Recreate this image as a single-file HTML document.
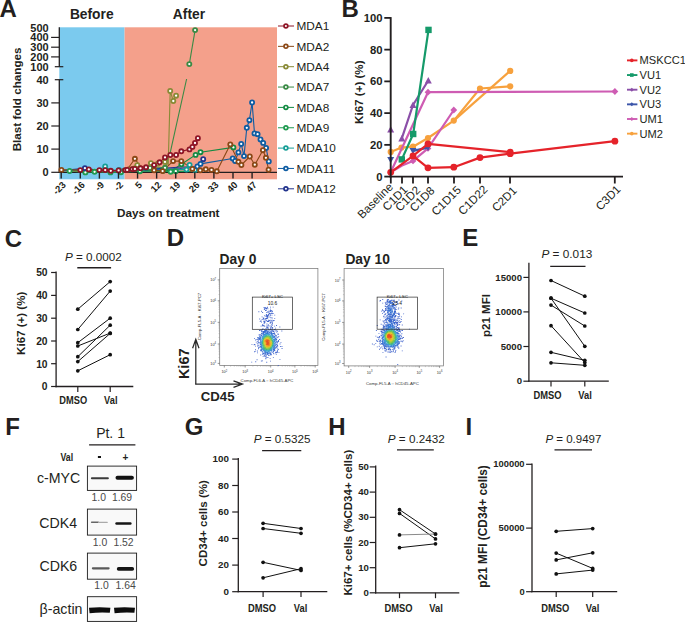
<!DOCTYPE html>
<html><head><meta charset="utf-8"><style>
html,body{margin:0;padding:0;background:#fff;}
svg{display:block;font-family:"Liberation Sans", sans-serif;}
</style></head><body>
<svg width="685" height="622" viewBox="0 0 685 622">
<rect width="685" height="622" fill="#fff"/>
<text x="-0.60" y="16.80" font-size="24" text-anchor="start" fill="#231f20" style="font-weight:bold;" >A</text>
<text x="341.60" y="16.90" font-size="24" text-anchor="start" fill="#231f20" style="font-weight:bold;" >B</text>
<text x="4.80" y="246.50" font-size="24" text-anchor="start" fill="#231f20" style="font-weight:bold;" >C</text>
<text x="166.70" y="246.30" font-size="24" text-anchor="start" fill="#231f20" style="font-weight:bold;" >D</text>
<text x="462.30" y="246.30" font-size="24" text-anchor="start" fill="#231f20" style="font-weight:bold;" >E</text>
<text x="5.30" y="434.60" font-size="24" text-anchor="start" fill="#231f20" style="font-weight:bold;" >F</text>
<text x="184.70" y="434.80" font-size="24" text-anchor="start" fill="#231f20" style="font-weight:bold;" >G</text>
<text x="328.30" y="434.80" font-size="24" text-anchor="start" fill="#231f20" style="font-weight:bold;" >H</text>
<text x="465.50" y="434.80" font-size="24" text-anchor="start" fill="#231f20" style="font-weight:bold;" >I</text>
<rect x="59.30" y="27.30" width="65.30" height="152.00" fill="#7BCAEE" />
<rect x="124.60" y="27.30" width="152.40" height="152.00" fill="#F4A08B" />
<text x="91.75" y="19.10" font-size="13.8" text-anchor="middle" fill="#231f20" style="font-weight:bold;" >Before</text>
<text x="188.95" y="19.10" font-size="13.8" text-anchor="middle" fill="#231f20" style="font-weight:bold;" >After</text>
<line x1="59.30" y1="27.30" x2="59.30" y2="66.70" stroke="#231f20" stroke-width="1.3" />
<line x1="59.30" y1="79.70" x2="59.30" y2="172.90" stroke="#231f20" stroke-width="1.3" />
<line x1="51.10" y1="37.40" x2="59.30" y2="37.40" stroke="#231f20" stroke-width="1.2" />
<line x1="51.10" y1="47.20" x2="59.30" y2="47.20" stroke="#231f20" stroke-width="1.2" />
<line x1="51.10" y1="56.90" x2="59.30" y2="56.90" stroke="#231f20" stroke-width="1.2" />
<line x1="54.80" y1="66.70" x2="63.30" y2="66.70" stroke="#231f20" stroke-width="1.2" />
<line x1="54.80" y1="79.70" x2="63.30" y2="79.70" stroke="#231f20" stroke-width="1.2" />
<line x1="51.30" y1="102.90" x2="59.30" y2="102.90" stroke="#231f20" stroke-width="1.2" />
<line x1="51.30" y1="126.00" x2="59.30" y2="126.00" stroke="#231f20" stroke-width="1.2" />
<line x1="51.30" y1="149.10" x2="59.30" y2="149.10" stroke="#231f20" stroke-width="1.2" />
<line x1="51.30" y1="172.30" x2="59.30" y2="172.30" stroke="#231f20" stroke-width="1.2" />
<text x="48.70" y="31.80" font-size="11" text-anchor="end" fill="#231f20" style="font-weight:bold;" >500</text>
<text x="48.70" y="41.30" font-size="11" text-anchor="end" fill="#231f20" style="font-weight:bold;" >400</text>
<text x="48.70" y="51.10" font-size="11" text-anchor="end" fill="#231f20" style="font-weight:bold;" >300</text>
<text x="48.70" y="60.80" font-size="11" text-anchor="end" fill="#231f20" style="font-weight:bold;" >200</text>
<text x="48.70" y="70.60" font-size="11" text-anchor="end" fill="#231f20" style="font-weight:bold;" >100</text>
<text x="48.70" y="83.60" font-size="11" text-anchor="end" fill="#231f20" style="font-weight:bold;" >40</text>
<text x="48.70" y="106.80" font-size="11" text-anchor="end" fill="#231f20" style="font-weight:bold;" >30</text>
<text x="48.70" y="129.90" font-size="11" text-anchor="end" fill="#231f20" style="font-weight:bold;" >20</text>
<text x="48.70" y="153.00" font-size="11" text-anchor="end" fill="#231f20" style="font-weight:bold;" >10</text>
<text x="48.70" y="176.20" font-size="11" text-anchor="end" fill="#231f20" style="font-weight:bold;" >0</text>
<line x1="58.70" y1="172.30" x2="277.00" y2="172.30" stroke="#231f20" stroke-width="1.3" />
<polyline points="69.60,171.00 85.40,172.40 94.60,171.80 110.50,172.40 121.00,172.20 140.00,171.20 158.00,171.00 170.70,171.70 175.80,171.20 186.00,171.50 191.00,171.50" fill="none" stroke="#1F9A50" stroke-width="1.1" stroke-linejoin="round" />
<polyline points="72.00,171.00 90.00,170.60 100.30,169.40 105.20,166.40 110.00,169.80 119.00,170.00 132.00,171.00 150.00,170.80 168.00,169.50 186.50,169.60 189.60,165.00 195.00,170.00 202.00,171.20" fill="none" stroke="#169E96" stroke-width="1.1" stroke-linejoin="round" />
<polyline points="75.00,170.60 95.00,170.20 112.00,170.60 128.00,171.20 150.00,170.50 163.00,170.80 172.00,170.40 181.40,164.30 195.60,154.90 200.50,152.20 233.40,147.40" fill="none" stroke="#138A42" stroke-width="1.1" stroke-linejoin="round" />
<polyline points="68.00,170.60 86.00,169.80 104.00,170.40 124.00,170.60 140.00,168.00 155.00,167.00 165.00,167.80 170.50,151.30 186.60,79.00" fill="none" stroke="#3A8A45" stroke-width="1.1" stroke-linejoin="round" />
<polyline points="189.30,64.10 195.10,30.10" fill="none" stroke="#3A8A45" stroke-width="1.1" stroke-linejoin="round" />
<polyline points="64.00,171.00 84.00,171.30 102.00,171.20 120.00,170.50 137.30,165.10 143.70,170.70 150.90,163.10 158.00,163.50 165.00,161.90 168.20,164.70 170.20,91.00 173.30,101.00 176.10,95.70" fill="none" stroke="#898A36" stroke-width="1.1" stroke-linejoin="round" />
<polyline points="61.40,170.60 84.90,168.20 100.40,170.60 118.80,170.50 140.60,169.50 160.00,168.50 181.00,167.00 197.20,166.80 203.20,159.20" fill="none" stroke="#22338C" stroke-width="1.1" stroke-linejoin="round" />
<polyline points="63.00,170.80 82.00,169.20 102.00,170.20 120.00,170.80 140.00,170.20 160.00,169.20 180.00,168.50 197.40,166.50 200.50,163.90 232.70,158.50 235.10,161.00 238.40,152.40 241.20,143.90 244.00,156.10 246.80,127.80 249.40,120.20 252.10,102.50 254.50,133.40 257.60,134.20 260.50,139.50 263.20,142.90 266.10,147.90 268.80,161.40" fill="none" stroke="#0E5CA2" stroke-width="1.1" stroke-linejoin="round" />
<polyline points="61.40,169.90 83.00,170.00 101.00,170.50 118.00,170.60 129.20,166.70 134.90,158.80 139.70,165.50 147.00,169.00 154.10,170.30 162.60,171.10 173.10,161.10 181.30,161.10 192.40,168.90 200.20,170.30 205.80,169.30 211.50,169.90 216.80,171.30 230.30,144.40 238.40,161.80 241.40,165.00 249.80,156.50 254.80,164.70 262.90,150.20 265.90,157.80 268.60,169.70" fill="none" stroke="#8B4816" stroke-width="1.1" stroke-linejoin="round" />
<polyline points="80.30,170.10 88.80,169.40 99.40,170.10 105.20,170.10 110.80,170.80 118.60,170.40 125.10,170.10 127.20,169.90 132.40,169.20 134.90,168.90 140.50,168.30 146.00,167.30 154.10,165.10 159.60,162.30 165.00,157.40 170.30,155.00 176.10,155.00 181.30,151.30 189.50,149.40 192.40,146.90 195.00,143.00 197.90,138.20" fill="none" stroke="#8E1526" stroke-width="1.1" stroke-linejoin="round" />
<circle cx="69.60" cy="171.00" r="2.05" fill="#fff" stroke="#1F9A50" stroke-width="1.8"/>
<circle cx="85.40" cy="172.40" r="2.05" fill="#fff" stroke="#1F9A50" stroke-width="1.8"/>
<circle cx="94.60" cy="171.80" r="2.05" fill="#fff" stroke="#1F9A50" stroke-width="1.8"/>
<circle cx="110.50" cy="172.40" r="2.05" fill="#fff" stroke="#1F9A50" stroke-width="1.8"/>
<circle cx="121.00" cy="172.20" r="2.05" fill="#fff" stroke="#1F9A50" stroke-width="1.8"/>
<circle cx="140.00" cy="171.20" r="2.05" fill="#fff" stroke="#1F9A50" stroke-width="1.8"/>
<circle cx="170.70" cy="171.70" r="2.05" fill="#fff" stroke="#1F9A50" stroke-width="1.8"/>
<circle cx="175.80" cy="171.20" r="2.05" fill="#fff" stroke="#1F9A50" stroke-width="1.8"/>
<circle cx="105.20" cy="166.40" r="2.05" fill="#fff" stroke="#169E96" stroke-width="1.8"/>
<circle cx="186.50" cy="169.60" r="2.05" fill="#fff" stroke="#169E96" stroke-width="1.8"/>
<circle cx="189.60" cy="165.00" r="2.05" fill="#fff" stroke="#169E96" stroke-width="1.8"/>
<circle cx="195.00" cy="170.00" r="2.05" fill="#fff" stroke="#169E96" stroke-width="1.8"/>
<circle cx="119.00" cy="170.00" r="2.05" fill="#fff" stroke="#169E96" stroke-width="1.8"/>
<circle cx="181.40" cy="164.30" r="2.05" fill="#fff" stroke="#138A42" stroke-width="1.8"/>
<circle cx="195.60" cy="154.90" r="2.05" fill="#fff" stroke="#138A42" stroke-width="1.8"/>
<circle cx="200.50" cy="152.20" r="2.05" fill="#fff" stroke="#138A42" stroke-width="1.8"/>
<circle cx="233.40" cy="147.40" r="2.05" fill="#fff" stroke="#138A42" stroke-width="1.8"/>
<circle cx="163.00" cy="170.80" r="2.05" fill="#fff" stroke="#138A42" stroke-width="1.8"/>
<circle cx="189.30" cy="64.10" r="2.05" fill="#fff" stroke="#3A8A45" stroke-width="1.8"/>
<circle cx="195.10" cy="30.10" r="2.05" fill="#fff" stroke="#3A8A45" stroke-width="1.8"/>
<circle cx="150.00" cy="168.00" r="2.05" fill="#fff" stroke="#3A8A45" stroke-width="1.8"/>
<circle cx="165.00" cy="167.80" r="2.05" fill="#fff" stroke="#3A8A45" stroke-width="1.8"/>
<circle cx="170.20" cy="91.00" r="2.05" fill="#fff" stroke="#898A36" stroke-width="1.8"/>
<circle cx="173.30" cy="101.00" r="2.05" fill="#fff" stroke="#898A36" stroke-width="1.8"/>
<circle cx="176.10" cy="95.70" r="2.05" fill="#fff" stroke="#898A36" stroke-width="1.8"/>
<circle cx="137.30" cy="165.10" r="2.05" fill="#fff" stroke="#898A36" stroke-width="1.8"/>
<circle cx="150.90" cy="163.10" r="2.05" fill="#fff" stroke="#898A36" stroke-width="1.8"/>
<circle cx="158.00" cy="163.50" r="2.05" fill="#fff" stroke="#898A36" stroke-width="1.8"/>
<circle cx="165.00" cy="161.90" r="2.05" fill="#fff" stroke="#898A36" stroke-width="1.8"/>
<circle cx="203.20" cy="159.20" r="2.05" fill="#fff" stroke="#22338C" stroke-width="1.8"/>
<circle cx="84.90" cy="168.20" r="2.05" fill="#fff" stroke="#22338C" stroke-width="1.8"/>
<circle cx="197.40" cy="166.50" r="2.05" fill="#fff" stroke="#0E5CA2" stroke-width="1.8"/>
<circle cx="200.50" cy="163.90" r="2.05" fill="#fff" stroke="#0E5CA2" stroke-width="1.8"/>
<circle cx="232.70" cy="158.50" r="2.05" fill="#fff" stroke="#0E5CA2" stroke-width="1.8"/>
<circle cx="235.10" cy="161.00" r="2.05" fill="#fff" stroke="#0E5CA2" stroke-width="1.8"/>
<circle cx="238.40" cy="152.40" r="2.05" fill="#fff" stroke="#0E5CA2" stroke-width="1.8"/>
<circle cx="241.20" cy="143.90" r="2.05" fill="#fff" stroke="#0E5CA2" stroke-width="1.8"/>
<circle cx="244.00" cy="156.10" r="2.05" fill="#fff" stroke="#0E5CA2" stroke-width="1.8"/>
<circle cx="246.80" cy="127.80" r="2.05" fill="#fff" stroke="#0E5CA2" stroke-width="1.8"/>
<circle cx="249.40" cy="120.20" r="2.05" fill="#fff" stroke="#0E5CA2" stroke-width="1.8"/>
<circle cx="252.10" cy="102.50" r="2.05" fill="#fff" stroke="#0E5CA2" stroke-width="1.8"/>
<circle cx="254.50" cy="133.40" r="2.05" fill="#fff" stroke="#0E5CA2" stroke-width="1.8"/>
<circle cx="257.60" cy="134.20" r="2.05" fill="#fff" stroke="#0E5CA2" stroke-width="1.8"/>
<circle cx="260.50" cy="139.50" r="2.05" fill="#fff" stroke="#0E5CA2" stroke-width="1.8"/>
<circle cx="263.20" cy="142.90" r="2.05" fill="#fff" stroke="#0E5CA2" stroke-width="1.8"/>
<circle cx="266.10" cy="147.90" r="2.05" fill="#fff" stroke="#0E5CA2" stroke-width="1.8"/>
<circle cx="268.80" cy="161.40" r="2.05" fill="#fff" stroke="#0E5CA2" stroke-width="1.8"/>
<circle cx="61.40" cy="169.90" r="2.05" fill="#fff" stroke="#8B4816" stroke-width="1.8"/>
<circle cx="134.90" cy="158.80" r="2.05" fill="#fff" stroke="#8B4816" stroke-width="1.8"/>
<circle cx="154.10" cy="170.30" r="2.05" fill="#fff" stroke="#8B4816" stroke-width="1.8"/>
<circle cx="162.60" cy="171.10" r="2.05" fill="#fff" stroke="#8B4816" stroke-width="1.8"/>
<circle cx="173.10" cy="161.10" r="2.05" fill="#fff" stroke="#8B4816" stroke-width="1.8"/>
<circle cx="181.30" cy="161.10" r="2.05" fill="#fff" stroke="#8B4816" stroke-width="1.8"/>
<circle cx="192.40" cy="168.90" r="2.05" fill="#fff" stroke="#8B4816" stroke-width="1.8"/>
<circle cx="200.20" cy="170.30" r="2.05" fill="#fff" stroke="#8B4816" stroke-width="1.8"/>
<circle cx="205.80" cy="169.30" r="2.05" fill="#fff" stroke="#8B4816" stroke-width="1.8"/>
<circle cx="211.50" cy="169.90" r="2.05" fill="#fff" stroke="#8B4816" stroke-width="1.8"/>
<circle cx="216.80" cy="171.30" r="2.05" fill="#fff" stroke="#8B4816" stroke-width="1.8"/>
<circle cx="230.30" cy="144.40" r="2.05" fill="#fff" stroke="#8B4816" stroke-width="1.8"/>
<circle cx="238.40" cy="161.80" r="2.05" fill="#fff" stroke="#8B4816" stroke-width="1.8"/>
<circle cx="241.40" cy="165.00" r="2.05" fill="#fff" stroke="#8B4816" stroke-width="1.8"/>
<circle cx="249.80" cy="156.50" r="2.05" fill="#fff" stroke="#8B4816" stroke-width="1.8"/>
<circle cx="254.80" cy="164.70" r="2.05" fill="#fff" stroke="#8B4816" stroke-width="1.8"/>
<circle cx="262.90" cy="150.20" r="2.05" fill="#fff" stroke="#8B4816" stroke-width="1.8"/>
<circle cx="265.90" cy="157.80" r="2.05" fill="#fff" stroke="#8B4816" stroke-width="1.8"/>
<circle cx="268.60" cy="169.70" r="2.05" fill="#fff" stroke="#8B4816" stroke-width="1.8"/>
<circle cx="80.30" cy="170.10" r="2.05" fill="#fff" stroke="#8E1526" stroke-width="1.8"/>
<circle cx="88.80" cy="169.40" r="2.05" fill="#fff" stroke="#8E1526" stroke-width="1.8"/>
<circle cx="99.40" cy="170.10" r="2.05" fill="#fff" stroke="#8E1526" stroke-width="1.8"/>
<circle cx="105.20" cy="170.10" r="2.05" fill="#fff" stroke="#8E1526" stroke-width="1.8"/>
<circle cx="110.80" cy="170.80" r="2.05" fill="#fff" stroke="#8E1526" stroke-width="1.8"/>
<circle cx="118.60" cy="170.40" r="2.05" fill="#fff" stroke="#8E1526" stroke-width="1.8"/>
<circle cx="125.10" cy="170.10" r="2.05" fill="#fff" stroke="#8E1526" stroke-width="1.8"/>
<circle cx="127.20" cy="169.90" r="2.05" fill="#fff" stroke="#8E1526" stroke-width="1.8"/>
<circle cx="132.40" cy="169.20" r="2.05" fill="#fff" stroke="#8E1526" stroke-width="1.8"/>
<circle cx="134.90" cy="168.90" r="2.05" fill="#fff" stroke="#8E1526" stroke-width="1.8"/>
<circle cx="140.50" cy="168.30" r="2.05" fill="#fff" stroke="#8E1526" stroke-width="1.8"/>
<circle cx="146.00" cy="167.30" r="2.05" fill="#fff" stroke="#8E1526" stroke-width="1.8"/>
<circle cx="154.10" cy="165.10" r="2.05" fill="#fff" stroke="#8E1526" stroke-width="1.8"/>
<circle cx="159.60" cy="162.30" r="2.05" fill="#fff" stroke="#8E1526" stroke-width="1.8"/>
<circle cx="165.00" cy="157.40" r="2.05" fill="#fff" stroke="#8E1526" stroke-width="1.8"/>
<circle cx="170.30" cy="155.00" r="2.05" fill="#fff" stroke="#8E1526" stroke-width="1.8"/>
<circle cx="176.10" cy="155.00" r="2.05" fill="#fff" stroke="#8E1526" stroke-width="1.8"/>
<circle cx="181.30" cy="151.30" r="2.05" fill="#fff" stroke="#8E1526" stroke-width="1.8"/>
<circle cx="189.50" cy="149.40" r="2.05" fill="#fff" stroke="#8E1526" stroke-width="1.8"/>
<circle cx="192.40" cy="146.90" r="2.05" fill="#fff" stroke="#8E1526" stroke-width="1.8"/>
<circle cx="195.00" cy="143.00" r="2.05" fill="#fff" stroke="#8E1526" stroke-width="1.8"/>
<circle cx="197.90" cy="138.20" r="2.05" fill="#fff" stroke="#8E1526" stroke-width="1.8"/>
<line x1="61.20" y1="172.30" x2="61.20" y2="178.60" stroke="#231f20" stroke-width="1.4" />
<text transform="translate(66.50,185.6) rotate(-45)" font-size="9.5" text-anchor="end" fill="#231f20" style="font-weight:bold">-23</text>
<line x1="80.29" y1="172.30" x2="80.29" y2="178.60" stroke="#231f20" stroke-width="1.4" />
<text transform="translate(85.59,185.6) rotate(-45)" font-size="9.5" text-anchor="end" fill="#231f20" style="font-weight:bold">-16</text>
<line x1="99.38" y1="172.30" x2="99.38" y2="178.60" stroke="#231f20" stroke-width="1.4" />
<text transform="translate(104.68,185.6) rotate(-45)" font-size="9.5" text-anchor="end" fill="#231f20" style="font-weight:bold">-9</text>
<line x1="118.47" y1="172.30" x2="118.47" y2="178.60" stroke="#231f20" stroke-width="1.4" />
<text transform="translate(123.77,185.6) rotate(-45)" font-size="9.5" text-anchor="end" fill="#231f20" style="font-weight:bold">-2</text>
<line x1="137.56" y1="172.30" x2="137.56" y2="178.60" stroke="#231f20" stroke-width="1.4" />
<text transform="translate(142.86,185.6) rotate(-45)" font-size="9.5" text-anchor="end" fill="#231f20" style="font-weight:bold">5</text>
<line x1="156.64" y1="172.30" x2="156.64" y2="178.60" stroke="#231f20" stroke-width="1.4" />
<text transform="translate(161.94,185.6) rotate(-45)" font-size="9.5" text-anchor="end" fill="#231f20" style="font-weight:bold">12</text>
<line x1="175.73" y1="172.30" x2="175.73" y2="178.60" stroke="#231f20" stroke-width="1.4" />
<text transform="translate(181.03,185.6) rotate(-45)" font-size="9.5" text-anchor="end" fill="#231f20" style="font-weight:bold">19</text>
<line x1="194.82" y1="172.30" x2="194.82" y2="178.60" stroke="#231f20" stroke-width="1.4" />
<text transform="translate(200.12,185.6) rotate(-45)" font-size="9.5" text-anchor="end" fill="#231f20" style="font-weight:bold">26</text>
<line x1="213.91" y1="172.30" x2="213.91" y2="178.60" stroke="#231f20" stroke-width="1.4" />
<text transform="translate(219.21,185.6) rotate(-45)" font-size="9.5" text-anchor="end" fill="#231f20" style="font-weight:bold">33</text>
<line x1="233.00" y1="172.30" x2="233.00" y2="178.60" stroke="#231f20" stroke-width="1.4" />
<text transform="translate(238.30,185.6) rotate(-45)" font-size="9.5" text-anchor="end" fill="#231f20" style="font-weight:bold">40</text>
<line x1="252.09" y1="172.30" x2="252.09" y2="178.60" stroke="#231f20" stroke-width="1.4" />
<text transform="translate(257.39,185.6) rotate(-45)" font-size="9.5" text-anchor="end" fill="#231f20" style="font-weight:bold">47</text>
<text x="117.00" y="216.80" font-size="11.75" text-anchor="start" fill="#231f20" style="font-weight:bold;" >Days on treatment</text>
<text transform="translate(20.8,99.4) rotate(-90)" font-size="11.7" text-anchor="middle" fill="#231f20" style="font-weight:bold">Blast fold changes</text>
<line x1="278.00" y1="26.00" x2="294.00" y2="26.00" stroke="#8E1526" stroke-width="1" />
<circle cx="285.9" cy="26.00" r="1.9" fill="#fff" stroke="#8E1526" stroke-width="1.7"/>
<text x="296.50" y="30.20" font-size="11.8" text-anchor="start" fill="#231f20" style="" >MDA1</text>
<line x1="278.00" y1="46.35" x2="294.00" y2="46.35" stroke="#8B4816" stroke-width="1" />
<circle cx="285.9" cy="46.35" r="1.9" fill="#fff" stroke="#8B4816" stroke-width="1.7"/>
<text x="296.50" y="50.55" font-size="11.8" text-anchor="start" fill="#231f20" style="" >MDA2</text>
<line x1="278.00" y1="66.70" x2="294.00" y2="66.70" stroke="#898A36" stroke-width="1" />
<circle cx="285.9" cy="66.70" r="1.9" fill="#fff" stroke="#898A36" stroke-width="1.7"/>
<text x="296.50" y="70.90" font-size="11.8" text-anchor="start" fill="#231f20" style="" >MDA4</text>
<line x1="278.00" y1="87.05" x2="294.00" y2="87.05" stroke="#3A8A45" stroke-width="1" />
<circle cx="285.9" cy="87.05" r="1.9" fill="#fff" stroke="#3A8A45" stroke-width="1.7"/>
<text x="296.50" y="91.25" font-size="11.8" text-anchor="start" fill="#231f20" style="" >MDA7</text>
<line x1="278.00" y1="107.40" x2="294.00" y2="107.40" stroke="#138A42" stroke-width="1" />
<circle cx="285.9" cy="107.40" r="1.9" fill="#fff" stroke="#138A42" stroke-width="1.7"/>
<text x="296.50" y="111.60" font-size="11.8" text-anchor="start" fill="#231f20" style="" >MDA8</text>
<line x1="278.00" y1="127.75" x2="294.00" y2="127.75" stroke="#1F9A50" stroke-width="1" />
<circle cx="285.9" cy="127.75" r="1.9" fill="#fff" stroke="#1F9A50" stroke-width="1.7"/>
<text x="296.50" y="131.95" font-size="11.8" text-anchor="start" fill="#231f20" style="" >MDA9</text>
<line x1="278.00" y1="148.10" x2="294.00" y2="148.10" stroke="#169E96" stroke-width="1" />
<circle cx="285.9" cy="148.10" r="1.9" fill="#fff" stroke="#169E96" stroke-width="1.7"/>
<text x="296.50" y="152.30" font-size="11.8" text-anchor="start" fill="#231f20" style="" >MDA10</text>
<line x1="278.00" y1="168.45" x2="294.00" y2="168.45" stroke="#0E5CA2" stroke-width="1" />
<circle cx="285.9" cy="168.45" r="1.9" fill="#fff" stroke="#0E5CA2" stroke-width="1.7"/>
<text x="296.50" y="172.65" font-size="11.8" text-anchor="start" fill="#231f20" style="" >MDA11</text>
<line x1="278.00" y1="188.80" x2="294.00" y2="188.80" stroke="#22338C" stroke-width="1" />
<circle cx="285.9" cy="188.80" r="1.9" fill="#fff" stroke="#22338C" stroke-width="1.7"/>
<text x="296.50" y="193.00" font-size="11.8" text-anchor="start" fill="#231f20" style="" >MDA12</text>
<polyline points="390.70,151.90 401.50,147.60 413.00,146.70 428.00,138.00 453.80,120.60 480.00,88.50 510.20,86.30" fill="none" stroke="#F7A13D" stroke-width="2.2" stroke-linejoin="round" />
<polyline points="453.80,120.60 510.20,70.90" fill="none" stroke="#F7A13D" stroke-width="2.2" stroke-linejoin="round" />
<circle cx="390.7" cy="151.9" r="3.1" fill="#F7A13D"/>
<circle cx="401.5" cy="147.6" r="3.1" fill="#F7A13D"/>
<circle cx="413.0" cy="146.7" r="3.1" fill="#F7A13D"/>
<circle cx="428.0" cy="138.0" r="3.1" fill="#F7A13D"/>
<circle cx="453.8" cy="120.6" r="3.1" fill="#F7A13D"/>
<circle cx="480.0" cy="88.5" r="3.1" fill="#F7A13D"/>
<circle cx="510.2" cy="86.3" r="3.1" fill="#F7A13D"/>
<circle cx="510.2" cy="70.9" r="3.1" fill="#F7A13D"/>
<polyline points="390.70,172.30 402.00,165.50 413.00,160.90 428.00,148.40 453.80,110.00" fill="none" stroke="#CE5CB3" stroke-width="2.2" stroke-linejoin="round" />
<polyline points="390.70,172.30 428.00,92.20 614.90,91.50" fill="none" stroke="#CE5CB3" stroke-width="2.2" stroke-linejoin="round" />
<path d="M409.6,160.9 L413.0,157.5 L416.4,160.9 L413.0,164.3Z" fill="#CE5CB3"/>
<path d="M424.6,148.4 L428.0,145.0 L431.4,148.4 L428.0,151.8Z" fill="#CE5CB3"/>
<path d="M450.40000000000003,110.0 L453.8,106.6 L457.2,110.0 L453.8,113.4Z" fill="#CE5CB3"/>
<path d="M424.6,92.2 L428.0,88.8 L431.4,92.2 L428.0,95.60000000000001Z" fill="#CE5CB3"/>
<path d="M611.5,91.5 L614.9,88.1 L618.3,91.5 L614.9,94.9Z" fill="#CE5CB3"/>
<polyline points="413.00,150.90 428.00,147.60" fill="none" stroke="#3C56A9" stroke-width="2.2" stroke-linejoin="round" />
<path d="M387.2,156.9 L394.2,156.9 L390.7,163.20000000000002Z" fill="#3C56A9"/>
<path d="M409.5,147.9 L416.5,147.9 L413.0,154.20000000000002Z" fill="#3C56A9"/>
<path d="M424.5,144.6 L431.5,144.6 L428.0,150.9Z" fill="#3C56A9"/>
<polyline points="401.80,138.40 413.00,105.00 428.30,80.50" fill="none" stroke="#8B4FA8" stroke-width="2.2" stroke-linejoin="round" />
<path d="M387.2,132.5 L394.2,132.5 L390.7,126.0Z" fill="#8B4FA8"/>
<path d="M398.3,141.4 L405.3,141.4 L401.8,134.9Z" fill="#8B4FA8"/>
<path d="M409.5,108.0 L416.5,108.0 L413.0,101.5Z" fill="#8B4FA8"/>
<path d="M424.8,83.5 L431.8,83.5 L428.3,77.0Z" fill="#8B4FA8"/>
<polyline points="401.80,159.40 413.20,134.00 428.50,29.90" fill="none" stroke="#159A6A" stroke-width="2.2" stroke-linejoin="round" />
<rect x="398.60" y="156.20" width="6.40" height="6.40" fill="#159A6A" />
<rect x="410.00" y="130.80" width="6.40" height="6.40" fill="#159A6A" />
<rect x="425.30" y="26.70" width="6.40" height="6.40" fill="#159A6A" />
<polyline points="390.70,172.30 413.00,155.90 428.00,143.90 510.20,152.10" fill="none" stroke="#E5232A" stroke-width="2.2" stroke-linejoin="round" />
<polyline points="413.00,155.90 428.00,167.80 453.80,167.20 480.00,157.60 510.20,153.70 614.90,141.20" fill="none" stroke="#E5232A" stroke-width="2.2" stroke-linejoin="round" />
<circle cx="390.7" cy="172.3" r="3.4" fill="#E5232A"/>
<circle cx="413.0" cy="155.9" r="3.4" fill="#E5232A"/>
<circle cx="428.0" cy="143.9" r="3.4" fill="#E5232A"/>
<circle cx="428.0" cy="167.8" r="3.4" fill="#E5232A"/>
<circle cx="453.8" cy="167.2" r="3.4" fill="#E5232A"/>
<circle cx="480.0" cy="157.6" r="3.4" fill="#E5232A"/>
<circle cx="510.2" cy="152.1" r="3.4" fill="#E5232A"/>
<circle cx="510.2" cy="153.7" r="3.4" fill="#E5232A"/>
<circle cx="614.9" cy="141.2" r="3.4" fill="#E5232A"/>
<line x1="390.70" y1="17.10" x2="390.70" y2="177.50" stroke="#231f20" stroke-width="1.9" />
<line x1="389.80" y1="176.60" x2="623.00" y2="176.60" stroke="#231f20" stroke-width="1.9" />
<line x1="384.30" y1="176.60" x2="390.70" y2="176.60" stroke="#231f20" stroke-width="1.8" />
<text x="382.60" y="180.70" font-size="11.3" text-anchor="end" fill="#231f20" style="font-weight:bold;" >0</text>
<line x1="384.30" y1="144.86" x2="390.70" y2="144.86" stroke="#231f20" stroke-width="1.8" />
<text x="382.60" y="148.96" font-size="11.3" text-anchor="end" fill="#231f20" style="font-weight:bold;" >20</text>
<line x1="384.30" y1="113.12" x2="390.70" y2="113.12" stroke="#231f20" stroke-width="1.8" />
<text x="382.60" y="117.22" font-size="11.3" text-anchor="end" fill="#231f20" style="font-weight:bold;" >40</text>
<line x1="384.30" y1="81.38" x2="390.70" y2="81.38" stroke="#231f20" stroke-width="1.8" />
<text x="382.60" y="85.48" font-size="11.3" text-anchor="end" fill="#231f20" style="font-weight:bold;" >60</text>
<line x1="384.30" y1="49.64" x2="390.70" y2="49.64" stroke="#231f20" stroke-width="1.8" />
<text x="382.60" y="53.74" font-size="11.3" text-anchor="end" fill="#231f20" style="font-weight:bold;" >80</text>
<line x1="384.30" y1="17.90" x2="390.70" y2="17.90" stroke="#231f20" stroke-width="1.8" />
<text x="382.60" y="22.00" font-size="11.3" text-anchor="end" fill="#231f20" style="font-weight:bold;" >100</text>
<line x1="390.80" y1="176.60" x2="390.80" y2="183.50" stroke="#231f20" stroke-width="1.8" />
<text transform="translate(393.70,187.70) rotate(-45)" font-size="11.6" text-anchor="end" fill="#231f20">Baseline</text>
<line x1="402.00" y1="176.60" x2="402.00" y2="183.50" stroke="#231f20" stroke-width="1.8" />
<text transform="translate(408.30,190.50) rotate(-45)" font-size="11.6" text-anchor="end" fill="#231f20">C1D1</text>
<line x1="413.00" y1="176.60" x2="413.00" y2="183.50" stroke="#231f20" stroke-width="1.8" />
<text transform="translate(421.00,191.00) rotate(-45)" font-size="11.6" text-anchor="end" fill="#231f20">C1D2</text>
<line x1="428.00" y1="176.60" x2="428.00" y2="183.50" stroke="#231f20" stroke-width="1.8" />
<text transform="translate(435.40,191.50) rotate(-45)" font-size="11.6" text-anchor="end" fill="#231f20">C1D8</text>
<line x1="454.00" y1="176.60" x2="454.00" y2="183.50" stroke="#231f20" stroke-width="1.8" />
<text transform="translate(461.70,190.80) rotate(-45)" font-size="11.6" text-anchor="end" fill="#231f20">C1D15</text>
<line x1="480.00" y1="176.60" x2="480.00" y2="183.50" stroke="#231f20" stroke-width="1.8" />
<text transform="translate(488.40,190.20) rotate(-45)" font-size="11.6" text-anchor="end" fill="#231f20">C1D22</text>
<line x1="510.00" y1="176.60" x2="510.00" y2="183.50" stroke="#231f20" stroke-width="1.8" />
<text transform="translate(517.60,191.40) rotate(-45)" font-size="11.6" text-anchor="end" fill="#231f20">C2D1</text>
<line x1="614.80" y1="176.60" x2="614.80" y2="183.50" stroke="#231f20" stroke-width="1.8" />
<text transform="translate(621.40,190.10) rotate(-45)" font-size="11.6" text-anchor="end" fill="#231f20">C3D1</text>
<text transform="translate(362.9,92.2) rotate(-90)" font-size="11.6" text-anchor="middle" fill="#231f20" style="font-weight:bold">Ki67 (+) (%)</text>
<line x1="627.00" y1="60.40" x2="637.40" y2="60.40" stroke="#E5232A" stroke-width="1.9" />
<circle cx="631.8" cy="60.4" r="1.8" fill="#E5232A"/>
<text x="639.60" y="64.40" font-size="11.1" text-anchor="start" fill="#231f20" style="" >MSKCC1</text>
<line x1="627.00" y1="75.05" x2="637.40" y2="75.05" stroke="#159A6A" stroke-width="1.9" />
<rect x="630.00" y="73.25" width="3.60" height="3.60" fill="#159A6A" />
<text x="639.60" y="79.05" font-size="11.1" text-anchor="start" fill="#231f20" style="" >VU1</text>
<line x1="627.00" y1="89.70" x2="637.40" y2="89.70" stroke="#8B4FA8" stroke-width="1.9" />
<path d="M629.8,89.7 L631.8,87.7 L633.8,89.7 L631.8,91.7Z" fill="#8B4FA8"/>
<text x="639.60" y="93.70" font-size="11.1" text-anchor="start" fill="#231f20" style="" >VU2</text>
<line x1="627.00" y1="104.35" x2="637.40" y2="104.35" stroke="#3C56A9" stroke-width="1.9" />
<path d="M629.8,104.35 L631.8,102.35 L633.8,104.35 L631.8,106.35Z" fill="#3C56A9"/>
<text x="639.60" y="108.35" font-size="11.1" text-anchor="start" fill="#231f20" style="" >VU3</text>
<line x1="627.00" y1="119.00" x2="637.40" y2="119.00" stroke="#CE5CB3" stroke-width="1.9" />
<path d="M629.8,119.0 L631.8,117.0 L633.8,119.0 L631.8,121.0Z" fill="#CE5CB3"/>
<text x="639.60" y="123.00" font-size="11.1" text-anchor="start" fill="#231f20" style="" >UM1</text>
<line x1="627.00" y1="133.65" x2="637.40" y2="133.65" stroke="#F7A13D" stroke-width="1.9" />
<circle cx="631.8" cy="133.65" r="1.8" fill="#F7A13D"/>
<text x="639.60" y="137.65" font-size="11.1" text-anchor="start" fill="#231f20" style="" >UM2</text>
<line x1="56.10" y1="271.60" x2="56.10" y2="387.15" stroke="#231f20" stroke-width="1.3" />
<line x1="55.45" y1="386.50" x2="133.30" y2="386.50" stroke="#231f20" stroke-width="1.3" />
<line x1="51.10" y1="272.50" x2="56.10" y2="272.50" stroke="#231f20" stroke-width="1.2" />
<text x="47.60" y="276.39" font-size="10.3" text-anchor="end" fill="#231f20" style="font-weight:bold;" >50</text>
<line x1="51.10" y1="295.40" x2="56.10" y2="295.40" stroke="#231f20" stroke-width="1.2" />
<text x="47.60" y="299.29" font-size="10.3" text-anchor="end" fill="#231f20" style="font-weight:bold;" >40</text>
<line x1="51.10" y1="318.20" x2="56.10" y2="318.20" stroke="#231f20" stroke-width="1.2" />
<text x="47.60" y="322.09" font-size="10.3" text-anchor="end" fill="#231f20" style="font-weight:bold;" >30</text>
<line x1="51.10" y1="341.00" x2="56.10" y2="341.00" stroke="#231f20" stroke-width="1.2" />
<text x="47.60" y="344.89" font-size="10.3" text-anchor="end" fill="#231f20" style="font-weight:bold;" >20</text>
<line x1="51.10" y1="363.70" x2="56.10" y2="363.70" stroke="#231f20" stroke-width="1.2" />
<text x="47.60" y="367.59" font-size="10.3" text-anchor="end" fill="#231f20" style="font-weight:bold;" >10</text>
<line x1="51.10" y1="386.50" x2="56.10" y2="386.50" stroke="#231f20" stroke-width="1.2" />
<text x="47.60" y="390.39" font-size="10.3" text-anchor="end" fill="#231f20" style="font-weight:bold;" >0</text>
<line x1="77.80" y1="386.50" x2="77.80" y2="391.90" stroke="#231f20" stroke-width="1.2" />
<line x1="110.20" y1="386.50" x2="110.20" y2="391.90" stroke="#231f20" stroke-width="1.2" />
<line x1="77.80" y1="309.20" x2="110.20" y2="281.60" stroke="#111" stroke-width="1.0" />
<line x1="77.80" y1="329.50" x2="110.20" y2="291.10" stroke="#111" stroke-width="1.0" />
<line x1="77.80" y1="342.70" x2="110.20" y2="318.20" stroke="#111" stroke-width="1.0" />
<line x1="77.80" y1="346.00" x2="110.20" y2="333.10" stroke="#111" stroke-width="1.0" />
<line x1="77.80" y1="356.70" x2="110.20" y2="325.20" stroke="#111" stroke-width="1.0" />
<line x1="77.80" y1="361.60" x2="110.20" y2="333.40" stroke="#111" stroke-width="1.0" />
<line x1="77.80" y1="370.80" x2="110.20" y2="354.70" stroke="#111" stroke-width="1.0" />
<circle cx="77.8" cy="309.2" r="1.85" fill="#111"/>
<circle cx="110.2" cy="281.6" r="1.85" fill="#111"/>
<circle cx="77.8" cy="329.5" r="1.85" fill="#111"/>
<circle cx="110.2" cy="291.1" r="1.85" fill="#111"/>
<circle cx="77.8" cy="342.7" r="1.85" fill="#111"/>
<circle cx="110.2" cy="318.2" r="1.85" fill="#111"/>
<circle cx="77.8" cy="346.0" r="1.85" fill="#111"/>
<circle cx="110.2" cy="333.1" r="1.85" fill="#111"/>
<circle cx="77.8" cy="356.7" r="1.85" fill="#111"/>
<circle cx="110.2" cy="325.2" r="1.85" fill="#111"/>
<circle cx="77.8" cy="361.6" r="1.85" fill="#111"/>
<circle cx="110.2" cy="333.4" r="1.85" fill="#111"/>
<circle cx="77.8" cy="370.8" r="1.85" fill="#111"/>
<circle cx="110.2" cy="354.7" r="1.85" fill="#111"/>
<text transform="translate(73.25,403.90) scale(0.9,1)" font-size="10.3" text-anchor="middle" fill="#231f20" style="font-weight:bold">DMSO</text>
<text transform="translate(110.80,403.90) scale(0.9,1)" font-size="10.3" text-anchor="middle" fill="#231f20" style="font-weight:bold">Val</text>
<text x="93.45" y="260.9" font-size="11.7" text-anchor="middle" fill="#231f20"><tspan style="font-style:italic">P</tspan> = 0.0002</text>
<line x1="77.30" y1="267.80" x2="111.10" y2="267.80" stroke="#231f20" stroke-width="1.4" />
<text transform="translate(25.4,323.3) rotate(-90)" font-size="11.55" text-anchor="middle" fill="#231f20" style="font-weight:bold">Ki67 (+) (%)</text>
<line x1="528.90" y1="262.80" x2="528.90" y2="381.85" stroke="#231f20" stroke-width="1.3" />
<line x1="528.25" y1="381.20" x2="608.80" y2="381.20" stroke="#231f20" stroke-width="1.3" />
<line x1="523.40" y1="277.40" x2="528.90" y2="277.40" stroke="#231f20" stroke-width="1.2" />
<text x="522.00" y="280.54" font-size="9.6" text-anchor="end" fill="#231f20" style="font-weight:bold;" >15000</text>
<line x1="523.40" y1="311.90" x2="528.90" y2="311.90" stroke="#231f20" stroke-width="1.2" />
<text x="522.00" y="315.04" font-size="9.6" text-anchor="end" fill="#231f20" style="font-weight:bold;" >10000</text>
<line x1="523.40" y1="346.50" x2="528.90" y2="346.50" stroke="#231f20" stroke-width="1.2" />
<text x="522.00" y="349.64" font-size="9.6" text-anchor="end" fill="#231f20" style="font-weight:bold;" >5000</text>
<line x1="523.40" y1="381.20" x2="528.90" y2="381.20" stroke="#231f20" stroke-width="1.2" />
<text x="522.00" y="384.34" font-size="9.6" text-anchor="end" fill="#231f20" style="font-weight:bold;" >0</text>
<line x1="551.00" y1="381.20" x2="551.00" y2="386.60" stroke="#231f20" stroke-width="1.2" />
<line x1="584.80" y1="381.20" x2="584.80" y2="386.60" stroke="#231f20" stroke-width="1.2" />
<line x1="551.00" y1="280.50" x2="584.80" y2="296.20" stroke="#111" stroke-width="1.0" />
<line x1="551.00" y1="298.20" x2="584.80" y2="313.00" stroke="#111" stroke-width="1.0" />
<line x1="551.00" y1="298.20" x2="584.80" y2="346.30" stroke="#111" stroke-width="1.0" />
<line x1="551.00" y1="305.10" x2="584.80" y2="326.00" stroke="#111" stroke-width="1.0" />
<line x1="551.00" y1="325.70" x2="584.80" y2="362.50" stroke="#111" stroke-width="1.0" />
<line x1="551.00" y1="352.30" x2="584.80" y2="360.30" stroke="#111" stroke-width="1.0" />
<line x1="551.00" y1="362.80" x2="584.80" y2="365.30" stroke="#111" stroke-width="1.0" />
<circle cx="551.0" cy="280.5" r="1.85" fill="#111"/>
<circle cx="584.8" cy="296.2" r="1.85" fill="#111"/>
<circle cx="551.0" cy="298.2" r="1.85" fill="#111"/>
<circle cx="584.8" cy="313.0" r="1.85" fill="#111"/>
<circle cx="551.0" cy="298.2" r="1.85" fill="#111"/>
<circle cx="584.8" cy="346.3" r="1.85" fill="#111"/>
<circle cx="551.0" cy="305.1" r="1.85" fill="#111"/>
<circle cx="584.8" cy="326.0" r="1.85" fill="#111"/>
<circle cx="551.0" cy="325.7" r="1.85" fill="#111"/>
<circle cx="584.8" cy="362.5" r="1.85" fill="#111"/>
<circle cx="551.0" cy="352.3" r="1.85" fill="#111"/>
<circle cx="584.8" cy="360.3" r="1.85" fill="#111"/>
<circle cx="551.0" cy="362.8" r="1.85" fill="#111"/>
<circle cx="584.8" cy="365.3" r="1.85" fill="#111"/>
<text transform="translate(547.50,399.00) scale(0.85,1)" font-size="11.0" text-anchor="middle" fill="#231f20" style="font-weight:bold">DMSO</text>
<text transform="translate(585.10,399.00) scale(0.85,1)" font-size="11.0" text-anchor="middle" fill="#231f20" style="font-weight:bold">Val</text>
<text x="566.85" y="258.2" font-size="11.8" text-anchor="middle" fill="#231f20"><tspan style="font-style:italic">P</tspan> = 0.013</text>
<line x1="550.20" y1="266.40" x2="585.50" y2="266.40" stroke="#231f20" stroke-width="1.4" />
<text transform="translate(489.9,315.5) rotate(-90)" font-size="11.5" text-anchor="middle" fill="#231f20" style="font-weight:bold">p21 MFI</text>
<line x1="238.30" y1="458.10" x2="238.30" y2="592.35" stroke="#231f20" stroke-width="1.3" />
<line x1="237.65" y1="591.70" x2="327.30" y2="591.70" stroke="#231f20" stroke-width="1.3" />
<line x1="232.20" y1="459.10" x2="238.30" y2="459.10" stroke="#231f20" stroke-width="1.2" />
<text x="228.90" y="462.31" font-size="9.8" text-anchor="end" fill="#231f20" style="font-weight:bold;" >100</text>
<line x1="232.20" y1="485.50" x2="238.30" y2="485.50" stroke="#231f20" stroke-width="1.2" />
<text x="228.90" y="488.71" font-size="9.8" text-anchor="end" fill="#231f20" style="font-weight:bold;" >80</text>
<line x1="232.20" y1="512.00" x2="238.30" y2="512.00" stroke="#231f20" stroke-width="1.2" />
<text x="228.90" y="515.21" font-size="9.8" text-anchor="end" fill="#231f20" style="font-weight:bold;" >60</text>
<line x1="232.20" y1="538.50" x2="238.30" y2="538.50" stroke="#231f20" stroke-width="1.2" />
<text x="228.90" y="541.71" font-size="9.8" text-anchor="end" fill="#231f20" style="font-weight:bold;" >40</text>
<line x1="232.20" y1="565.10" x2="238.30" y2="565.10" stroke="#231f20" stroke-width="1.2" />
<text x="228.90" y="568.31" font-size="9.8" text-anchor="end" fill="#231f20" style="font-weight:bold;" >20</text>
<line x1="232.20" y1="591.70" x2="238.30" y2="591.70" stroke="#231f20" stroke-width="1.2" />
<text x="228.90" y="594.91" font-size="9.8" text-anchor="end" fill="#231f20" style="font-weight:bold;" >0</text>
<line x1="263.10" y1="591.70" x2="263.10" y2="597.10" stroke="#231f20" stroke-width="1.2" />
<line x1="301.00" y1="591.70" x2="301.00" y2="597.10" stroke="#231f20" stroke-width="1.2" />
<line x1="263.10" y1="523.30" x2="301.00" y2="528.50" stroke="#111" stroke-width="1.0" />
<line x1="263.10" y1="528.50" x2="301.00" y2="533.30" stroke="#111" stroke-width="1.0" />
<line x1="263.10" y1="562.30" x2="301.00" y2="570.40" stroke="#111" stroke-width="1.0" />
<line x1="263.10" y1="577.80" x2="301.00" y2="568.70" stroke="#111" stroke-width="1.0" />
<circle cx="263.1" cy="523.3" r="1.85" fill="#111"/>
<circle cx="301.0" cy="528.5" r="1.85" fill="#111"/>
<circle cx="263.1" cy="528.5" r="1.85" fill="#111"/>
<circle cx="301.0" cy="533.3" r="1.85" fill="#111"/>
<circle cx="263.1" cy="562.3" r="1.85" fill="#111"/>
<circle cx="301.0" cy="570.4" r="1.85" fill="#111"/>
<circle cx="263.1" cy="577.8" r="1.85" fill="#111"/>
<circle cx="301.0" cy="568.7" r="1.85" fill="#111"/>
<text transform="translate(262.00,612.20) scale(0.85,1)" font-size="11.0" text-anchor="middle" fill="#231f20" style="font-weight:bold">DMSO</text>
<text transform="translate(300.60,612.20) scale(0.85,1)" font-size="11.0" text-anchor="middle" fill="#231f20" style="font-weight:bold">Val</text>
<text x="282.1" y="443.1" font-size="11.7" text-anchor="middle" fill="#231f20"><tspan style="font-style:italic">P</tspan> = 0.5325</text>
<line x1="262.10" y1="450.60" x2="301.30" y2="450.60" stroke="#231f20" stroke-width="1.4" />
<text transform="translate(207.3,523.3) rotate(-90)" font-size="11.55" text-anchor="middle" fill="#231f20" style="font-weight:bold">CD34+ cells (%)</text>
<line x1="375.70" y1="465.50" x2="375.70" y2="593.45" stroke="#231f20" stroke-width="1.3" />
<line x1="375.05" y1="592.80" x2="459.30" y2="592.80" stroke="#231f20" stroke-width="1.3" />
<line x1="369.70" y1="466.90" x2="375.70" y2="466.90" stroke="#231f20" stroke-width="1.2" />
<text x="368.90" y="470.04" font-size="9.6" text-anchor="end" fill="#231f20" style="font-weight:bold;" >50</text>
<line x1="369.70" y1="492.10" x2="375.70" y2="492.10" stroke="#231f20" stroke-width="1.2" />
<text x="368.90" y="495.24" font-size="9.6" text-anchor="end" fill="#231f20" style="font-weight:bold;" >40</text>
<line x1="369.70" y1="517.30" x2="375.70" y2="517.30" stroke="#231f20" stroke-width="1.2" />
<text x="368.90" y="520.44" font-size="9.6" text-anchor="end" fill="#231f20" style="font-weight:bold;" >30</text>
<line x1="369.70" y1="542.50" x2="375.70" y2="542.50" stroke="#231f20" stroke-width="1.2" />
<text x="368.90" y="545.64" font-size="9.6" text-anchor="end" fill="#231f20" style="font-weight:bold;" >20</text>
<line x1="369.70" y1="567.70" x2="375.70" y2="567.70" stroke="#231f20" stroke-width="1.2" />
<text x="368.90" y="570.84" font-size="9.6" text-anchor="end" fill="#231f20" style="font-weight:bold;" >10</text>
<line x1="369.70" y1="592.80" x2="375.70" y2="592.80" stroke="#231f20" stroke-width="1.2" />
<text x="368.90" y="595.94" font-size="9.6" text-anchor="end" fill="#231f20" style="font-weight:bold;" >0</text>
<line x1="399.50" y1="592.80" x2="399.50" y2="598.20" stroke="#231f20" stroke-width="1.2" />
<line x1="435.50" y1="592.80" x2="435.50" y2="598.20" stroke="#231f20" stroke-width="1.2" />
<line x1="399.50" y1="509.70" x2="435.50" y2="534.00" stroke="#111" stroke-width="1.0" />
<line x1="399.50" y1="513.40" x2="435.50" y2="538.90" stroke="#111" stroke-width="1.0" />
<line x1="399.50" y1="534.90" x2="435.50" y2="534.00" stroke="#8a8a8a" stroke-width="1.0" />
<line x1="399.50" y1="547.70" x2="435.50" y2="543.80" stroke="#111" stroke-width="1.0" />
<circle cx="399.5" cy="509.7" r="1.85" fill="#111"/>
<circle cx="435.5" cy="534.0" r="1.85" fill="#111"/>
<circle cx="399.5" cy="513.4" r="1.85" fill="#111"/>
<circle cx="435.5" cy="538.9" r="1.85" fill="#111"/>
<circle cx="399.5" cy="534.9" r="1.85" fill="#111"/>
<circle cx="435.5" cy="534.0" r="1.85" fill="#111"/>
<circle cx="399.5" cy="547.7" r="1.85" fill="#111"/>
<circle cx="435.5" cy="543.8" r="1.85" fill="#111"/>
<text transform="translate(398.50,612.20) scale(0.85,1)" font-size="11.0" text-anchor="middle" fill="#231f20" style="font-weight:bold">DMSO</text>
<text transform="translate(436.00,612.20) scale(0.85,1)" font-size="11.0" text-anchor="middle" fill="#231f20" style="font-weight:bold">Val</text>
<text x="416.25" y="443.1" font-size="11.7" text-anchor="middle" fill="#231f20"><tspan style="font-style:italic">P</tspan> = 0.2432</text>
<line x1="397.00" y1="449.90" x2="433.80" y2="449.90" stroke="#231f20" stroke-width="1.4" />
<text transform="translate(352.2,522.65) rotate(-90)" font-size="11.5" text-anchor="middle" fill="#231f20" style="font-weight:bold">Ki67+ cells (%CD34+ cells)</text>
<line x1="532.00" y1="463.50" x2="532.00" y2="592.35" stroke="#231f20" stroke-width="1.3" />
<line x1="531.35" y1="591.70" x2="617.20" y2="591.70" stroke="#231f20" stroke-width="1.3" />
<line x1="526.10" y1="464.30" x2="532.00" y2="464.30" stroke="#231f20" stroke-width="1.2" />
<text x="524.60" y="467.37" font-size="9.4" text-anchor="end" fill="#231f20" style="font-weight:bold;" >100000</text>
<line x1="526.10" y1="528.10" x2="532.00" y2="528.10" stroke="#231f20" stroke-width="1.2" />
<text x="524.60" y="531.17" font-size="9.4" text-anchor="end" fill="#231f20" style="font-weight:bold;" >50000</text>
<line x1="526.10" y1="591.70" x2="532.00" y2="591.70" stroke="#231f20" stroke-width="1.2" />
<text x="524.60" y="594.77" font-size="9.4" text-anchor="end" fill="#231f20" style="font-weight:bold;" >0</text>
<line x1="556.20" y1="591.70" x2="556.20" y2="597.10" stroke="#231f20" stroke-width="1.2" />
<line x1="592.70" y1="591.70" x2="592.70" y2="597.10" stroke="#231f20" stroke-width="1.2" />
<line x1="556.20" y1="531.30" x2="592.70" y2="528.60" stroke="#111" stroke-width="1.0" />
<line x1="556.20" y1="553.10" x2="592.70" y2="568.40" stroke="#111" stroke-width="1.0" />
<line x1="556.20" y1="559.90" x2="592.70" y2="552.80" stroke="#111" stroke-width="1.0" />
<line x1="556.20" y1="573.90" x2="592.70" y2="570.10" stroke="#111" stroke-width="1.0" />
<circle cx="556.2" cy="531.3" r="1.85" fill="#111"/>
<circle cx="592.7" cy="528.6" r="1.85" fill="#111"/>
<circle cx="556.2" cy="553.1" r="1.85" fill="#111"/>
<circle cx="592.7" cy="568.4" r="1.85" fill="#111"/>
<circle cx="556.2" cy="559.9" r="1.85" fill="#111"/>
<circle cx="592.7" cy="552.8" r="1.85" fill="#111"/>
<circle cx="556.2" cy="573.9" r="1.85" fill="#111"/>
<circle cx="592.7" cy="570.1" r="1.85" fill="#111"/>
<text transform="translate(555.20,612.20) scale(0.85,1)" font-size="11.0" text-anchor="middle" fill="#231f20" style="font-weight:bold">DMSO</text>
<text transform="translate(592.60,612.20) scale(0.85,1)" font-size="11.0" text-anchor="middle" fill="#231f20" style="font-weight:bold">Val</text>
<text x="573.4" y="443.1" font-size="11.5" text-anchor="middle" fill="#231f20"><tspan style="font-style:italic">P</tspan> = 0.9497</text>
<line x1="554.50" y1="449.90" x2="592.00" y2="449.90" stroke="#231f20" stroke-width="1.4" />
<text transform="translate(486.6,526.45) rotate(-90)" font-size="11.9" text-anchor="middle" fill="#231f20" style="font-weight:bold">p21 MFI (CD34+ cells)</text>
<rect x="219.70" y="268.40" width="98.20" height="97.10" fill="#fff" stroke="#7a7a7a" stroke-width="0.75"/>
<path d="M277.6 341.0h.9v.9h-.9zM280.5 342.2h.9v.9h-.9zM277.0 351.7h.9v.9h-.9zM270.5 354.5h.9v.9h-.9zM277.3 345.7h.9v.9h-.9zM276.0 343.8h.9v.9h-.9zM260.9 360.6h.9v.9h-.9zM278.2 340.8h.9v.9h-.9zM270.1 360.7h.9v.9h-.9zM273.8 329.1h.9v.9h-.9zM276.4 347.4h.9v.9h-.9zM276.2 345.9h.9v.9h-.9zM258.0 340.7h.9v.9h-.9zM277.2 342.3h.9v.9h-.9zM267.4 357.0h.9v.9h-.9zM260.5 329.6h.9v.9h-.9zM266.6 326.6h.9v.9h-.9zM264.5 355.8h.9v.9h-.9zM257.7 338.7h.9v.9h-.9zM276.5 346.4h.9v.9h-.9zM265.4 358.1h.9v.9h-.9zM259.1 330.1h.9v.9h-.9zM257.2 345.7h.9v.9h-.9zM279.6 343.6h.9v.9h-.9zM270.4 354.3h.9v.9h-.9zM262.9 353.0h.9v.9h-.9zM275.0 352.4h.9v.9h-.9zM277.8 333.8h.9v.9h-.9zM254.4 344.0h.9v.9h-.9zM276.1 335.3h.9v.9h-.9zM277.4 336.7h.9v.9h-.9zM276.9 330.8h.9v.9h-.9zM276.9 350.5h.9v.9h-.9zM280.3 346.2h.9v.9h-.9zM258.3 345.4h.9v.9h-.9zM259.8 333.9h.9v.9h-.9zM278.3 336.2h.9v.9h-.9zM253.7 344.3h.9v.9h-.9zM275.8 329.9h.9v.9h-.9zM257.7 339.5h.9v.9h-.9zM276.5 352.2h.9v.9h-.9zM258.0 348.2h.9v.9h-.9zM255.0 345.7h.9v.9h-.9zM266.3 326.9h.9v.9h-.9zM275.8 353.8h.9v.9h-.9zM278.0 349.2h.9v.9h-.9zM257.8 342.0h.9v.9h-.9zM258.0 347.2h.9v.9h-.9zM275.1 334.9h.9v.9h-.9zM278.1 339.9h.9v.9h-.9zM263.1 325.3h.9v.9h-.9zM269.7 357.9h.9v.9h-.9zM274.1 332.4h.9v.9h-.9zM264.0 355.4h.9v.9h-.9zM274.1 350.0h.9v.9h-.9zM258.8 335.2h.9v.9h-.9zM277.2 350.2h.9v.9h-.9zM262.4 329.0h.9v.9h-.9zM263.6 354.5h.9v.9h-.9zM257.1 337.3h.9v.9h-.9zM276.2 346.6h.9v.9h-.9zM268.4 355.1h.9v.9h-.9zM274.6 350.4h.9v.9h-.9zM277.4 337.2h.9v.9h-.9zM257.2 340.9h.9v.9h-.9zM274.1 332.9h.9v.9h-.9zM270.3 328.9h.9v.9h-.9zM256.9 350.6h.9v.9h-.9zM277.6 334.1h.9v.9h-.9zM270.1 329.1h.9v.9h-.9zM270.8 354.1h.9v.9h-.9zM255.8 341.7h.9v.9h-.9zM276.1 351.9h.9v.9h-.9zM267.9 327.4h.9v.9h-.9zM254.0 337.9h.9v.9h-.9zM257.5 344.5h.9v.9h-.9zM262.7 356.2h.9v.9h-.9zM256.5 339.0h.9v.9h-.9zM257.1 352.4h.9v.9h-.9zM270.2 353.3h.9v.9h-.9zM255.2 339.5h.9v.9h-.9zM273.4 353.4h.9v.9h-.9zM260.3 354.5h.9v.9h-.9zM276.3 331.6h.9v.9h-.9zM262.2 353.8h.9v.9h-.9zM257.4 344.7h.9v.9h-.9zM256.8 342.9h.9v.9h-.9zM275.8 351.9h.9v.9h-.9zM261.6 331.5h.9v.9h-.9zM274.6 330.5h.9v.9h-.9zM265.4 358.3h.9v.9h-.9zM273.1 333.0h.9v.9h-.9zM270.4 313.0h.9v.9h-.9zM266.2 312.2h.9v.9h-.9zM270.7 310.7h.9v.9h-.9zM267.5 308.4h.9v.9h-.9zM270.2 326.9h.9v.9h-.9zM260.6 325.7h.9v.9h-.9zM264.0 307.5h.9v.9h-.9zM262.5 328.3h.9v.9h-.9zM270.1 310.1h.9v.9h-.9zM273.2 331.1h.9v.9h-.9zM262.7 317.6h.9v.9h-.9zM263.5 324.9h.9v.9h-.9zM267.9 319.7h.9v.9h-.9zM271.6 321.9h.9v.9h-.9zM269.0 313.2h.9v.9h-.9zM267.1 327.3h.9v.9h-.9zM261.7 319.0h.9v.9h-.9zM274.3 314.7h.9v.9h-.9zM268.1 324.5h.9v.9h-.9zM274.8 329.2h.9v.9h-.9zM270.7 320.3h.9v.9h-.9zM271.9 311.2h.9v.9h-.9zM272.0 322.7h.9v.9h-.9zM271.5 314.7h.9v.9h-.9zM264.3 325.8h.9v.9h-.9zM265.9 314.1h.9v.9h-.9zM265.5 316.2h.9v.9h-.9zM258.4 311.3h.9v.9h-.9zM269.7 319.7h.9v.9h-.9zM268.6 311.5h.9v.9h-.9zM265.3 320.4h.9v.9h-.9zM263.9 320.8h.9v.9h-.9zM266.1 316.3h.9v.9h-.9zM268.3 320.8h.9v.9h-.9zM266.9 315.3h.9v.9h-.9zM265.8 315.2h.9v.9h-.9zM266.7 316.6h.9v.9h-.9zM267.9 314.1h.9v.9h-.9zM264.2 322.6h.9v.9h-.9zM263.8 308.7h.9v.9h-.9zM269.9 311.0h.9v.9h-.9zM271.5 312.5h.9v.9h-.9zM260.6 330.2h.9v.9h-.9zM261.1 321.5h.9v.9h-.9zM261.1 330.7h.9v.9h-.9zM271.7 310.8h.9v.9h-.9zM263.1 318.4h.9v.9h-.9zM270.5 317.3h.9v.9h-.9zM265.3 306.9h.9v.9h-.9zM264.4 321.6h.9v.9h-.9zM266.6 324.9h.9v.9h-.9zM268.4 311.3h.9v.9h-.9zM266.6 325.9h.9v.9h-.9zM271.3 310.2h.9v.9h-.9zM267.1 311.5h.9v.9h-.9zM267.7 315.0h.9v.9h-.9zM267.1 321.0h.9v.9h-.9zM263.4 323.4h.9v.9h-.9zM264.6 321.7h.9v.9h-.9zM265.0 318.4h.9v.9h-.9zM264.2 309.2h.9v.9h-.9zM270.1 308.7h.9v.9h-.9zM264.7 318.9h.9v.9h-.9zM261.0 310.8h.9v.9h-.9zM267.6 321.0h.9v.9h-.9zM267.1 306.8h.9v.9h-.9zM264.3 315.3h.9v.9h-.9zM260.5 319.9h.9v.9h-.9zM269.8 314.2h.9v.9h-.9zM275.0 327.7h.9v.9h-.9zM269.2 313.0h.9v.9h-.9zM269.7 321.4h.9v.9h-.9zM272.6 313.0h.9v.9h-.9zM269.6 325.4h.9v.9h-.9zM259.3 318.5h.9v.9h-.9zM267.4 327.8h.9v.9h-.9zM266.4 314.8h.9v.9h-.9zM267.9 315.2h.9v.9h-.9zM263.3 321.3h.9v.9h-.9zM266.6 327.2h.9v.9h-.9zM266.7 320.7h.9v.9h-.9zM266.3 318.0h.9v.9h-.9zM266.1 308.1h.9v.9h-.9zM268.4 325.7h.9v.9h-.9zM266.8 318.0h.9v.9h-.9zM262.9 325.4h.9v.9h-.9zM268.8 320.1h.9v.9h-.9zM270.5 328.3h.9v.9h-.9zM266.5 323.5h.9v.9h-.9zM271.7 317.5h.9v.9h-.9zM274.6 333.8h.9v.9h-.9zM270.8 326.0h.9v.9h-.9zM272.7 320.3h.9v.9h-.9zM266.0 316.3h.9v.9h-.9zM263.4 319.4h.9v.9h-.9zM259.8 321.1h.9v.9h-.9zM266.9 316.2h.9v.9h-.9zM268.3 311.8h.9v.9h-.9zM268.5 313.5h.9v.9h-.9zM274.3 317.9h.9v.9h-.9zM261.6 316.4h.9v.9h-.9zM265.5 318.1h.9v.9h-.9zM272.0 327.8h.9v.9h-.9zM266.3 308.0h.9v.9h-.9zM265.9 319.8h.9v.9h-.9zM267.9 324.5h.9v.9h-.9zM264.6 307.6h.9v.9h-.9zM267.5 316.1h.9v.9h-.9zM270.1 306.7h.9v.9h-.9zM271.6 319.7h.9v.9h-.9zM263.5 306.9h.9v.9h-.9zM261.7 329.6h.9v.9h-.9zM271.7 323.4h.9v.9h-.9zM270.0 328.6h.9v.9h-.9zM273.6 320.0h.9v.9h-.9zM271.6 329.1h.9v.9h-.9zM269.7 322.8h.9v.9h-.9zM265.3 308.2h.9v.9h-.9zM270.3 322.0h.9v.9h-.9zM267.9 321.2h.9v.9h-.9zM269.8 315.1h.9v.9h-.9zM266.4 326.8h.9v.9h-.9zM265.1 310.0h.9v.9h-.9zM270.8 326.9h.9v.9h-.9zM270.9 310.2h.9v.9h-.9zM262.2 312.0h.9v.9h-.9zM273.1 330.4h.9v.9h-.9zM265.6 327.9h.9v.9h-.9zM271.6 321.3h.9v.9h-.9zM267.4 317.1h.9v.9h-.9zM265.6 310.0h.9v.9h-.9zM268.6 310.4h.9v.9h-.9zM266.5 307.7h.9v.9h-.9zM271.6 325.0h.9v.9h-.9zM265.8 309.6h.9v.9h-.9zM267.4 317.4h.9v.9h-.9zM263.9 321.6h.9v.9h-.9zM269.4 316.6h.9v.9h-.9zM272.7 306.7h.9v.9h-.9zM271.5 313.2h.9v.9h-.9zM269.7 328.9h.9v.9h-.9zM255.3 361.3h.9v.9h-.9zM262.0 360.4h.9v.9h-.9zM277.0 345.1h.9v.9h-.9zM262.1 324.3h.9v.9h-.9zM277.8 365.1h.9v.9h-.9zM281.4 330.6h.9v.9h-.9zM256.6 359.3h.9v.9h-.9zM281.6 348.1h.9v.9h-.9zM258.2 348.4h.9v.9h-.9zM255.1 349.3h.9v.9h-.9zM266.3 361.8h.9v.9h-.9zM263.5 317.8h.9v.9h-.9zM265.5 355.4h.9v.9h-.9zM276.7 351.0h.9v.9h-.9zM279.5 359.2h.9v.9h-.9zM276.0 325.1h.9v.9h-.9zM251.3 361.7h.9v.9h-.9zM272.9 357.2h.9v.9h-.9zM278.5 351.9h.9v.9h-.9zM275.1 352.3h.9v.9h-.9zM258.7 334.2h.9v.9h-.9zM271.5 324.0h.9v.9h-.9zM272.5 352.0h.9v.9h-.9zM281.6 346.2h.9v.9h-.9zM261.9 325.3h.9v.9h-.9zM251.5 344.2h.9v.9h-.9zM274.2 325.7h.9v.9h-.9zM254.2 351.3h.9v.9h-.9zM279.2 339.1h.9v.9h-.9zM279.4 326.6h.9v.9h-.9zM265.9 356.8h.9v.9h-.9zM277.3 348.6h.9v.9h-.9zM273.0 353.2h.9v.9h-.9zM272.2 327.0h.9v.9h-.9zM271.9 329.9h.9v.9h-.9zM273.4 332.7h.9v.9h-.9zM272.4 330.8h.9v.9h-.9zM261.1 330.8h.9v.9h-.9zM254.7 350.9h.9v.9h-.9zM276.3 337.7h.9v.9h-.9zM280.2 345.9h.9v.9h-.9zM276.7 343.8h.9v.9h-.9zM267.5 356.9h.9v.9h-.9zM277.5 333.4h.9v.9h-.9zM265.5 356.5h.9v.9h-.9z" fill="rgb(58, 94, 202)"/>
<path d="M266.7 330.2h.9v.9h-.9zM261.8 350.8h.9v.9h-.9zM264.2 329.8h.9v.9h-.9zM269.7 331.4h.9v.9h-.9zM275.5 342.1h.9v.9h-.9zM260.5 334.8h.9v.9h-.9zM259.4 346.4h.9v.9h-.9zM270.4 331.7h.9v.9h-.9zM264.9 330.1h.9v.9h-.9zM270.9 330.2h.9v.9h-.9zM261.1 334.4h.9v.9h-.9zM269.3 353.4h.9v.9h-.9zM263.5 352.8h.9v.9h-.9zM276.0 339.3h.9v.9h-.9zM270.7 332.3h.9v.9h-.9zM263.7 353.3h.9v.9h-.9zM263.7 332.1h.9v.9h-.9zM266.8 353.9h.9v.9h-.9zM268.4 354.9h.9v.9h-.9zM267.3 353.8h.9v.9h-.9zM260.7 349.6h.9v.9h-.9zM276.9 341.6h.9v.9h-.9zM275.1 347.5h.9v.9h-.9zM273.7 349.7h.9v.9h-.9zM267.1 330.8h.9v.9h-.9zM275.6 336.5h.9v.9h-.9zM275.1 338.1h.9v.9h-.9zM259.7 336.8h.9v.9h-.9zM266.8 353.3h.9v.9h-.9zM273.0 351.0h.9v.9h-.9zM265.3 353.3h.9v.9h-.9zM276.7 341.5h.9v.9h-.9zM259.4 338.0h.9v.9h-.9zM259.4 347.2h.9v.9h-.9zM259.4 337.9h.9v.9h-.9zM275.7 344.7h.9v.9h-.9zM264.8 353.8h.9v.9h-.9zM270.3 352.5h.9v.9h-.9zM264.2 330.9h.9v.9h-.9zM270.6 352.7h.9v.9h-.9zM260.4 350.4h.9v.9h-.9zM259.6 342.1h.9v.9h-.9zM275.1 347.5h.9v.9h-.9zM260.2 349.8h.9v.9h-.9zM274.5 347.9h.9v.9h-.9zM263.0 332.3h.9v.9h-.9zM262.3 331.3h.9v.9h-.9zM262.5 351.4h.9v.9h-.9zM271.5 351.4h.9v.9h-.9zM259.1 336.2h.9v.9h-.9zM265.7 354.6h.9v.9h-.9zM273.0 349.0h.9v.9h-.9zM260.7 348.5h.9v.9h-.9zM259.0 339.1h.9v.9h-.9zM260.9 335.0h.9v.9h-.9zM274.2 349.0h.9v.9h-.9zM275.2 343.5h.9v.9h-.9zM275.3 338.7h.9v.9h-.9zM262.6 333.6h.9v.9h-.9zM258.6 342.4h.9v.9h-.9zM258.6 338.7h.9v.9h-.9zM258.9 338.2h.9v.9h-.9zM273.1 349.9h.9v.9h-.9zM263.1 331.9h.9v.9h-.9zM274.6 335.5h.9v.9h-.9zM262.5 332.7h.9v.9h-.9zM276.0 338.8h.9v.9h-.9zM273.2 333.1h.9v.9h-.9zM268.1 353.2h.9v.9h-.9zM267.0 353.1h.9v.9h-.9zM276.3 339.5h.9v.9h-.9zM262.3 352.6h.9v.9h-.9zM265.9 354.7h.9v.9h-.9zM258.3 342.7h.9v.9h-.9zM267.0 353.7h.9v.9h-.9zM258.2 338.2h.9v.9h-.9zM276.1 340.9h.9v.9h-.9zM267.6 354.2h.9v.9h-.9zM260.5 335.2h.9v.9h-.9zM258.6 337.3h.9v.9h-.9zM263.6 331.1h.9v.9h-.9zM262.9 352.9h.9v.9h-.9zM275.1 344.8h.9v.9h-.9zM261.3 333.0h.9v.9h-.9zM260.6 348.9h.9v.9h-.9zM261.2 350.3h.9v.9h-.9zM265.7 330.0h.9v.9h-.9zM265.9 329.9h.9v.9h-.9zM258.3 337.1h.9v.9h-.9zM273.8 333.8h.9v.9h-.9zM273.3 335.4h.9v.9h-.9zM269.3 331.8h.9v.9h-.9zM258.5 337.8h.9v.9h-.9zM259.9 336.2h.9v.9h-.9zM274.4 347.4h.9v.9h-.9zM259.7 344.5h.9v.9h-.9zM264.5 331.3h.9v.9h-.9zM275.6 339.7h.9v.9h-.9zM259.9 337.4h.9v.9h-.9zM269.4 329.2h.9v.9h-.9zM268.0 330.9h.9v.9h-.9zM269.4 329.9h.9v.9h-.9zM265.8 328.8h.9v.9h-.9zM269.7 330.9h.9v.9h-.9zM266.2 330.6h.9v.9h-.9zM262.7 331.1h.9v.9h-.9zM261.1 333.0h.9v.9h-.9zM264.8 330.7h.9v.9h-.9zM268.0 329.4h.9v.9h-.9zM267.8 328.8h.9v.9h-.9zM269.2 331.8h.9v.9h-.9zM265.6 328.7h.9v.9h-.9zM262.3 333.5h.9v.9h-.9zM267.4 331.5h.9v.9h-.9zM264.7 331.9h.9v.9h-.9zM265.0 331.8h.9v.9h-.9zM263.2 332.8h.9v.9h-.9zM271.3 331.8h.9v.9h-.9zM264.2 329.3h.9v.9h-.9zM264.0 329.7h.9v.9h-.9zM271.4 330.9h.9v.9h-.9zM264.5 329.9h.9v.9h-.9zM273.8 335.9h.9v.9h-.9zM259.8 342.9h.9v.9h-.9zM258.9 338.2h.9v.9h-.9zM269.9 353.8h.9v.9h-.9zM260.9 335.2h.9v.9h-.9zM268.0 330.8h.9v.9h-.9zM275.5 338.9h.9v.9h-.9zM274.6 347.1h.9v.9h-.9zM269.6 329.4h.9v.9h-.9z" fill="rgb(55, 104, 207)"/>
<path d="M262.4 335.8h.9v.9h-.9zM273.4 347.6h.9v.9h-.9zM260.1 346.1h.9v.9h-.9zM264.5 352.7h.9v.9h-.9zM260.1 337.8h.9v.9h-.9zM267.0 352.2h.9v.9h-.9zM266.6 331.4h.9v.9h-.9zM273.9 336.4h.9v.9h-.9zM260.2 346.1h.9v.9h-.9zM273.1 346.9h.9v.9h-.9zM271.3 333.9h.9v.9h-.9zM264.2 351.6h.9v.9h-.9zM264.7 351.1h.9v.9h-.9zM272.1 333.3h.9v.9h-.9zM269.3 352.3h.9v.9h-.9zM260.7 344.6h.9v.9h-.9zM265.0 332.9h.9v.9h-.9zM265.1 332.6h.9v.9h-.9zM273.9 336.0h.9v.9h-.9zM274.4 337.1h.9v.9h-.9zM267.1 332.6h.9v.9h-.9zM274.0 348.6h.9v.9h-.9zM266.6 331.4h.9v.9h-.9zM271.5 333.1h.9v.9h-.9zM271.4 350.7h.9v.9h-.9zM268.1 332.9h.9v.9h-.9zM265.7 332.9h.9v.9h-.9zM272.7 349.3h.9v.9h-.9zM271.4 333.8h.9v.9h-.9zM266.0 331.5h.9v.9h-.9zM263.2 333.5h.9v.9h-.9zM260.9 347.0h.9v.9h-.9zM273.1 347.9h.9v.9h-.9zM273.1 336.6h.9v.9h-.9zM273.8 336.3h.9v.9h-.9zM260.8 344.6h.9v.9h-.9zM260.9 345.8h.9v.9h-.9zM260.0 337.8h.9v.9h-.9zM273.6 347.6h.9v.9h-.9zM260.9 344.9h.9v.9h-.9zM266.1 352.2h.9v.9h-.9zM269.7 352.5h.9v.9h-.9zM260.2 345.9h.9v.9h-.9zM269.6 352.8h.9v.9h-.9zM261.1 335.2h.9v.9h-.9zM274.3 338.8h.9v.9h-.9zM261.3 349.0h.9v.9h-.9zM260.7 346.9h.9v.9h-.9zM265.5 352.8h.9v.9h-.9zM265.5 352.4h.9v.9h-.9zM270.6 333.3h.9v.9h-.9zM271.5 350.4h.9v.9h-.9zM262.5 334.6h.9v.9h-.9zM274.5 345.5h.9v.9h-.9zM264.3 351.3h.9v.9h-.9zM273.0 349.1h.9v.9h-.9zM259.9 340.3h.9v.9h-.9zM274.2 346.3h.9v.9h-.9zM264.6 352.0h.9v.9h-.9zM265.3 352.4h.9v.9h-.9zM274.1 343.3h.9v.9h-.9zM273.3 346.7h.9v.9h-.9zM260.0 344.0h.9v.9h-.9zM269.6 352.8h.9v.9h-.9zM274.5 338.5h.9v.9h-.9zM265.4 352.2h.9v.9h-.9zM269.1 332.2h.9v.9h-.9zM268.8 352.7h.9v.9h-.9zM270.6 333.6h.9v.9h-.9zM270.6 333.1h.9v.9h-.9zM260.5 345.9h.9v.9h-.9zM260.5 346.6h.9v.9h-.9zM274.4 346.3h.9v.9h-.9zM260.9 336.4h.9v.9h-.9zM273.4 346.4h.9v.9h-.9zM274.3 344.5h.9v.9h-.9zM274.4 345.6h.9v.9h-.9zM266.8 332.1h.9v.9h-.9zM260.4 336.9h.9v.9h-.9zM267.7 332.0h.9v.9h-.9zM261.6 336.4h.9v.9h-.9zM267.2 332.3h.9v.9h-.9zM262.9 334.5h.9v.9h-.9zM270.7 333.3h.9v.9h-.9zM267.3 332.3h.9v.9h-.9zM265.2 331.0h.9v.9h-.9zM264.3 332.4h.9v.9h-.9zM269.3 332.0h.9v.9h-.9zM273.0 336.7h.9v.9h-.9zM266.6 332.5h.9v.9h-.9zM267.6 352.9h.9v.9h-.9zM273.9 347.7h.9v.9h-.9zM272.1 333.3h.9v.9h-.9z" fill="rgb(52, 113, 211)"/>
<path d="M274.8 339.9h.9v.9h-.9zM274.4 340.8h.9v.9h-.9zM273.5 337.3h.9v.9h-.9zM260.0 338.8h.9v.9h-.9zM260.9 343.4h.9v.9h-.9zM261.2 347.1h.9v.9h-.9zM261.7 348.2h.9v.9h-.9zM272.5 336.1h.9v.9h-.9zM266.0 333.0h.9v.9h-.9zM260.4 340.4h.9v.9h-.9zM260.8 339.7h.9v.9h-.9zM263.7 350.4h.9v.9h-.9zM260.9 341.6h.9v.9h-.9zM261.5 348.0h.9v.9h-.9zM266.9 333.0h.9v.9h-.9zM260.6 342.2h.9v.9h-.9zM272.9 336.7h.9v.9h-.9zM274.5 341.5h.9v.9h-.9zM267.1 333.5h.9v.9h-.9zM261.8 337.5h.9v.9h-.9zM271.0 349.8h.9v.9h-.9zM274.6 341.2h.9v.9h-.9zM270.3 350.4h.9v.9h-.9zM260.6 339.8h.9v.9h-.9zM271.4 349.3h.9v.9h-.9zM268.6 351.2h.9v.9h-.9zM260.6 341.3h.9v.9h-.9zM270.5 350.2h.9v.9h-.9zM262.4 349.2h.9v.9h-.9zM271.3 349.7h.9v.9h-.9zM274.7 342.6h.9v.9h-.9zM271.5 334.5h.9v.9h-.9zM274.3 341.5h.9v.9h-.9zM260.3 342.0h.9v.9h-.9zM271.0 349.9h.9v.9h-.9zM267.6 333.8h.9v.9h-.9zM273.1 345.1h.9v.9h-.9zM263.7 334.6h.9v.9h-.9zM267.3 351.9h.9v.9h-.9zM268.9 333.5h.9v.9h-.9zM266.7 351.8h.9v.9h-.9zM270.7 334.5h.9v.9h-.9zM260.5 343.1h.9v.9h-.9zM261.3 348.7h.9v.9h-.9zM260.6 338.7h.9v.9h-.9zM260.3 338.8h.9v.9h-.9zM274.6 340.3h.9v.9h-.9zM263.9 350.1h.9v.9h-.9zM271.4 334.3h.9v.9h-.9zM270.8 334.3h.9v.9h-.9zM273.3 345.0h.9v.9h-.9zM269.7 333.1h.9v.9h-.9zM260.1 340.9h.9v.9h-.9zM261.5 348.0h.9v.9h-.9zM270.5 334.7h.9v.9h-.9zM263.3 334.6h.9v.9h-.9zM267.3 351.9h.9v.9h-.9zM267.7 351.8h.9v.9h-.9zM272.3 335.1h.9v.9h-.9zM267.1 352.0h.9v.9h-.9zM266.5 333.6h.9v.9h-.9zM272.7 348.4h.9v.9h-.9zM260.6 341.6h.9v.9h-.9zM273.7 345.6h.9v.9h-.9zM273.3 344.3h.9v.9h-.9zM272.3 334.6h.9v.9h-.9zM262.7 349.5h.9v.9h-.9zM267.6 333.1h.9v.9h-.9zM269.0 333.7h.9v.9h-.9zM263.6 350.3h.9v.9h-.9zM261.8 337.8h.9v.9h-.9zM272.1 336.9h.9v.9h-.9zM270.3 350.0h.9v.9h-.9zM268.7 351.6h.9v.9h-.9zM270.7 334.3h.9v.9h-.9zM270.9 334.4h.9v.9h-.9zM264.5 334.0h.9v.9h-.9zM265.6 333.3h.9v.9h-.9zM263.4 350.2h.9v.9h-.9zM274.0 340.4h.9v.9h-.9zM273.3 344.9h.9v.9h-.9zM274.8 339.6h.9v.9h-.9zM267.0 351.7h.9v.9h-.9zM274.2 341.2h.9v.9h-.9zM268.3 351.3h.9v.9h-.9zM265.7 333.9h.9v.9h-.9zM265.5 351.6h.9v.9h-.9zM273.2 344.8h.9v.9h-.9zM272.4 336.8h.9v.9h-.9zM272.5 335.2h.9v.9h-.9zM273.9 337.6h.9v.9h-.9zM260.5 342.5h.9v.9h-.9zM267.3 333.4h.9v.9h-.9zM274.9 342.4h.9v.9h-.9zM260.9 343.5h.9v.9h-.9zM264.1 333.7h.9v.9h-.9zM274.6 340.4h.9v.9h-.9zM274.3 339.0h.9v.9h-.9zM271.3 349.2h.9v.9h-.9zM260.4 338.6h.9v.9h-.9z" fill="rgb(51, 125, 213)"/>
<path d="M273.9 340.5h.9v.9h-.9zM269.7 350.4h.9v.9h-.9zM270.2 349.9h.9v.9h-.9zM273.1 341.6h.9v.9h-.9zM272.3 346.1h.9v.9h-.9zM262.2 336.7h.9v.9h-.9zM273.1 339.1h.9v.9h-.9zM265.7 350.6h.9v.9h-.9zM272.4 347.7h.9v.9h-.9zM265.0 334.1h.9v.9h-.9zM273.0 342.5h.9v.9h-.9zM262.4 336.8h.9v.9h-.9zM266.0 350.6h.9v.9h-.9zM261.7 345.2h.9v.9h-.9zM272.4 346.5h.9v.9h-.9zM263.3 349.0h.9v.9h-.9zM272.2 346.2h.9v.9h-.9zM273.2 341.0h.9v.9h-.9zM271.7 335.0h.9v.9h-.9zM261.1 344.2h.9v.9h-.9zM271.3 348.9h.9v.9h-.9zM261.8 338.8h.9v.9h-.9zM262.9 336.9h.9v.9h-.9zM268.5 351.0h.9v.9h-.9zM261.9 339.9h.9v.9h-.9zM262.1 337.8h.9v.9h-.9zM270.6 349.2h.9v.9h-.9zM263.9 349.2h.9v.9h-.9zM262.2 348.7h.9v.9h-.9zM273.3 342.2h.9v.9h-.9zM264.2 350.4h.9v.9h-.9zM268.6 350.3h.9v.9h-.9zM270.3 349.2h.9v.9h-.9zM273.7 339.3h.9v.9h-.9zM264.8 350.1h.9v.9h-.9zM272.3 347.4h.9v.9h-.9zM265.8 350.7h.9v.9h-.9zM262.3 336.5h.9v.9h-.9zM263.1 349.2h.9v.9h-.9zM269.0 334.3h.9v.9h-.9zM264.4 350.4h.9v.9h-.9zM271.6 336.5h.9v.9h-.9zM271.5 335.4h.9v.9h-.9zM271.9 336.6h.9v.9h-.9zM262.4 337.7h.9v.9h-.9zM273.4 342.2h.9v.9h-.9zM263.7 349.2h.9v.9h-.9zM265.7 350.2h.9v.9h-.9zM262.8 348.4h.9v.9h-.9zM270.2 349.0h.9v.9h-.9zM262.6 336.5h.9v.9h-.9zM266.0 350.2h.9v.9h-.9zM273.4 339.0h.9v.9h-.9zM262.0 348.3h.9v.9h-.9zM272.5 347.8h.9v.9h-.9zM262.7 348.2h.9v.9h-.9zM273.8 339.8h.9v.9h-.9zM273.4 340.0h.9v.9h-.9zM262.9 348.6h.9v.9h-.9zM273.3 341.6h.9v.9h-.9zM271.6 335.3h.9v.9h-.9zM271.3 348.9h.9v.9h-.9zM271.3 348.4h.9v.9h-.9zM264.8 350.7h.9v.9h-.9zM272.3 347.0h.9v.9h-.9zM271.9 335.9h.9v.9h-.9zM263.4 335.1h.9v.9h-.9zM261.7 345.7h.9v.9h-.9zM261.4 338.7h.9v.9h-.9zM265.0 350.9h.9v.9h-.9zM262.0 345.5h.9v.9h-.9zM263.9 349.4h.9v.9h-.9zM263.2 349.5h.9v.9h-.9zM269.1 334.3h.9v.9h-.9zM268.8 350.4h.9v.9h-.9zM268.1 350.7h.9v.9h-.9zM273.4 343.6h.9v.9h-.9zM261.1 346.0h.9v.9h-.9zM272.2 337.9h.9v.9h-.9zM269.8 334.8h.9v.9h-.9zM273.2 341.5h.9v.9h-.9zM269.7 350.3h.9v.9h-.9zM262.5 336.6h.9v.9h-.9zM263.0 348.4h.9v.9h-.9zM271.4 335.4h.9v.9h-.9zM264.9 334.8h.9v.9h-.9zM262.9 337.9h.9v.9h-.9zM269.5 334.9h.9v.9h-.9zM262.9 336.1h.9v.9h-.9zM272.8 346.1h.9v.9h-.9zM273.2 341.8h.9v.9h-.9zM270.4 349.6h.9v.9h-.9z" fill="rgb(54, 144, 210)"/>
<path d="M262.0 342.2h.9v.9h-.9zM261.6 341.6h.9v.9h-.9zM261.4 342.5h.9v.9h-.9zM270.7 335.6h.9v.9h-.9zM272.4 345.7h.9v.9h-.9zM271.2 348.0h.9v.9h-.9zM267.8 350.6h.9v.9h-.9zM266.8 334.4h.9v.9h-.9zM263.7 348.8h.9v.9h-.9zM272.2 338.2h.9v.9h-.9zM264.5 349.3h.9v.9h-.9zM263.3 337.0h.9v.9h-.9zM263.3 336.1h.9v.9h-.9zM270.6 335.8h.9v.9h-.9zM269.3 349.2h.9v.9h-.9zM263.9 348.2h.9v.9h-.9zM267.7 350.9h.9v.9h-.9zM262.3 347.0h.9v.9h-.9zM261.2 342.4h.9v.9h-.9zM263.7 336.9h.9v.9h-.9zM265.3 334.1h.9v.9h-.9zM262.0 341.3h.9v.9h-.9zM261.9 340.2h.9v.9h-.9zM266.3 334.6h.9v.9h-.9zM266.2 334.5h.9v.9h-.9zM270.0 335.7h.9v.9h-.9zM261.1 341.3h.9v.9h-.9zM271.6 347.5h.9v.9h-.9zM267.9 350.7h.9v.9h-.9zM263.4 348.6h.9v.9h-.9zM270.1 335.9h.9v.9h-.9zM262.7 347.3h.9v.9h-.9zM264.5 335.2h.9v.9h-.9zM261.5 342.0h.9v.9h-.9zM262.3 347.2h.9v.9h-.9zM264.2 335.0h.9v.9h-.9zM272.6 339.1h.9v.9h-.9zM263.6 348.4h.9v.9h-.9zM267.8 334.1h.9v.9h-.9zM267.9 334.2h.9v.9h-.9zM266.4 334.9h.9v.9h-.9zM266.1 350.6h.9v.9h-.9zM266.9 350.2h.9v.9h-.9zM261.5 342.8h.9v.9h-.9zM262.0 340.3h.9v.9h-.9zM272.0 344.8h.9v.9h-.9zM263.5 348.1h.9v.9h-.9zM266.4 350.2h.9v.9h-.9zM269.2 349.8h.9v.9h-.9zM272.4 339.9h.9v.9h-.9zM270.0 335.9h.9v.9h-.9zM266.7 334.3h.9v.9h-.9zM272.6 344.7h.9v.9h-.9zM261.2 342.8h.9v.9h-.9zM266.8 350.9h.9v.9h-.9zM264.1 349.4h.9v.9h-.9zM270.2 335.5h.9v.9h-.9zM267.7 350.1h.9v.9h-.9zM266.4 334.8h.9v.9h-.9zM261.5 342.5h.9v.9h-.9zM261.8 343.7h.9v.9h-.9zM261.6 343.4h.9v.9h-.9zM272.5 339.4h.9v.9h-.9zM272.8 345.5h.9v.9h-.9zM269.7 349.9h.9v.9h-.9zM269.5 349.4h.9v.9h-.9zM266.4 350.7h.9v.9h-.9zM265.0 336.0h.9v.9h-.9zM262.0 343.1h.9v.9h-.9zM262.4 347.0h.9v.9h-.9zM264.0 336.1h.9v.9h-.9zM272.2 345.0h.9v.9h-.9zM267.2 350.6h.9v.9h-.9zM272.5 338.5h.9v.9h-.9zM264.2 335.5h.9v.9h-.9zM264.8 335.2h.9v.9h-.9zM272.5 338.6h.9v.9h-.9zM270.8 335.8h.9v.9h-.9zM267.7 334.2h.9v.9h-.9zM269.0 349.6h.9v.9h-.9zM262.6 348.0h.9v.9h-.9zM265.0 335.1h.9v.9h-.9zM270.9 335.5h.9v.9h-.9zM261.6 343.3h.9v.9h-.9zM272.6 338.4h.9v.9h-.9zM265.5 334.2h.9v.9h-.9zM272.5 339.0h.9v.9h-.9zM270.7 335.4h.9v.9h-.9zM268.3 334.2h.9v.9h-.9zM267.5 334.4h.9v.9h-.9zM265.2 334.9h.9v.9h-.9zM266.5 334.8h.9v.9h-.9z" fill="rgb(57, 163, 207)"/>
<path d="M270.8 336.6h.9v.9h-.9zM271.8 346.2h.9v.9h-.9zM267.5 349.5h.9v.9h-.9zM271.3 337.7h.9v.9h-.9zM272.9 343.5h.9v.9h-.9zM262.5 339.0h.9v.9h-.9zM272.6 343.8h.9v.9h-.9zM265.4 349.9h.9v.9h-.9zM266.0 336.0h.9v.9h-.9zM270.1 337.0h.9v.9h-.9zM272.1 341.3h.9v.9h-.9zM272.0 341.3h.9v.9h-.9zM268.9 349.5h.9v.9h-.9zM270.6 336.7h.9v.9h-.9zM272.4 341.1h.9v.9h-.9zM273.0 342.3h.9v.9h-.9zM268.5 335.4h.9v.9h-.9zM262.5 338.5h.9v.9h-.9zM269.3 335.7h.9v.9h-.9zM268.6 350.0h.9v.9h-.9zM266.0 336.0h.9v.9h-.9zM272.1 343.4h.9v.9h-.9zM273.0 340.9h.9v.9h-.9zM272.8 340.6h.9v.9h-.9zM272.4 340.6h.9v.9h-.9zM272.1 340.2h.9v.9h-.9zM270.1 336.5h.9v.9h-.9zM271.4 338.7h.9v.9h-.9zM272.1 342.0h.9v.9h-.9zM267.6 349.3h.9v.9h-.9zM272.5 340.7h.9v.9h-.9zM269.0 349.5h.9v.9h-.9zM271.3 337.9h.9v.9h-.9zM266.3 349.8h.9v.9h-.9zM268.2 349.2h.9v.9h-.9zM262.8 339.8h.9v.9h-.9zM266.8 349.4h.9v.9h-.9zM272.8 341.7h.9v.9h-.9zM272.9 343.6h.9v.9h-.9zM270.4 348.1h.9v.9h-.9zM271.3 338.3h.9v.9h-.9zM263.4 337.3h.9v.9h-.9zM272.3 342.5h.9v.9h-.9zM265.3 335.0h.9v.9h-.9zM270.3 348.6h.9v.9h-.9zM265.8 335.5h.9v.9h-.9zM272.0 342.9h.9v.9h-.9zM270.8 336.8h.9v.9h-.9zM262.8 338.6h.9v.9h-.9zM270.4 336.2h.9v.9h-.9zM266.2 349.8h.9v.9h-.9zM268.8 349.6h.9v.9h-.9zM270.7 348.3h.9v.9h-.9zM267.8 349.3h.9v.9h-.9zM272.9 343.6h.9v.9h-.9zM262.5 346.9h.9v.9h-.9zM272.1 341.3h.9v.9h-.9zM262.7 346.5h.9v.9h-.9zM272.2 340.3h.9v.9h-.9zM268.7 335.3h.9v.9h-.9zM262.2 345.5h.9v.9h-.9zM262.7 339.8h.9v.9h-.9zM272.4 343.8h.9v.9h-.9zM272.4 341.4h.9v.9h-.9zM262.2 338.2h.9v.9h-.9zM263.1 337.8h.9v.9h-.9zM266.9 349.4h.9v.9h-.9zM271.2 337.9h.9v.9h-.9zM263.0 345.7h.9v.9h-.9zM266.7 349.2h.9v.9h-.9zM272.0 343.4h.9v.9h-.9zM272.6 340.4h.9v.9h-.9zM269.0 349.0h.9v.9h-.9zM272.7 340.2h.9v.9h-.9zM262.5 346.8h.9v.9h-.9zM266.5 349.2h.9v.9h-.9zM270.1 348.8h.9v.9h-.9zM271.9 337.7h.9v.9h-.9zM265.1 335.1h.9v.9h-.9zM262.3 339.5h.9v.9h-.9zM268.2 349.6h.9v.9h-.9zM263.1 337.2h.9v.9h-.9zM268.9 335.6h.9v.9h-.9zM272.2 341.3h.9v.9h-.9zM262.9 338.7h.9v.9h-.9zM262.3 339.1h.9v.9h-.9zM263.6 337.1h.9v.9h-.9zM270.4 336.7h.9v.9h-.9zM271.4 338.0h.9v.9h-.9zM268.9 349.4h.9v.9h-.9zM268.5 335.6h.9v.9h-.9zM270.7 336.4h.9v.9h-.9zM267.8 349.8h.9v.9h-.9zM265.7 335.3h.9v.9h-.9zM265.5 335.5h.9v.9h-.9zM269.0 335.7h.9v.9h-.9z" fill="rgb(61, 176, 187)"/>
<path d="M262.4 344.5h.9v.9h-.9zM271.3 339.8h.9v.9h-.9zM269.2 348.2h.9v.9h-.9zM264.2 336.6h.9v.9h-.9zM271.1 339.4h.9v.9h-.9zM271.8 345.5h.9v.9h-.9zM270.7 337.4h.9v.9h-.9zM266.8 335.7h.9v.9h-.9zM270.4 347.1h.9v.9h-.9zM263.6 347.2h.9v.9h-.9zM271.0 345.3h.9v.9h-.9zM262.7 341.1h.9v.9h-.9zM262.7 340.5h.9v.9h-.9zM264.5 336.8h.9v.9h-.9zM262.8 340.6h.9v.9h-.9zM264.4 337.0h.9v.9h-.9zM265.0 348.3h.9v.9h-.9zM269.0 348.8h.9v.9h-.9zM270.0 336.8h.9v.9h-.9zM262.3 340.7h.9v.9h-.9zM262.6 341.4h.9v.9h-.9zM266.1 335.6h.9v.9h-.9zM270.6 337.9h.9v.9h-.9zM262.6 340.8h.9v.9h-.9zM263.8 347.1h.9v.9h-.9zM271.0 339.9h.9v.9h-.9zM264.4 336.5h.9v.9h-.9zM264.1 348.8h.9v.9h-.9zM269.8 336.1h.9v.9h-.9zM262.4 340.7h.9v.9h-.9zM269.5 336.1h.9v.9h-.9zM263.4 347.2h.9v.9h-.9zM262.5 341.5h.9v.9h-.9zM266.7 335.5h.9v.9h-.9zM270.8 347.0h.9v.9h-.9zM263.2 348.0h.9v.9h-.9zM262.7 344.8h.9v.9h-.9zM270.8 337.3h.9v.9h-.9zM269.3 348.5h.9v.9h-.9zM263.9 347.7h.9v.9h-.9zM270.4 347.2h.9v.9h-.9zM262.9 340.9h.9v.9h-.9zM264.2 336.4h.9v.9h-.9zM267.1 336.0h.9v.9h-.9zM262.5 344.3h.9v.9h-.9zM271.9 345.5h.9v.9h-.9zM267.1 335.5h.9v.9h-.9zM264.7 336.3h.9v.9h-.9zM262.5 341.1h.9v.9h-.9zM271.0 347.3h.9v.9h-.9zM270.0 347.8h.9v.9h-.9zM263.7 347.7h.9v.9h-.9zM264.8 336.8h.9v.9h-.9zM270.0 348.5h.9v.9h-.9zM271.0 339.4h.9v.9h-.9zM267.8 335.7h.9v.9h-.9zM262.1 341.7h.9v.9h-.9zM262.3 340.8h.9v.9h-.9zM271.5 339.7h.9v.9h-.9zM262.0 344.3h.9v.9h-.9zM271.3 345.8h.9v.9h-.9zM262.7 341.7h.9v.9h-.9zM262.9 341.2h.9v.9h-.9zM267.7 335.9h.9v.9h-.9zM270.3 347.8h.9v.9h-.9zM267.9 335.0h.9v.9h-.9zM262.9 344.1h.9v.9h-.9zM267.2 335.7h.9v.9h-.9zM262.7 340.1h.9v.9h-.9zM262.7 341.4h.9v.9h-.9zM263.2 347.9h.9v.9h-.9zM262.2 340.7h.9v.9h-.9zM262.4 341.3h.9v.9h-.9zM270.4 337.7h.9v.9h-.9zM269.3 348.0h.9v.9h-.9zM270.4 347.9h.9v.9h-.9zM263.8 347.9h.9v.9h-.9zM264.9 348.9h.9v.9h-.9zM271.5 339.3h.9v.9h-.9zM266.3 335.0h.9v.9h-.9zM269.0 336.2h.9v.9h-.9zM267.5 335.8h.9v.9h-.9zM264.3 348.0h.9v.9h-.9zM271.9 340.0h.9v.9h-.9zM271.7 339.5h.9v.9h-.9z" fill="rgb(66, 181, 144)"/>
<path d="M271.7 343.6h.9v.9h-.9zM270.4 346.1h.9v.9h-.9zM271.7 341.0h.9v.9h-.9zM265.4 336.1h.9v.9h-.9zM265.8 336.7h.9v.9h-.9zM270.2 339.0h.9v.9h-.9zM265.7 336.5h.9v.9h-.9zM270.3 346.7h.9v.9h-.9zM271.5 340.5h.9v.9h-.9zM271.7 340.5h.9v.9h-.9zM268.2 348.8h.9v.9h-.9zM266.8 348.3h.9v.9h-.9zM270.3 346.5h.9v.9h-.9zM270.7 346.8h.9v.9h-.9zM269.1 347.7h.9v.9h-.9zM263.5 338.9h.9v.9h-.9zM264.8 347.4h.9v.9h-.9zM269.7 347.5h.9v.9h-.9zM269.6 347.8h.9v.9h-.9zM271.2 340.7h.9v.9h-.9zM263.2 345.0h.9v.9h-.9zM265.3 336.3h.9v.9h-.9zM262.3 342.8h.9v.9h-.9zM271.4 344.7h.9v.9h-.9zM265.4 348.6h.9v.9h-.9zM266.8 348.9h.9v.9h-.9zM262.8 343.2h.9v.9h-.9zM269.0 347.3h.9v.9h-.9zM264.5 347.4h.9v.9h-.9zM268.7 348.1h.9v.9h-.9zM263.7 345.5h.9v.9h-.9zM270.4 346.5h.9v.9h-.9zM265.6 348.2h.9v.9h-.9zM266.4 348.9h.9v.9h-.9zM265.4 336.7h.9v.9h-.9zM272.0 343.2h.9v.9h-.9zM263.8 338.1h.9v.9h-.9zM271.1 344.5h.9v.9h-.9zM271.2 343.8h.9v.9h-.9zM270.7 338.7h.9v.9h-.9zM268.3 348.2h.9v.9h-.9zM263.6 345.9h.9v.9h-.9zM265.8 336.2h.9v.9h-.9zM271.1 344.5h.9v.9h-.9zM271.7 344.5h.9v.9h-.9zM269.1 347.9h.9v.9h-.9zM263.8 345.4h.9v.9h-.9zM262.2 342.9h.9v.9h-.9zM270.6 346.2h.9v.9h-.9zM270.0 346.1h.9v.9h-.9zM265.6 336.4h.9v.9h-.9zM265.5 348.3h.9v.9h-.9zM271.2 340.9h.9v.9h-.9zM262.1 342.3h.9v.9h-.9zM263.1 338.5h.9v.9h-.9zM263.6 345.6h.9v.9h-.9zM263.1 339.0h.9v.9h-.9zM271.4 344.9h.9v.9h-.9zM270.6 346.5h.9v.9h-.9zM265.8 348.4h.9v.9h-.9zM268.2 348.1h.9v.9h-.9zM271.3 344.0h.9v.9h-.9zM271.8 344.9h.9v.9h-.9zM263.2 338.1h.9v.9h-.9zM265.4 348.1h.9v.9h-.9zM263.3 346.9h.9v.9h-.9zM268.9 348.6h.9v.9h-.9zM270.4 346.9h.9v.9h-.9zM266.5 348.6h.9v.9h-.9zM263.4 338.4h.9v.9h-.9zM271.8 340.4h.9v.9h-.9zM262.2 343.0h.9v.9h-.9zM271.9 343.3h.9v.9h-.9zM267.0 348.8h.9v.9h-.9zM272.0 343.0h.9v.9h-.9zM271.5 340.7h.9v.9h-.9zM270.8 346.9h.9v.9h-.9zM264.4 348.0h.9v.9h-.9zM262.7 342.9h.9v.9h-.9zM265.7 336.6h.9v.9h-.9zM264.3 347.5h.9v.9h-.9zM263.8 345.2h.9v.9h-.9zM270.2 346.4h.9v.9h-.9zM270.5 338.6h.9v.9h-.9zM271.4 343.1h.9v.9h-.9zM263.2 346.9h.9v.9h-.9zM263.8 338.9h.9v.9h-.9zM266.9 348.5h.9v.9h-.9zM265.0 347.2h.9v.9h-.9zM266.1 349.0h.9v.9h-.9zM265.3 349.0h.9v.9h-.9zM265.6 336.8h.9v.9h-.9zM263.9 345.2h.9v.9h-.9zM262.8 342.3h.9v.9h-.9zM263.2 346.5h.9v.9h-.9zM269.4 347.6h.9v.9h-.9zM268.2 348.0h.9v.9h-.9zM271.6 344.7h.9v.9h-.9zM263.6 346.8h.9v.9h-.9zM270.1 338.9h.9v.9h-.9zM263.4 346.6h.9v.9h-.9zM265.8 336.7h.9v.9h-.9zM262.5 342.2h.9v.9h-.9zM270.7 338.7h.9v.9h-.9zM271.0 338.3h.9v.9h-.9zM263.9 345.7h.9v.9h-.9zM263.8 345.1h.9v.9h-.9zM271.9 344.6h.9v.9h-.9zM270.2 338.2h.9v.9h-.9z" fill="rgb(77, 186, 105)"/>
<path d="M271.3 341.9h.9v.9h-.9zM264.3 346.6h.9v.9h-.9zM271.7 341.9h.9v.9h-.9zM271.8 342.9h.9v.9h-.9zM264.2 337.7h.9v.9h-.9zM265.8 347.2h.9v.9h-.9zM264.4 346.3h.9v.9h-.9zM264.1 337.6h.9v.9h-.9zM270.2 339.9h.9v.9h-.9zM269.4 337.8h.9v.9h-.9zM265.2 347.7h.9v.9h-.9zM271.0 342.8h.9v.9h-.9zM266.5 336.7h.9v.9h-.9zM263.7 339.8h.9v.9h-.9zM268.2 336.2h.9v.9h-.9zM264.1 346.7h.9v.9h-.9zM263.8 344.7h.9v.9h-.9zM271.0 339.6h.9v.9h-.9zM265.6 347.3h.9v.9h-.9zM264.8 346.2h.9v.9h-.9zM268.8 336.3h.9v.9h-.9zM270.8 339.8h.9v.9h-.9zM269.2 337.1h.9v.9h-.9zM271.8 342.9h.9v.9h-.9zM271.2 342.9h.9v.9h-.9zM264.4 346.9h.9v.9h-.9zM265.9 347.4h.9v.9h-.9zM268.3 336.4h.9v.9h-.9zM267.7 348.5h.9v.9h-.9zM263.3 344.7h.9v.9h-.9zM264.9 346.1h.9v.9h-.9zM265.7 347.8h.9v.9h-.9zM265.6 347.1h.9v.9h-.9zM265.7 347.5h.9v.9h-.9zM263.7 344.8h.9v.9h-.9zM265.1 347.9h.9v.9h-.9zM265.0 347.1h.9v.9h-.9zM263.4 339.5h.9v.9h-.9zM270.2 339.0h.9v.9h-.9zM265.9 347.1h.9v.9h-.9zM267.3 336.1h.9v.9h-.9zM267.9 336.6h.9v.9h-.9zM267.2 348.7h.9v.9h-.9zM271.2 341.9h.9v.9h-.9zM267.9 348.4h.9v.9h-.9zM270.2 339.9h.9v.9h-.9zM264.8 347.0h.9v.9h-.9zM268.7 336.6h.9v.9h-.9zM268.4 336.6h.9v.9h-.9zM265.8 347.4h.9v.9h-.9zM271.3 342.3h.9v.9h-.9zM265.1 347.8h.9v.9h-.9zM264.4 346.6h.9v.9h-.9zM263.3 344.9h.9v.9h-.9zM267.3 336.5h.9v.9h-.9zM271.4 342.8h.9v.9h-.9zM263.2 344.3h.9v.9h-.9zM263.8 344.6h.9v.9h-.9zM263.2 339.1h.9v.9h-.9zM263.3 339.5h.9v.9h-.9zM266.8 336.1h.9v.9h-.9zM267.8 348.2h.9v.9h-.9zM269.3 337.9h.9v.9h-.9zM267.2 348.4h.9v.9h-.9zM268.5 336.2h.9v.9h-.9zM264.7 346.0h.9v.9h-.9zM267.7 336.2h.9v.9h-.9zM269.8 337.7h.9v.9h-.9zM272.0 342.6h.9v.9h-.9zM264.3 337.9h.9v.9h-.9zM267.7 348.4h.9v.9h-.9zM266.1 337.0h.9v.9h-.9zM264.4 346.7h.9v.9h-.9zM265.3 347.7h.9v.9h-.9zM265.0 346.4h.9v.9h-.9zM269.9 337.7h.9v.9h-.9zM267.1 336.8h.9v.9h-.9zM266.4 336.6h.9v.9h-.9zM271.1 342.0h.9v.9h-.9zM267.1 336.7h.9v.9h-.9zM268.5 336.6h.9v.9h-.9zM270.7 339.6h.9v.9h-.9zM269.4 337.0h.9v.9h-.9zM267.4 336.4h.9v.9h-.9zM271.0 342.6h.9v.9h-.9z" fill="rgb(117, 195, 83)"/>
<path d="M269.6 338.3h.9v.9h-.9zM263.2 340.4h.9v.9h-.9zM268.3 347.5h.9v.9h-.9zM269.0 347.0h.9v.9h-.9zM264.5 338.9h.9v.9h-.9zM268.7 347.7h.9v.9h-.9zM268.2 347.7h.9v.9h-.9zM264.0 338.2h.9v.9h-.9zM264.3 338.4h.9v.9h-.9zM266.8 347.2h.9v.9h-.9zM269.6 338.7h.9v.9h-.9zM263.0 340.2h.9v.9h-.9zM263.3 341.2h.9v.9h-.9zM263.8 343.2h.9v.9h-.9zM263.1 341.4h.9v.9h-.9zM263.1 342.0h.9v.9h-.9zM264.5 338.7h.9v.9h-.9zM268.9 337.6h.9v.9h-.9zM263.4 341.4h.9v.9h-.9zM267.1 347.8h.9v.9h-.9zM264.2 338.5h.9v.9h-.9zM266.7 347.9h.9v.9h-.9zM268.2 347.1h.9v.9h-.9zM264.6 344.3h.9v.9h-.9zM268.7 337.9h.9v.9h-.9zM263.1 340.1h.9v.9h-.9zM267.3 347.4h.9v.9h-.9zM264.2 345.6h.9v.9h-.9zM264.4 345.4h.9v.9h-.9zM268.6 337.3h.9v.9h-.9zM268.5 347.7h.9v.9h-.9zM270.4 340.1h.9v.9h-.9zM268.6 337.6h.9v.9h-.9zM265.9 346.1h.9v.9h-.9zM268.3 337.3h.9v.9h-.9zM270.5 345.7h.9v.9h-.9zM263.2 340.2h.9v.9h-.9zM266.2 347.0h.9v.9h-.9zM264.6 345.6h.9v.9h-.9zM270.4 345.6h.9v.9h-.9zM269.8 346.5h.9v.9h-.9zM263.3 343.5h.9v.9h-.9zM263.3 342.4h.9v.9h-.9zM264.3 345.4h.9v.9h-.9zM269.3 338.4h.9v.9h-.9zM269.4 346.1h.9v.9h-.9zM264.7 345.2h.9v.9h-.9zM268.1 347.2h.9v.9h-.9zM265.9 337.9h.9v.9h-.9zM270.8 340.6h.9v.9h-.9zM265.0 344.9h.9v.9h-.9zM264.0 345.4h.9v.9h-.9zM266.3 347.1h.9v.9h-.9zM264.3 345.6h.9v.9h-.9zM265.9 346.0h.9v.9h-.9zM265.0 344.9h.9v.9h-.9zM268.4 337.5h.9v.9h-.9zM263.5 340.3h.9v.9h-.9zM265.7 337.5h.9v.9h-.9zM264.6 338.7h.9v.9h-.9zM264.9 345.7h.9v.9h-.9zM266.5 347.6h.9v.9h-.9zM270.1 340.9h.9v.9h-.9zM263.2 343.0h.9v.9h-.9zM268.7 337.6h.9v.9h-.9zM264.4 345.7h.9v.9h-.9zM270.3 345.1h.9v.9h-.9zM264.4 345.1h.9v.9h-.9zM268.1 347.7h.9v.9h-.9zM264.7 338.7h.9v.9h-.9zM265.7 337.2h.9v.9h-.9zM265.2 337.8h.9v.9h-.9zM264.3 338.4h.9v.9h-.9zM265.4 346.3h.9v.9h-.9zM265.7 337.0h.9v.9h-.9zM265.3 337.4h.9v.9h-.9zM270.9 340.4h.9v.9h-.9zM264.5 344.6h.9v.9h-.9zM264.1 344.8h.9v.9h-.9zM270.5 345.1h.9v.9h-.9zM263.6 343.4h.9v.9h-.9zM263.9 343.5h.9v.9h-.9zM268.3 347.3h.9v.9h-.9zM269.8 346.6h.9v.9h-.9zM264.0 342.2h.9v.9h-.9zM263.2 340.4h.9v.9h-.9zM264.6 345.2h.9v.9h-.9zM263.6 343.2h.9v.9h-.9zM263.4 341.0h.9v.9h-.9zM264.9 345.8h.9v.9h-.9zM265.0 345.7h.9v.9h-.9zM268.5 337.2h.9v.9h-.9zM269.9 338.4h.9v.9h-.9zM269.0 338.5h.9v.9h-.9zM268.1 337.0h.9v.9h-.9zM268.3 347.7h.9v.9h-.9zM268.4 347.1h.9v.9h-.9zM269.2 346.6h.9v.9h-.9zM269.4 338.4h.9v.9h-.9zM265.9 337.9h.9v.9h-.9zM263.9 340.6h.9v.9h-.9zM263.6 341.7h.9v.9h-.9zM265.4 346.6h.9v.9h-.9zM263.7 341.7h.9v.9h-.9zM265.3 337.4h.9v.9h-.9zM268.1 337.9h.9v.9h-.9zM264.9 345.4h.9v.9h-.9zM269.2 346.4h.9v.9h-.9zM265.8 347.0h.9v.9h-.9zM263.8 343.7h.9v.9h-.9zM263.4 342.0h.9v.9h-.9zM264.3 338.2h.9v.9h-.9zM263.1 342.4h.9v.9h-.9zM263.6 342.4h.9v.9h-.9zM264.5 345.7h.9v.9h-.9zM270.1 340.2h.9v.9h-.9zM265.7 346.1h.9v.9h-.9zM267.5 347.1h.9v.9h-.9zM265.8 337.3h.9v.9h-.9zM263.2 342.2h.9v.9h-.9zM264.0 343.8h.9v.9h-.9zM264.4 338.7h.9v.9h-.9zM269.2 338.0h.9v.9h-.9zM266.7 347.3h.9v.9h-.9zM269.4 346.1h.9v.9h-.9zM263.9 343.2h.9v.9h-.9zM269.1 346.8h.9v.9h-.9zM267.9 347.4h.9v.9h-.9zM263.9 342.2h.9v.9h-.9zM263.9 342.1h.9v.9h-.9zM269.7 346.6h.9v.9h-.9zM263.8 341.2h.9v.9h-.9zM266.0 346.1h.9v.9h-.9zM263.7 340.5h.9v.9h-.9zM264.6 338.8h.9v.9h-.9zM263.5 341.4h.9v.9h-.9zM263.3 342.2h.9v.9h-.9zM268.9 347.3h.9v.9h-.9zM269.8 346.7h.9v.9h-.9zM268.9 347.8h.9v.9h-.9zM267.0 347.4h.9v.9h-.9zM263.9 340.8h.9v.9h-.9zM264.2 344.7h.9v.9h-.9zM264.5 345.2h.9v.9h-.9zM265.6 337.7h.9v.9h-.9zM265.1 337.6h.9v.9h-.9zM269.4 338.7h.9v.9h-.9zM269.4 338.4h.9v.9h-.9zM265.7 337.2h.9v.9h-.9zM269.8 346.7h.9v.9h-.9z" fill="rgb(157, 204, 61)"/>
<path d="M270.1 345.0h.9v.9h-.9zM268.4 346.1h.9v.9h-.9zM267.7 337.3h.9v.9h-.9zM270.4 344.9h.9v.9h-.9zM268.0 346.5h.9v.9h-.9zM268.0 346.4h.9v.9h-.9zM267.8 337.9h.9v.9h-.9zM269.6 340.8h.9v.9h-.9zM266.8 337.4h.9v.9h-.9zM268.3 346.0h.9v.9h-.9zM269.1 339.5h.9v.9h-.9zM267.0 337.2h.9v.9h-.9zM267.7 337.2h.9v.9h-.9zM270.3 344.7h.9v.9h-.9zM268.4 338.3h.9v.9h-.9zM269.7 339.6h.9v.9h-.9zM270.5 344.1h.9v.9h-.9zM268.6 346.4h.9v.9h-.9zM270.1 344.5h.9v.9h-.9zM269.4 339.0h.9v.9h-.9zM270.3 344.5h.9v.9h-.9zM266.9 337.9h.9v.9h-.9zM266.7 337.9h.9v.9h-.9zM267.4 346.9h.9v.9h-.9zM269.4 340.4h.9v.9h-.9zM267.9 346.9h.9v.9h-.9zM267.7 346.9h.9v.9h-.9zM270.1 344.7h.9v.9h-.9zM268.1 338.8h.9v.9h-.9zM268.8 346.0h.9v.9h-.9zM269.0 340.7h.9v.9h-.9zM267.7 346.4h.9v.9h-.9zM269.1 339.8h.9v.9h-.9zM268.6 346.2h.9v.9h-.9zM269.2 339.7h.9v.9h-.9zM269.3 339.7h.9v.9h-.9zM271.0 344.4h.9v.9h-.9zM268.3 346.0h.9v.9h-.9zM267.5 346.4h.9v.9h-.9zM266.5 338.0h.9v.9h-.9zM270.0 339.7h.9v.9h-.9zM268.8 347.0h.9v.9h-.9zM269.1 339.9h.9v.9h-.9zM267.0 337.6h.9v.9h-.9zM269.7 340.1h.9v.9h-.9zM270.0 344.4h.9v.9h-.9zM267.3 346.6h.9v.9h-.9zM267.0 337.1h.9v.9h-.9zM267.3 337.4h.9v.9h-.9zM266.1 337.3h.9v.9h-.9zM267.4 346.1h.9v.9h-.9zM267.6 337.3h.9v.9h-.9zM269.8 340.5h.9v.9h-.9zM269.1 340.4h.9v.9h-.9zM268.2 338.9h.9v.9h-.9zM268.6 338.4h.9v.9h-.9zM269.7 339.3h.9v.9h-.9zM268.1 338.9h.9v.9h-.9zM269.8 340.2h.9v.9h-.9zM266.8 338.0h.9v.9h-.9zM270.2 344.3h.9v.9h-.9zM270.9 344.8h.9v.9h-.9zM266.2 337.0h.9v.9h-.9zM268.0 338.0h.9v.9h-.9zM270.3 344.5h.9v.9h-.9zM269.3 340.0h.9v.9h-.9zM268.7 346.2h.9v.9h-.9zM267.3 346.8h.9v.9h-.9zM268.7 339.0h.9v.9h-.9zM267.5 346.7h.9v.9h-.9zM267.6 346.8h.9v.9h-.9zM269.6 340.9h.9v.9h-.9z" fill="rgb(193, 202, 53)"/>
<path d="M264.2 343.6h.9v.9h-.9zM270.0 342.5h.9v.9h-.9zM267.9 338.4h.9v.9h-.9zM269.5 345.1h.9v.9h-.9zM268.0 339.4h.9v.9h-.9zM264.9 339.7h.9v.9h-.9zM270.5 342.9h.9v.9h-.9zM264.4 342.9h.9v.9h-.9zM264.2 343.8h.9v.9h-.9zM268.7 339.1h.9v.9h-.9zM264.8 343.0h.9v.9h-.9zM268.1 339.5h.9v.9h-.9zM265.9 338.3h.9v.9h-.9zM265.0 341.9h.9v.9h-.9zM265.5 338.4h.9v.9h-.9zM265.1 345.7h.9v.9h-.9zM270.2 341.8h.9v.9h-.9zM264.3 343.6h.9v.9h-.9zM267.0 338.7h.9v.9h-.9zM265.3 345.7h.9v.9h-.9zM267.6 338.9h.9v.9h-.9zM266.0 338.5h.9v.9h-.9zM266.0 344.4h.9v.9h-.9zM265.6 344.7h.9v.9h-.9zM264.5 342.9h.9v.9h-.9zM268.6 339.3h.9v.9h-.9zM266.0 346.7h.9v.9h-.9zM266.6 338.8h.9v.9h-.9zM268.1 339.1h.9v.9h-.9zM264.8 339.6h.9v.9h-.9zM270.9 343.0h.9v.9h-.9zM268.5 339.6h.9v.9h-.9zM265.4 338.8h.9v.9h-.9zM264.2 342.0h.9v.9h-.9zM267.3 338.1h.9v.9h-.9zM264.4 341.9h.9v.9h-.9zM264.6 343.1h.9v.9h-.9zM264.9 343.0h.9v.9h-.9zM266.8 338.0h.9v.9h-.9zM267.4 338.6h.9v.9h-.9zM264.8 342.5h.9v.9h-.9zM270.7 343.7h.9v.9h-.9zM265.5 345.2h.9v.9h-.9zM270.2 343.4h.9v.9h-.9zM264.5 341.3h.9v.9h-.9zM266.6 338.5h.9v.9h-.9zM265.8 344.8h.9v.9h-.9zM266.5 338.6h.9v.9h-.9zM270.6 341.8h.9v.9h-.9zM271.0 343.2h.9v.9h-.9zM270.8 341.6h.9v.9h-.9zM265.1 345.6h.9v.9h-.9zM266.7 338.6h.9v.9h-.9zM265.2 345.5h.9v.9h-.9zM270.0 342.7h.9v.9h-.9zM266.5 338.7h.9v.9h-.9zM265.3 345.8h.9v.9h-.9zM267.2 338.9h.9v.9h-.9zM270.6 341.0h.9v.9h-.9zM265.1 345.0h.9v.9h-.9zM267.0 338.0h.9v.9h-.9zM264.4 342.7h.9v.9h-.9zM270.9 343.6h.9v.9h-.9zM265.6 345.2h.9v.9h-.9zM265.5 338.3h.9v.9h-.9zM271.0 343.2h.9v.9h-.9zM267.8 338.6h.9v.9h-.9zM267.1 338.5h.9v.9h-.9zM264.4 342.9h.9v.9h-.9zM269.9 345.6h.9v.9h-.9zM270.8 341.9h.9v.9h-.9zM266.4 338.9h.9v.9h-.9zM264.4 342.8h.9v.9h-.9zM267.9 338.9h.9v.9h-.9zM266.8 338.5h.9v.9h-.9zM264.3 341.6h.9v.9h-.9zM266.5 346.3h.9v.9h-.9zM266.8 346.7h.9v.9h-.9zM267.8 338.5h.9v.9h-.9zM270.7 342.2h.9v.9h-.9zM264.8 341.9h.9v.9h-.9zM264.6 342.5h.9v.9h-.9zM269.5 345.8h.9v.9h-.9zM266.2 346.9h.9v.9h-.9zM265.7 344.3h.9v.9h-.9zM265.9 344.4h.9v.9h-.9zM264.8 343.2h.9v.9h-.9zM270.7 342.9h.9v.9h-.9zM270.3 343.5h.9v.9h-.9zM264.5 339.1h.9v.9h-.9zM266.8 338.7h.9v.9h-.9zM270.4 341.1h.9v.9h-.9zM270.5 341.7h.9v.9h-.9zM268.1 339.4h.9v.9h-.9zM266.0 346.3h.9v.9h-.9zM267.2 338.6h.9v.9h-.9zM264.7 341.9h.9v.9h-.9zM269.8 345.5h.9v.9h-.9zM267.1 338.1h.9v.9h-.9zM267.6 338.5h.9v.9h-.9zM266.2 338.0h.9v.9h-.9zM270.1 342.2h.9v.9h-.9zM270.1 342.9h.9v.9h-.9zM269.0 345.2h.9v.9h-.9zM268.5 339.6h.9v.9h-.9zM269.8 345.3h.9v.9h-.9zM266.6 346.7h.9v.9h-.9zM268.9 339.7h.9v.9h-.9zM270.9 342.6h.9v.9h-.9zM266.7 338.8h.9v.9h-.9zM266.8 338.2h.9v.9h-.9zM266.8 339.0h.9v.9h-.9zM264.3 339.1h.9v.9h-.9zM264.9 339.4h.9v.9h-.9zM264.3 339.0h.9v.9h-.9zM264.5 342.7h.9v.9h-.9zM264.0 341.5h.9v.9h-.9zM265.5 345.9h.9v.9h-.9zM265.5 338.6h.9v.9h-.9zM264.9 341.7h.9v.9h-.9zM265.3 344.2h.9v.9h-.9zM265.9 345.4h.9v.9h-.9zM264.8 343.5h.9v.9h-.9zM269.4 345.4h.9v.9h-.9z" fill="rgb(229, 200, 47)"/>
<path d="M265.9 342.2h.9v.9h-.9zM266.1 345.9h.9v.9h-.9zM268.2 345.2h.9v.9h-.9zM267.3 345.9h.9v.9h-.9zM265.7 343.7h.9v.9h-.9zM264.6 340.0h.9v.9h-.9zM269.9 344.1h.9v.9h-.9zM266.0 343.1h.9v.9h-.9zM265.4 341.3h.9v.9h-.9zM268.0 345.5h.9v.9h-.9zM264.3 340.2h.9v.9h-.9zM266.9 345.6h.9v.9h-.9zM269.4 342.8h.9v.9h-.9zM265.7 339.6h.9v.9h-.9zM264.9 341.0h.9v.9h-.9zM269.2 341.3h.9v.9h-.9zM267.3 346.0h.9v.9h-.9zM270.0 342.9h.9v.9h-.9zM269.2 342.0h.9v.9h-.9zM265.3 341.3h.9v.9h-.9zM268.4 345.7h.9v.9h-.9zM268.1 345.4h.9v.9h-.9zM269.8 343.6h.9v.9h-.9zM265.3 342.0h.9v.9h-.9zM265.8 342.0h.9v.9h-.9zM269.1 343.7h.9v.9h-.9zM266.8 345.3h.9v.9h-.9zM265.5 339.4h.9v.9h-.9zM265.3 343.9h.9v.9h-.9zM269.2 343.1h.9v.9h-.9zM268.4 345.8h.9v.9h-.9zM264.9 340.4h.9v.9h-.9zM265.7 339.3h.9v.9h-.9zM268.6 345.0h.9v.9h-.9zM267.2 346.0h.9v.9h-.9zM269.7 344.5h.9v.9h-.9zM269.9 344.4h.9v.9h-.9zM264.4 341.0h.9v.9h-.9zM265.8 341.9h.9v.9h-.9zM269.8 343.2h.9v.9h-.9zM265.1 341.1h.9v.9h-.9zM264.0 340.6h.9v.9h-.9zM269.1 343.3h.9v.9h-.9zM265.8 343.2h.9v.9h-.9zM268.5 346.0h.9v.9h-.9zM264.6 340.0h.9v.9h-.9zM269.7 341.5h.9v.9h-.9zM268.3 345.2h.9v.9h-.9zM269.5 342.2h.9v.9h-.9zM265.9 343.4h.9v.9h-.9zM268.7 345.5h.9v.9h-.9zM266.0 342.3h.9v.9h-.9zM269.5 343.3h.9v.9h-.9zM265.2 341.7h.9v.9h-.9zM268.9 345.3h.9v.9h-.9zM266.9 345.5h.9v.9h-.9zM269.6 342.1h.9v.9h-.9zM266.2 345.4h.9v.9h-.9zM265.2 342.3h.9v.9h-.9zM265.9 339.2h.9v.9h-.9zM269.4 342.0h.9v.9h-.9zM269.3 342.4h.9v.9h-.9zM265.3 342.7h.9v.9h-.9zM265.3 341.3h.9v.9h-.9zM265.0 339.6h.9v.9h-.9zM269.5 344.1h.9v.9h-.9zM269.7 343.0h.9v.9h-.9zM269.1 342.3h.9v.9h-.9zM264.8 340.8h.9v.9h-.9zM269.0 344.3h.9v.9h-.9zM269.6 342.3h.9v.9h-.9zM265.6 339.7h.9v.9h-.9zM269.4 341.3h.9v.9h-.9zM269.2 344.7h.9v.9h-.9zM265.1 339.4h.9v.9h-.9zM265.9 343.1h.9v.9h-.9zM265.9 339.1h.9v.9h-.9zM265.5 344.0h.9v.9h-.9zM269.2 342.9h.9v.9h-.9zM264.6 340.7h.9v.9h-.9zM266.2 345.1h.9v.9h-.9zM265.4 341.5h.9v.9h-.9zM265.7 342.2h.9v.9h-.9zM265.7 342.7h.9v.9h-.9zM269.2 343.0h.9v.9h-.9zM268.3 345.1h.9v.9h-.9zM268.5 346.0h.9v.9h-.9zM269.2 341.0h.9v.9h-.9zM269.8 341.4h.9v.9h-.9zM269.6 343.9h.9v.9h-.9zM266.4 345.6h.9v.9h-.9zM264.3 340.7h.9v.9h-.9zM269.6 343.5h.9v.9h-.9zM266.7 345.6h.9v.9h-.9zM265.7 343.3h.9v.9h-.9zM268.2 345.9h.9v.9h-.9zM269.6 342.9h.9v.9h-.9zM269.3 341.8h.9v.9h-.9zM265.6 343.5h.9v.9h-.9zM265.4 343.0h.9v.9h-.9zM269.5 342.3h.9v.9h-.9zM265.3 343.9h.9v.9h-.9zM267.3 345.8h.9v.9h-.9zM269.0 343.4h.9v.9h-.9zM267.1 345.0h.9v.9h-.9zM266.7 345.8h.9v.9h-.9zM270.0 344.3h.9v.9h-.9zM265.8 339.5h.9v.9h-.9zM265.6 341.6h.9v.9h-.9zM265.3 339.4h.9v.9h-.9zM269.6 343.1h.9v.9h-.9zM269.7 343.8h.9v.9h-.9zM266.2 345.1h.9v.9h-.9zM264.6 341.0h.9v.9h-.9zM269.8 343.2h.9v.9h-.9zM268.5 345.3h.9v.9h-.9zM269.3 341.5h.9v.9h-.9zM265.3 341.4h.9v.9h-.9zM265.1 339.5h.9v.9h-.9zM265.3 341.3h.9v.9h-.9zM265.7 339.9h.9v.9h-.9zM265.7 341.7h.9v.9h-.9zM265.0 341.6h.9v.9h-.9zM265.0 343.8h.9v.9h-.9zM267.2 345.7h.9v.9h-.9z" fill="rgb(240, 171, 42)"/>
<path d="M266.9 344.4h.9v.9h-.9zM268.4 343.6h.9v.9h-.9zM266.9 344.4h.9v.9h-.9zM268.2 343.1h.9v.9h-.9zM268.1 341.4h.9v.9h-.9zM266.4 342.8h.9v.9h-.9zM268.1 343.7h.9v.9h-.9zM266.2 339.3h.9v.9h-.9zM266.7 339.3h.9v.9h-.9zM268.7 341.3h.9v.9h-.9zM266.3 342.6h.9v.9h-.9zM268.7 344.8h.9v.9h-.9zM268.9 341.8h.9v.9h-.9zM268.9 340.7h.9v.9h-.9zM267.2 344.8h.9v.9h-.9zM267.8 339.9h.9v.9h-.9zM267.9 344.3h.9v.9h-.9zM268.2 343.4h.9v.9h-.9zM268.9 341.5h.9v.9h-.9zM266.6 342.4h.9v.9h-.9zM268.2 342.4h.9v.9h-.9zM266.0 344.2h.9v.9h-.9zM267.3 344.0h.9v.9h-.9zM265.7 340.9h.9v.9h-.9zM267.7 344.1h.9v.9h-.9zM267.4 339.1h.9v.9h-.9zM268.7 343.0h.9v.9h-.9zM266.0 340.8h.9v.9h-.9zM268.8 343.5h.9v.9h-.9zM268.7 343.6h.9v.9h-.9zM267.7 339.3h.9v.9h-.9zM268.8 341.4h.9v.9h-.9zM268.1 340.5h.9v.9h-.9zM268.4 344.3h.9v.9h-.9zM268.4 344.7h.9v.9h-.9zM266.7 343.0h.9v.9h-.9zM265.4 340.0h.9v.9h-.9zM266.2 339.9h.9v.9h-.9zM266.7 344.1h.9v.9h-.9zM267.4 344.5h.9v.9h-.9zM266.6 344.2h.9v.9h-.9zM266.8 339.8h.9v.9h-.9zM266.7 339.2h.9v.9h-.9zM266.1 342.2h.9v.9h-.9zM268.3 342.4h.9v.9h-.9zM267.7 339.4h.9v.9h-.9zM265.0 340.1h.9v.9h-.9zM266.2 342.5h.9v.9h-.9zM268.5 342.2h.9v.9h-.9zM267.4 344.8h.9v.9h-.9zM268.2 341.7h.9v.9h-.9zM266.1 339.1h.9v.9h-.9zM268.7 343.3h.9v.9h-.9zM268.2 341.2h.9v.9h-.9zM268.2 343.5h.9v.9h-.9zM268.0 339.7h.9v.9h-.9zM268.2 344.7h.9v.9h-.9zM268.7 343.1h.9v.9h-.9zM266.9 339.3h.9v.9h-.9zM268.5 343.9h.9v.9h-.9zM268.0 341.9h.9v.9h-.9zM266.2 339.6h.9v.9h-.9zM266.6 339.4h.9v.9h-.9zM266.3 342.4h.9v.9h-.9zM268.8 342.4h.9v.9h-.9zM268.0 339.6h.9v.9h-.9zM266.1 344.3h.9v.9h-.9zM266.7 342.9h.9v.9h-.9zM268.2 345.0h.9v.9h-.9zM268.7 344.4h.9v.9h-.9zM268.5 344.1h.9v.9h-.9zM268.4 340.5h.9v.9h-.9zM268.7 340.1h.9v.9h-.9zM266.8 342.9h.9v.9h-.9zM267.6 344.8h.9v.9h-.9zM269.0 343.3h.9v.9h-.9zM266.9 342.2h.9v.9h-.9zM268.7 341.5h.9v.9h-.9zM268.8 344.2h.9v.9h-.9zM266.3 342.7h.9v.9h-.9zM265.7 340.8h.9v.9h-.9zM269.0 340.3h.9v.9h-.9zM268.8 341.1h.9v.9h-.9zM268.3 341.2h.9v.9h-.9zM268.9 341.6h.9v.9h-.9zM268.3 342.7h.9v.9h-.9zM268.8 342.5h.9v.9h-.9zM268.9 341.8h.9v.9h-.9zM267.6 344.5h.9v.9h-.9zM268.2 342.3h.9v.9h-.9zM265.3 341.0h.9v.9h-.9zM265.8 340.6h.9v.9h-.9zM268.5 343.2h.9v.9h-.9zM268.3 341.4h.9v.9h-.9zM268.2 343.8h.9v.9h-.9zM266.6 342.7h.9v.9h-.9zM265.2 340.1h.9v.9h-.9zM266.4 342.2h.9v.9h-.9zM268.6 344.0h.9v.9h-.9zM266.5 339.0h.9v.9h-.9zM268.3 343.4h.9v.9h-.9zM268.9 342.4h.9v.9h-.9zM268.4 341.9h.9v.9h-.9zM266.7 339.3h.9v.9h-.9zM268.2 342.9h.9v.9h-.9zM268.7 345.0h.9v.9h-.9zM268.2 342.8h.9v.9h-.9zM268.4 343.3h.9v.9h-.9zM268.3 341.8h.9v.9h-.9zM268.0 344.9h.9v.9h-.9zM266.2 342.7h.9v.9h-.9zM265.3 340.2h.9v.9h-.9zM268.3 341.7h.9v.9h-.9zM266.4 339.3h.9v.9h-.9zM266.4 339.8h.9v.9h-.9zM268.6 341.2h.9v.9h-.9zM266.5 342.4h.9v.9h-.9zM266.0 340.4h.9v.9h-.9zM268.3 342.9h.9v.9h-.9zM268.3 344.5h.9v.9h-.9zM268.9 340.1h.9v.9h-.9zM267.7 344.3h.9v.9h-.9z" fill="rgb(239, 130, 39)"/>
<path d="M266.9 341.1h.9v.9h-.9zM267.7 343.3h.9v.9h-.9zM268.0 343.6h.9v.9h-.9zM267.3 343.3h.9v.9h-.9zM267.8 340.7h.9v.9h-.9zM266.6 341.7h.9v.9h-.9zM266.8 340.7h.9v.9h-.9zM267.5 341.4h.9v.9h-.9zM266.8 342.0h.9v.9h-.9zM267.0 340.5h.9v.9h-.9zM267.9 340.6h.9v.9h-.9zM266.2 341.3h.9v.9h-.9zM267.1 343.3h.9v.9h-.9zM267.3 340.8h.9v.9h-.9zM267.6 340.5h.9v.9h-.9zM267.8 340.7h.9v.9h-.9zM266.9 340.2h.9v.9h-.9zM266.0 343.6h.9v.9h-.9zM267.5 341.6h.9v.9h-.9zM266.6 341.4h.9v.9h-.9zM266.0 341.4h.9v.9h-.9zM267.4 342.4h.9v.9h-.9zM266.2 341.7h.9v.9h-.9zM266.5 341.0h.9v.9h-.9zM266.1 343.9h.9v.9h-.9zM267.2 343.5h.9v.9h-.9zM268.0 341.9h.9v.9h-.9zM266.5 341.8h.9v.9h-.9zM267.5 344.0h.9v.9h-.9zM266.1 340.8h.9v.9h-.9zM267.0 341.4h.9v.9h-.9zM267.6 343.3h.9v.9h-.9zM266.9 343.6h.9v.9h-.9zM266.9 343.4h.9v.9h-.9zM267.9 342.3h.9v.9h-.9zM267.2 340.3h.9v.9h-.9zM266.2 343.4h.9v.9h-.9zM267.8 342.4h.9v.9h-.9zM266.8 341.7h.9v.9h-.9zM267.2 340.5h.9v.9h-.9zM267.3 340.1h.9v.9h-.9zM267.9 340.3h.9v.9h-.9zM267.3 343.6h.9v.9h-.9zM266.4 340.8h.9v.9h-.9zM266.5 340.8h.9v.9h-.9zM266.2 343.8h.9v.9h-.9zM266.6 343.9h.9v.9h-.9zM267.5 343.5h.9v.9h-.9zM267.1 340.7h.9v.9h-.9zM267.4 340.7h.9v.9h-.9zM267.0 341.3h.9v.9h-.9zM267.3 343.4h.9v.9h-.9zM267.4 343.6h.9v.9h-.9zM267.0 343.8h.9v.9h-.9zM268.0 342.5h.9v.9h-.9zM266.1 340.6h.9v.9h-.9zM267.4 340.7h.9v.9h-.9zM267.0 343.1h.9v.9h-.9zM267.6 340.7h.9v.9h-.9zM267.5 342.5h.9v.9h-.9zM266.3 341.0h.9v.9h-.9zM267.3 340.8h.9v.9h-.9zM267.3 340.2h.9v.9h-.9zM267.4 342.2h.9v.9h-.9zM266.7 341.6h.9v.9h-.9zM267.5 341.6h.9v.9h-.9z" fill="rgb(229, 80, 36)"/>
<rect x="252.3" y="297.1" width="40.30000000000001" height="32.19999999999999" fill="none" stroke="#2a2a2a" stroke-width="0.7"/>
<text x="272.45" y="298.40" font-size="4.4" text-anchor="middle" fill="#111" style="" >Ki67+ LSC</text>
<text x="272.45" y="304.50" font-size="4.8" text-anchor="middle" fill="#111" style="" >10.6</text>
<text x="219.60" y="263.50" font-size="13.8" text-anchor="start" fill="#231f20" style="font-weight:bold;" >Day 0</text>
<line x1="217.70" y1="279.90" x2="219.70" y2="279.90" stroke="#555" stroke-width="0.6" />
<text x="216.1" y="281.4" font-size="3.8" text-anchor="end" fill="#333">10<tspan dy="-1.6" font-size="2.7">7</tspan></text>
<line x1="217.70" y1="300.80" x2="219.70" y2="300.80" stroke="#555" stroke-width="0.6" />
<text x="216.1" y="302.29999999999995" font-size="3.8" text-anchor="end" fill="#333">10<tspan dy="-1.6" font-size="2.7">6</tspan></text>
<line x1="217.70" y1="322.30" x2="219.70" y2="322.30" stroke="#555" stroke-width="0.6" />
<text x="216.1" y="323.79999999999995" font-size="3.8" text-anchor="end" fill="#333">10<tspan dy="-1.6" font-size="2.7">5</tspan></text>
<line x1="217.70" y1="344.00" x2="219.70" y2="344.00" stroke="#555" stroke-width="0.6" />
<text x="216.1" y="345.5" font-size="3.8" text-anchor="end" fill="#333">10<tspan dy="-1.6" font-size="2.7">4</tspan></text>
<line x1="217.70" y1="363.40" x2="219.70" y2="363.40" stroke="#555" stroke-width="0.6" />
<text x="216.1" y="364.9" font-size="3.8" text-anchor="end" fill="#333">10<tspan dy="-1.6" font-size="2.7">3</tspan></text>
<line x1="224.30" y1="365.50" x2="224.30" y2="367.50" stroke="#555" stroke-width="0.6" />
<text x="224.29999999999998" y="373.1" font-size="3.8" text-anchor="middle" fill="#333">10<tspan dy="-1.6" font-size="2.7">2</tspan></text>
<line x1="245.20" y1="365.50" x2="245.20" y2="367.50" stroke="#555" stroke-width="0.6" />
<text x="245.2" y="373.1" font-size="3.8" text-anchor="middle" fill="#333">10<tspan dy="-1.6" font-size="2.7">3</tspan></text>
<line x1="270.70" y1="365.50" x2="270.70" y2="367.50" stroke="#555" stroke-width="0.6" />
<text x="270.7" y="373.1" font-size="3.8" text-anchor="middle" fill="#333">10<tspan dy="-1.6" font-size="2.7">4</tspan></text>
<line x1="294.90" y1="365.50" x2="294.90" y2="367.50" stroke="#555" stroke-width="0.6" />
<text x="294.9" y="373.1" font-size="3.8" text-anchor="middle" fill="#333">10<tspan dy="-1.6" font-size="2.7">5</tspan></text>
<line x1="315.20" y1="365.50" x2="315.20" y2="367.50" stroke="#555" stroke-width="0.6" />
<text x="315.2" y="373.1" font-size="3.8" text-anchor="middle" fill="#333">10<tspan dy="-1.6" font-size="2.7">6</tspan></text>
<line x1="230.59" y1="365.50" x2="230.59" y2="366.70" stroke="#888" stroke-width="0.4" />
<line x1="234.27" y1="365.50" x2="234.27" y2="366.70" stroke="#888" stroke-width="0.4" />
<line x1="236.88" y1="365.50" x2="236.88" y2="366.70" stroke="#888" stroke-width="0.4" />
<line x1="238.91" y1="365.50" x2="238.91" y2="366.70" stroke="#888" stroke-width="0.4" />
<line x1="240.56" y1="365.50" x2="240.56" y2="366.70" stroke="#888" stroke-width="0.4" />
<line x1="241.96" y1="365.50" x2="241.96" y2="366.70" stroke="#888" stroke-width="0.4" />
<line x1="243.17" y1="365.50" x2="243.17" y2="366.70" stroke="#888" stroke-width="0.4" />
<line x1="244.24" y1="365.50" x2="244.24" y2="366.70" stroke="#888" stroke-width="0.4" />
<line x1="252.88" y1="365.50" x2="252.88" y2="366.70" stroke="#888" stroke-width="0.4" />
<line x1="257.37" y1="365.50" x2="257.37" y2="366.70" stroke="#888" stroke-width="0.4" />
<line x1="260.55" y1="365.50" x2="260.55" y2="366.70" stroke="#888" stroke-width="0.4" />
<line x1="263.02" y1="365.50" x2="263.02" y2="366.70" stroke="#888" stroke-width="0.4" />
<line x1="265.04" y1="365.50" x2="265.04" y2="366.70" stroke="#888" stroke-width="0.4" />
<line x1="266.75" y1="365.50" x2="266.75" y2="366.70" stroke="#888" stroke-width="0.4" />
<line x1="268.23" y1="365.50" x2="268.23" y2="366.70" stroke="#888" stroke-width="0.4" />
<line x1="269.53" y1="365.50" x2="269.53" y2="366.70" stroke="#888" stroke-width="0.4" />
<line x1="277.98" y1="365.50" x2="277.98" y2="366.70" stroke="#888" stroke-width="0.4" />
<line x1="282.25" y1="365.50" x2="282.25" y2="366.70" stroke="#888" stroke-width="0.4" />
<line x1="285.27" y1="365.50" x2="285.27" y2="366.70" stroke="#888" stroke-width="0.4" />
<line x1="287.62" y1="365.50" x2="287.62" y2="366.70" stroke="#888" stroke-width="0.4" />
<line x1="289.53" y1="365.50" x2="289.53" y2="366.70" stroke="#888" stroke-width="0.4" />
<line x1="291.15" y1="365.50" x2="291.15" y2="366.70" stroke="#888" stroke-width="0.4" />
<line x1="292.55" y1="365.50" x2="292.55" y2="366.70" stroke="#888" stroke-width="0.4" />
<line x1="293.79" y1="365.50" x2="293.79" y2="366.70" stroke="#888" stroke-width="0.4" />
<line x1="301.01" y1="365.50" x2="301.01" y2="366.70" stroke="#888" stroke-width="0.4" />
<line x1="304.59" y1="365.50" x2="304.59" y2="366.70" stroke="#888" stroke-width="0.4" />
<line x1="307.12" y1="365.50" x2="307.12" y2="366.70" stroke="#888" stroke-width="0.4" />
<line x1="309.09" y1="365.50" x2="309.09" y2="366.70" stroke="#888" stroke-width="0.4" />
<line x1="310.70" y1="365.50" x2="310.70" y2="366.70" stroke="#888" stroke-width="0.4" />
<line x1="312.06" y1="365.50" x2="312.06" y2="366.70" stroke="#888" stroke-width="0.4" />
<line x1="313.23" y1="365.50" x2="313.23" y2="366.70" stroke="#888" stroke-width="0.4" />
<line x1="314.27" y1="365.50" x2="314.27" y2="366.70" stroke="#888" stroke-width="0.4" />
<line x1="218.50" y1="357.56" x2="219.70" y2="357.56" stroke="#888" stroke-width="0.4" />
<line x1="218.50" y1="354.14" x2="219.70" y2="354.14" stroke="#888" stroke-width="0.4" />
<line x1="218.50" y1="351.72" x2="219.70" y2="351.72" stroke="#888" stroke-width="0.4" />
<line x1="218.50" y1="349.84" x2="219.70" y2="349.84" stroke="#888" stroke-width="0.4" />
<line x1="218.50" y1="348.30" x2="219.70" y2="348.30" stroke="#888" stroke-width="0.4" />
<line x1="218.50" y1="347.01" x2="219.70" y2="347.01" stroke="#888" stroke-width="0.4" />
<line x1="218.50" y1="345.88" x2="219.70" y2="345.88" stroke="#888" stroke-width="0.4" />
<line x1="218.50" y1="344.89" x2="219.70" y2="344.89" stroke="#888" stroke-width="0.4" />
<line x1="218.50" y1="337.47" x2="219.70" y2="337.47" stroke="#888" stroke-width="0.4" />
<line x1="218.50" y1="333.65" x2="219.70" y2="333.65" stroke="#888" stroke-width="0.4" />
<line x1="218.50" y1="330.94" x2="219.70" y2="330.94" stroke="#888" stroke-width="0.4" />
<line x1="218.50" y1="328.83" x2="219.70" y2="328.83" stroke="#888" stroke-width="0.4" />
<line x1="218.50" y1="327.11" x2="219.70" y2="327.11" stroke="#888" stroke-width="0.4" />
<line x1="218.50" y1="325.66" x2="219.70" y2="325.66" stroke="#888" stroke-width="0.4" />
<line x1="218.50" y1="324.40" x2="219.70" y2="324.40" stroke="#888" stroke-width="0.4" />
<line x1="218.50" y1="323.29" x2="219.70" y2="323.29" stroke="#888" stroke-width="0.4" />
<line x1="218.50" y1="315.83" x2="219.70" y2="315.83" stroke="#888" stroke-width="0.4" />
<line x1="218.50" y1="312.04" x2="219.70" y2="312.04" stroke="#888" stroke-width="0.4" />
<line x1="218.50" y1="309.36" x2="219.70" y2="309.36" stroke="#888" stroke-width="0.4" />
<line x1="218.50" y1="307.27" x2="219.70" y2="307.27" stroke="#888" stroke-width="0.4" />
<line x1="218.50" y1="305.57" x2="219.70" y2="305.57" stroke="#888" stroke-width="0.4" />
<line x1="218.50" y1="304.13" x2="219.70" y2="304.13" stroke="#888" stroke-width="0.4" />
<line x1="218.50" y1="302.88" x2="219.70" y2="302.88" stroke="#888" stroke-width="0.4" />
<line x1="218.50" y1="301.78" x2="219.70" y2="301.78" stroke="#888" stroke-width="0.4" />
<line x1="218.50" y1="294.51" x2="219.70" y2="294.51" stroke="#888" stroke-width="0.4" />
<line x1="218.50" y1="290.83" x2="219.70" y2="290.83" stroke="#888" stroke-width="0.4" />
<line x1="218.50" y1="288.22" x2="219.70" y2="288.22" stroke="#888" stroke-width="0.4" />
<line x1="218.50" y1="286.19" x2="219.70" y2="286.19" stroke="#888" stroke-width="0.4" />
<line x1="218.50" y1="284.54" x2="219.70" y2="284.54" stroke="#888" stroke-width="0.4" />
<line x1="218.50" y1="283.14" x2="219.70" y2="283.14" stroke="#888" stroke-width="0.4" />
<line x1="218.50" y1="281.93" x2="219.70" y2="281.93" stroke="#888" stroke-width="0.4" />
<line x1="218.50" y1="280.86" x2="219.70" y2="280.86" stroke="#888" stroke-width="0.4" />
<text x="267" y="382.4" font-size="4.3" text-anchor="middle" fill="#333">Comp-FL6-A :: hCD45-APC</text>
<text transform="translate(200.8,316.5) rotate(-90)" font-size="4.3" text-anchor="middle" fill="#333">Comp-FL5-A :: Ki67-PC7</text>
<rect x="344.10" y="268.50" width="99.40" height="97.40" fill="#fff" stroke="#7a7a7a" stroke-width="0.75"/>
<path d="M383.9 347.5h.9v.9h-.9zM396.0 325.7h.9v.9h-.9zM381.9 330.6h.9v.9h-.9zM379.9 330.7h.9v.9h-.9zM394.1 348.7h.9v.9h-.9zM375.4 335.7h.9v.9h-.9zM401.7 338.0h.9v.9h-.9zM385.1 348.4h.9v.9h-.9zM390.9 350.9h.9v.9h-.9zM400.6 345.5h.9v.9h-.9zM387.7 349.0h.9v.9h-.9zM399.1 327.7h.9v.9h-.9zM399.4 330.0h.9v.9h-.9zM381.2 330.4h.9v.9h-.9zM390.3 349.6h.9v.9h-.9zM379.4 343.3h.9v.9h-.9zM380.7 343.8h.9v.9h-.9zM385.9 349.0h.9v.9h-.9zM408.9 328.7h.9v.9h-.9zM400.6 340.4h.9v.9h-.9zM376.2 339.8h.9v.9h-.9zM394.4 348.4h.9v.9h-.9zM389.8 349.6h.9v.9h-.9zM378.1 337.3h.9v.9h-.9zM381.2 331.4h.9v.9h-.9zM381.9 329.0h.9v.9h-.9zM380.6 335.4h.9v.9h-.9zM383.9 346.6h.9v.9h-.9zM379.3 340.9h.9v.9h-.9zM399.1 331.2h.9v.9h-.9zM400.9 335.7h.9v.9h-.9zM390.5 351.6h.9v.9h-.9zM392.7 349.4h.9v.9h-.9zM378.8 345.8h.9v.9h-.9zM379.6 340.3h.9v.9h-.9zM384.5 347.7h.9v.9h-.9zM381.4 346.5h.9v.9h-.9zM382.0 348.4h.9v.9h-.9zM376.9 336.8h.9v.9h-.9zM397.5 345.8h.9v.9h-.9zM399.1 329.8h.9v.9h-.9zM388.5 349.4h.9v.9h-.9zM379.3 337.4h.9v.9h-.9zM379.3 341.4h.9v.9h-.9zM378.1 339.2h.9v.9h-.9zM381.3 331.2h.9v.9h-.9zM388.8 348.5h.9v.9h-.9zM380.7 335.0h.9v.9h-.9zM378.5 332.9h.9v.9h-.9zM390.2 349.0h.9v.9h-.9zM385.1 348.2h.9v.9h-.9zM392.3 348.9h.9v.9h-.9zM380.2 347.6h.9v.9h-.9zM386.2 350.4h.9v.9h-.9zM400.0 337.7h.9v.9h-.9zM401.4 333.3h.9v.9h-.9zM401.9 341.3h.9v.9h-.9zM394.3 347.9h.9v.9h-.9zM384.7 347.9h.9v.9h-.9zM380.6 334.8h.9v.9h-.9zM379.5 339.8h.9v.9h-.9zM399.0 329.0h.9v.9h-.9zM388.7 348.7h.9v.9h-.9zM400.6 341.1h.9v.9h-.9zM377.4 340.8h.9v.9h-.9zM403.0 337.1h.9v.9h-.9zM400.3 334.7h.9v.9h-.9zM383.8 348.3h.9v.9h-.9zM396.5 327.0h.9v.9h-.9zM395.4 350.2h.9v.9h-.9zM385.6 323.9h.9v.9h-.9zM382.7 326.9h.9v.9h-.9zM401.8 324.5h.9v.9h-.9zM381.0 331.0h.9v.9h-.9zM382.9 326.6h.9v.9h-.9zM382.9 325.2h.9v.9h-.9zM393.0 350.6h.9v.9h-.9zM397.4 347.2h.9v.9h-.9zM398.3 347.8h.9v.9h-.9zM379.7 339.5h.9v.9h-.9zM400.0 331.7h.9v.9h-.9zM400.1 338.3h.9v.9h-.9zM380.8 328.8h.9v.9h-.9zM399.9 331.3h.9v.9h-.9zM389.7 351.8h.9v.9h-.9zM399.1 342.6h.9v.9h-.9zM394.6 319.8h.9v.9h-.9zM401.2 337.7h.9v.9h-.9zM397.6 345.9h.9v.9h-.9zM384.0 325.9h.9v.9h-.9zM387.5 351.5h.9v.9h-.9zM395.4 321.1h.9v.9h-.9zM385.4 322.0h.9v.9h-.9zM397.0 321.7h.9v.9h-.9zM396.7 320.2h.9v.9h-.9zM394.3 318.5h.9v.9h-.9zM397.5 316.3h.9v.9h-.9zM395.0 312.5h.9v.9h-.9zM397.3 322.8h.9v.9h-.9zM394.7 309.5h.9v.9h-.9zM383.3 321.5h.9v.9h-.9zM385.3 320.3h.9v.9h-.9zM385.8 317.9h.9v.9h-.9zM399.2 323.9h.9v.9h-.9zM398.3 307.5h.9v.9h-.9zM379.7 319.4h.9v.9h-.9zM399.4 318.1h.9v.9h-.9zM395.6 309.1h.9v.9h-.9zM393.0 318.5h.9v.9h-.9zM398.6 313.0h.9v.9h-.9zM385.2 304.4h.9v.9h-.9zM385.3 306.1h.9v.9h-.9zM400.7 307.5h.9v.9h-.9zM396.8 312.9h.9v.9h-.9zM398.4 316.4h.9v.9h-.9zM397.9 312.7h.9v.9h-.9zM385.1 308.0h.9v.9h-.9zM395.7 309.1h.9v.9h-.9zM380.0 300.1h.9v.9h-.9zM379.5 300.5h.9v.9h-.9zM397.4 324.3h.9v.9h-.9zM385.8 322.1h.9v.9h-.9zM393.6 299.4h.9v.9h-.9zM400.8 319.0h.9v.9h-.9zM398.0 328.0h.9v.9h-.9zM391.8 299.8h.9v.9h-.9zM399.9 321.9h.9v.9h-.9zM395.1 315.3h.9v.9h-.9zM385.3 319.0h.9v.9h-.9zM394.5 302.2h.9v.9h-.9zM385.8 319.1h.9v.9h-.9zM395.0 305.0h.9v.9h-.9zM384.1 311.5h.9v.9h-.9zM393.1 318.9h.9v.9h-.9zM384.7 313.8h.9v.9h-.9zM385.8 301.7h.9v.9h-.9zM399.2 315.5h.9v.9h-.9zM385.5 316.8h.9v.9h-.9zM386.2 304.1h.9v.9h-.9zM394.8 302.2h.9v.9h-.9zM391.0 299.8h.9v.9h-.9zM396.9 322.0h.9v.9h-.9zM402.0 330.0h.9v.9h-.9zM385.9 306.7h.9v.9h-.9zM383.6 315.6h.9v.9h-.9zM399.0 314.2h.9v.9h-.9zM382.0 309.2h.9v.9h-.9zM395.1 311.3h.9v.9h-.9zM384.4 314.2h.9v.9h-.9zM393.6 300.6h.9v.9h-.9zM395.6 318.8h.9v.9h-.9zM385.4 313.2h.9v.9h-.9zM400.8 320.9h.9v.9h-.9zM384.1 311.1h.9v.9h-.9zM398.5 299.5h.9v.9h-.9zM386.2 302.7h.9v.9h-.9zM384.5 324.6h.9v.9h-.9zM403.2 313.4h.9v.9h-.9zM395.3 301.4h.9v.9h-.9zM384.6 305.7h.9v.9h-.9zM382.0 313.2h.9v.9h-.9zM383.9 322.9h.9v.9h-.9zM384.2 321.7h.9v.9h-.9zM387.0 299.3h.9v.9h-.9zM396.8 324.6h.9v.9h-.9zM395.1 322.0h.9v.9h-.9zM394.4 307.6h.9v.9h-.9zM396.6 301.4h.9v.9h-.9zM384.4 314.0h.9v.9h-.9zM385.1 303.2h.9v.9h-.9zM395.0 315.2h.9v.9h-.9zM396.0 322.6h.9v.9h-.9zM394.5 315.5h.9v.9h-.9zM386.8 300.5h.9v.9h-.9zM384.2 310.8h.9v.9h-.9zM387.7 300.7h.9v.9h-.9zM389.7 300.0h.9v.9h-.9zM399.9 321.4h.9v.9h-.9zM385.3 319.0h.9v.9h-.9zM395.6 315.4h.9v.9h-.9zM385.8 315.7h.9v.9h-.9zM398.8 319.9h.9v.9h-.9zM385.1 310.1h.9v.9h-.9zM396.3 301.2h.9v.9h-.9zM397.3 318.2h.9v.9h-.9zM387.1 301.5h.9v.9h-.9zM393.3 318.4h.9v.9h-.9zM393.8 318.8h.9v.9h-.9zM385.7 309.3h.9v.9h-.9zM383.7 317.4h.9v.9h-.9zM387.9 299.1h.9v.9h-.9zM396.5 323.6h.9v.9h-.9zM395.0 310.8h.9v.9h-.9zM382.6 320.6h.9v.9h-.9zM383.3 316.1h.9v.9h-.9zM398.9 321.9h.9v.9h-.9zM383.3 326.1h.9v.9h-.9zM384.8 302.2h.9v.9h-.9zM396.2 304.4h.9v.9h-.9zM394.1 300.4h.9v.9h-.9zM386.8 299.6h.9v.9h-.9zM396.1 322.0h.9v.9h-.9zM397.6 303.1h.9v.9h-.9zM386.5 300.7h.9v.9h-.9zM382.6 324.6h.9v.9h-.9zM397.5 327.1h.9v.9h-.9zM398.0 327.9h.9v.9h-.9zM382.2 309.9h.9v.9h-.9zM398.6 324.4h.9v.9h-.9zM395.7 306.5h.9v.9h-.9zM385.8 323.8h.9v.9h-.9zM385.5 308.3h.9v.9h-.9zM382.3 299.0h.9v.9h-.9zM401.4 300.6h.9v.9h-.9zM394.3 304.8h.9v.9h-.9zM385.2 313.7h.9v.9h-.9zM395.1 316.0h.9v.9h-.9zM394.5 305.4h.9v.9h-.9zM400.8 329.9h.9v.9h-.9zM385.7 319.5h.9v.9h-.9zM398.5 327.4h.9v.9h-.9zM398.0 314.1h.9v.9h-.9zM382.9 311.6h.9v.9h-.9zM397.3 321.9h.9v.9h-.9zM394.8 308.3h.9v.9h-.9zM392.9 300.2h.9v.9h-.9zM395.9 302.0h.9v.9h-.9zM382.3 302.7h.9v.9h-.9zM397.8 308.7h.9v.9h-.9zM385.3 309.3h.9v.9h-.9zM401.1 335.9h.9v.9h-.9zM401.1 316.4h.9v.9h-.9zM386.4 304.2h.9v.9h-.9zM397.8 317.8h.9v.9h-.9zM398.4 312.7h.9v.9h-.9zM395.5 322.9h.9v.9h-.9zM385.8 319.7h.9v.9h-.9zM380.7 323.8h.9v.9h-.9zM394.4 317.0h.9v.9h-.9zM382.8 310.2h.9v.9h-.9zM385.1 319.0h.9v.9h-.9zM395.8 312.7h.9v.9h-.9zM397.3 319.6h.9v.9h-.9zM376.7 340.8h.9v.9h-.9zM385.2 350.5h.9v.9h-.9zM397.1 325.0h.9v.9h-.9zM373.7 344.3h.9v.9h-.9zM379.0 348.8h.9v.9h-.9zM402.0 337.5h.9v.9h-.9zM384.5 350.3h.9v.9h-.9zM382.5 352.2h.9v.9h-.9zM383.9 320.2h.9v.9h-.9zM402.7 340.3h.9v.9h-.9zM380.4 343.9h.9v.9h-.9zM376.8 325.1h.9v.9h-.9zM398.4 347.4h.9v.9h-.9zM385.6 356.6h.9v.9h-.9zM394.6 352.1h.9v.9h-.9zM398.3 320.9h.9v.9h-.9zM378.9 336.1h.9v.9h-.9zM384.0 347.0h.9v.9h-.9zM401.8 350.4h.9v.9h-.9zM397.3 364.0h.9v.9h-.9zM382.9 327.6h.9v.9h-.9zM381.1 310.7h.9v.9h-.9zM395.0 350.8h.9v.9h-.9zM379.3 336.6h.9v.9h-.9zM375.3 343.2h.9v.9h-.9zM375.9 330.1h.9v.9h-.9zM395.4 315.1h.9v.9h-.9zM371.9 343.5h.9v.9h-.9zM388.7 351.6h.9v.9h-.9zM393.6 348.5h.9v.9h-.9zM376.8 346.4h.9v.9h-.9zM392.5 351.3h.9v.9h-.9z" fill="rgb(58, 94, 202)"/>
<path d="M389.5 347.4h.9v.9h-.9zM397.8 329.7h.9v.9h-.9zM381.6 334.6h.9v.9h-.9zM389.6 347.2h.9v.9h-.9zM389.1 347.4h.9v.9h-.9zM381.6 337.8h.9v.9h-.9zM384.6 328.2h.9v.9h-.9zM399.2 339.2h.9v.9h-.9zM382.0 337.7h.9v.9h-.9zM381.1 343.1h.9v.9h-.9zM382.3 343.6h.9v.9h-.9zM387.8 347.7h.9v.9h-.9zM398.9 342.7h.9v.9h-.9zM384.6 328.0h.9v.9h-.9zM399.1 335.5h.9v.9h-.9zM388.7 347.8h.9v.9h-.9zM387.6 346.2h.9v.9h-.9zM399.4 339.2h.9v.9h-.9zM398.8 333.6h.9v.9h-.9zM397.7 344.2h.9v.9h-.9zM397.9 332.8h.9v.9h-.9zM385.6 325.2h.9v.9h-.9zM382.1 332.1h.9v.9h-.9zM383.4 327.9h.9v.9h-.9zM383.5 329.3h.9v.9h-.9zM384.4 344.6h.9v.9h-.9zM381.8 337.0h.9v.9h-.9zM381.4 338.3h.9v.9h-.9zM397.0 332.9h.9v.9h-.9zM398.3 342.7h.9v.9h-.9zM397.0 332.4h.9v.9h-.9zM397.2 344.0h.9v.9h-.9zM382.0 343.2h.9v.9h-.9zM382.5 332.2h.9v.9h-.9zM383.4 345.4h.9v.9h-.9zM399.4 336.5h.9v.9h-.9zM399.5 335.0h.9v.9h-.9zM381.0 332.5h.9v.9h-.9zM381.7 340.7h.9v.9h-.9zM394.9 346.5h.9v.9h-.9zM383.2 344.1h.9v.9h-.9zM393.9 347.0h.9v.9h-.9zM383.3 329.4h.9v.9h-.9zM396.4 345.6h.9v.9h-.9zM396.1 328.3h.9v.9h-.9zM384.5 345.6h.9v.9h-.9zM382.8 331.5h.9v.9h-.9zM397.6 343.5h.9v.9h-.9zM398.2 341.0h.9v.9h-.9zM396.3 329.1h.9v.9h-.9zM385.7 347.5h.9v.9h-.9zM399.2 338.2h.9v.9h-.9zM382.8 345.5h.9v.9h-.9zM394.7 345.2h.9v.9h-.9zM383.4 344.5h.9v.9h-.9zM381.8 343.2h.9v.9h-.9zM382.0 342.4h.9v.9h-.9zM382.0 343.8h.9v.9h-.9zM384.8 344.6h.9v.9h-.9zM389.6 347.7h.9v.9h-.9zM380.0 340.2h.9v.9h-.9zM380.0 341.7h.9v.9h-.9zM396.9 344.6h.9v.9h-.9zM384.2 346.3h.9v.9h-.9zM384.4 326.8h.9v.9h-.9zM393.7 325.9h.9v.9h-.9zM394.5 345.8h.9v.9h-.9zM398.5 342.0h.9v.9h-.9zM383.2 327.4h.9v.9h-.9zM397.3 332.2h.9v.9h-.9zM387.6 346.6h.9v.9h-.9zM393.1 346.1h.9v.9h-.9zM396.6 329.1h.9v.9h-.9zM380.5 340.6h.9v.9h-.9zM398.5 329.3h.9v.9h-.9zM389.6 303.2h.9v.9h-.9zM387.3 318.5h.9v.9h-.9zM389.6 306.3h.9v.9h-.9zM389.7 301.3h.9v.9h-.9zM393.9 326.9h.9v.9h-.9zM386.0 325.9h.9v.9h-.9zM392.8 306.3h.9v.9h-.9zM397.6 329.4h.9v.9h-.9zM393.9 305.1h.9v.9h-.9zM386.6 307.9h.9v.9h-.9zM395.9 326.1h.9v.9h-.9zM390.7 313.7h.9v.9h-.9zM389.9 319.8h.9v.9h-.9zM386.3 318.4h.9v.9h-.9zM382.0 333.5h.9v.9h-.9zM388.5 300.8h.9v.9h-.9zM392.2 305.1h.9v.9h-.9zM389.4 300.9h.9v.9h-.9zM397.4 328.8h.9v.9h-.9zM392.6 316.5h.9v.9h-.9zM386.4 315.4h.9v.9h-.9zM393.5 325.4h.9v.9h-.9zM390.8 300.6h.9v.9h-.9zM389.2 320.8h.9v.9h-.9zM388.7 320.6h.9v.9h-.9zM396.2 328.6h.9v.9h-.9zM391.7 306.9h.9v.9h-.9zM390.0 317.7h.9v.9h-.9zM388.4 300.8h.9v.9h-.9zM393.9 313.2h.9v.9h-.9zM389.2 317.3h.9v.9h-.9zM387.8 310.4h.9v.9h-.9zM390.5 320.6h.9v.9h-.9zM391.5 303.2h.9v.9h-.9zM388.9 318.6h.9v.9h-.9zM384.1 326.3h.9v.9h-.9zM392.9 320.1h.9v.9h-.9zM387.3 319.1h.9v.9h-.9zM387.5 305.5h.9v.9h-.9zM390.8 316.1h.9v.9h-.9zM391.7 301.7h.9v.9h-.9zM390.3 300.6h.9v.9h-.9zM392.3 322.5h.9v.9h-.9zM390.6 302.5h.9v.9h-.9zM389.1 301.2h.9v.9h-.9zM394.6 326.3h.9v.9h-.9zM388.0 316.7h.9v.9h-.9zM388.9 314.5h.9v.9h-.9zM394.0 313.0h.9v.9h-.9zM386.6 324.8h.9v.9h-.9zM389.0 319.8h.9v.9h-.9zM393.9 313.3h.9v.9h-.9zM393.7 321.9h.9v.9h-.9zM386.1 320.4h.9v.9h-.9zM394.7 324.3h.9v.9h-.9zM386.3 320.8h.9v.9h-.9zM387.5 313.5h.9v.9h-.9zM394.1 314.0h.9v.9h-.9zM387.5 323.7h.9v.9h-.9zM389.8 306.1h.9v.9h-.9zM393.8 323.2h.9v.9h-.9zM391.6 302.4h.9v.9h-.9zM390.0 320.4h.9v.9h-.9zM388.3 305.0h.9v.9h-.9zM388.3 306.6h.9v.9h-.9zM390.1 316.2h.9v.9h-.9zM392.4 323.3h.9v.9h-.9zM392.7 321.1h.9v.9h-.9zM386.0 306.4h.9v.9h-.9zM389.6 321.2h.9v.9h-.9zM391.2 320.9h.9v.9h-.9zM393.7 325.7h.9v.9h-.9zM386.4 322.2h.9v.9h-.9zM390.6 320.7h.9v.9h-.9zM393.8 308.8h.9v.9h-.9zM392.9 307.4h.9v.9h-.9zM390.8 316.0h.9v.9h-.9zM391.2 304.5h.9v.9h-.9zM387.0 311.4h.9v.9h-.9zM394.2 311.8h.9v.9h-.9zM382.9 330.2h.9v.9h-.9zM394.1 311.1h.9v.9h-.9zM390.9 319.6h.9v.9h-.9zM391.1 305.8h.9v.9h-.9zM391.1 317.2h.9v.9h-.9zM388.6 312.7h.9v.9h-.9zM391.2 314.3h.9v.9h-.9zM392.7 305.3h.9v.9h-.9zM387.8 314.1h.9v.9h-.9zM388.3 320.1h.9v.9h-.9zM388.2 306.5h.9v.9h-.9zM387.5 304.3h.9v.9h-.9zM392.2 306.2h.9v.9h-.9zM390.2 303.0h.9v.9h-.9zM391.7 305.9h.9v.9h-.9zM387.4 316.4h.9v.9h-.9zM393.4 315.3h.9v.9h-.9zM389.1 315.8h.9v.9h-.9zM387.2 316.4h.9v.9h-.9zM393.7 311.4h.9v.9h-.9zM388.5 302.0h.9v.9h-.9zM392.1 303.9h.9v.9h-.9zM387.6 307.0h.9v.9h-.9zM391.6 320.7h.9v.9h-.9zM389.8 301.5h.9v.9h-.9zM388.5 316.4h.9v.9h-.9zM387.9 317.9h.9v.9h-.9zM393.0 303.3h.9v.9h-.9zM392.9 304.8h.9v.9h-.9zM382.4 328.6h.9v.9h-.9zM387.2 324.4h.9v.9h-.9zM392.8 315.0h.9v.9h-.9zM387.0 322.2h.9v.9h-.9zM391.4 320.3h.9v.9h-.9zM390.2 314.4h.9v.9h-.9zM392.5 314.8h.9v.9h-.9zM392.9 305.3h.9v.9h-.9zM387.2 311.7h.9v.9h-.9zM391.2 302.3h.9v.9h-.9zM387.5 316.8h.9v.9h-.9zM391.5 315.6h.9v.9h-.9zM385.9 326.0h.9v.9h-.9zM391.3 321.8h.9v.9h-.9zM390.6 318.9h.9v.9h-.9zM384.5 327.4h.9v.9h-.9zM391.9 303.2h.9v.9h-.9zM389.5 303.4h.9v.9h-.9zM387.5 324.9h.9v.9h-.9zM390.5 302.3h.9v.9h-.9zM391.7 314.6h.9v.9h-.9zM387.4 306.6h.9v.9h-.9zM394.7 311.2h.9v.9h-.9zM389.8 313.8h.9v.9h-.9zM386.9 306.2h.9v.9h-.9zM388.7 315.7h.9v.9h-.9zM389.5 321.2h.9v.9h-.9zM393.7 322.5h.9v.9h-.9zM388.1 314.4h.9v.9h-.9zM394.1 320.1h.9v.9h-.9zM390.2 302.6h.9v.9h-.9zM390.6 316.9h.9v.9h-.9zM388.1 313.4h.9v.9h-.9zM389.2 317.6h.9v.9h-.9zM388.7 322.3h.9v.9h-.9zM391.3 321.3h.9v.9h-.9zM392.5 308.1h.9v.9h-.9zM387.5 306.3h.9v.9h-.9zM386.8 306.4h.9v.9h-.9zM387.8 319.8h.9v.9h-.9zM395.7 320.2h.9v.9h-.9zM393.3 322.2h.9v.9h-.9zM387.3 302.8h.9v.9h-.9zM394.2 324.2h.9v.9h-.9zM392.9 305.1h.9v.9h-.9zM387.0 317.5h.9v.9h-.9zM391.5 304.6h.9v.9h-.9zM388.8 314.2h.9v.9h-.9zM386.9 312.4h.9v.9h-.9zM391.4 314.2h.9v.9h-.9zM392.1 317.1h.9v.9h-.9zM388.6 318.1h.9v.9h-.9zM387.9 312.2h.9v.9h-.9zM390.5 317.6h.9v.9h-.9zM388.8 313.5h.9v.9h-.9zM387.6 316.6h.9v.9h-.9zM389.7 305.1h.9v.9h-.9zM389.9 321.3h.9v.9h-.9zM394.0 310.6h.9v.9h-.9zM391.5 321.4h.9v.9h-.9zM394.5 311.6h.9v.9h-.9zM391.9 314.8h.9v.9h-.9zM389.0 318.8h.9v.9h-.9zM393.9 306.9h.9v.9h-.9zM391.5 304.9h.9v.9h-.9zM393.2 313.8h.9v.9h-.9zM390.2 314.3h.9v.9h-.9zM390.0 318.8h.9v.9h-.9zM390.6 316.9h.9v.9h-.9zM386.5 310.1h.9v.9h-.9zM391.1 307.9h.9v.9h-.9zM392.2 315.6h.9v.9h-.9zM391.6 318.0h.9v.9h-.9zM388.6 321.1h.9v.9h-.9zM391.1 319.3h.9v.9h-.9zM392.2 302.0h.9v.9h-.9zM394.4 326.5h.9v.9h-.9zM385.0 325.7h.9v.9h-.9zM392.1 316.1h.9v.9h-.9zM393.3 321.4h.9v.9h-.9zM394.1 312.4h.9v.9h-.9zM387.5 309.8h.9v.9h-.9zM390.1 301.6h.9v.9h-.9zM389.1 302.3h.9v.9h-.9zM391.9 319.1h.9v.9h-.9zM392.3 324.0h.9v.9h-.9zM388.6 300.5h.9v.9h-.9zM392.8 320.7h.9v.9h-.9zM387.4 323.0h.9v.9h-.9zM392.4 322.4h.9v.9h-.9zM389.3 305.6h.9v.9h-.9zM388.5 305.2h.9v.9h-.9zM397.9 330.7h.9v.9h-.9zM390.8 321.5h.9v.9h-.9zM391.4 305.0h.9v.9h-.9zM388.6 318.3h.9v.9h-.9zM393.5 319.8h.9v.9h-.9zM392.2 323.6h.9v.9h-.9zM390.0 315.6h.9v.9h-.9zM390.7 313.1h.9v.9h-.9zM393.7 307.7h.9v.9h-.9zM394.0 315.9h.9v.9h-.9zM387.1 315.2h.9v.9h-.9zM394.1 322.1h.9v.9h-.9zM392.8 302.7h.9v.9h-.9zM389.0 304.2h.9v.9h-.9zM387.6 302.4h.9v.9h-.9zM390.7 320.4h.9v.9h-.9zM387.6 311.0h.9v.9h-.9zM394.0 311.7h.9v.9h-.9zM393.5 307.6h.9v.9h-.9zM390.2 317.2h.9v.9h-.9zM392.7 304.2h.9v.9h-.9zM391.8 302.3h.9v.9h-.9zM398.2 333.3h.9v.9h-.9zM397.1 330.0h.9v.9h-.9zM386.3 346.4h.9v.9h-.9zM385.8 346.1h.9v.9h-.9zM398.6 331.0h.9v.9h-.9zM396.7 344.5h.9v.9h-.9zM398.4 343.3h.9v.9h-.9zM392.9 347.5h.9v.9h-.9zM397.3 344.6h.9v.9h-.9zM398.7 341.1h.9v.9h-.9zM394.1 323.0h.9v.9h-.9zM396.6 329.0h.9v.9h-.9zM381.0 335.4h.9v.9h-.9zM397.1 344.9h.9v.9h-.9zM385.1 346.2h.9v.9h-.9z" fill="rgb(55, 104, 207)"/>
<path d="M386.0 328.2h.9v.9h-.9zM397.3 333.7h.9v.9h-.9zM384.5 329.9h.9v.9h-.9zM382.3 341.3h.9v.9h-.9zM393.2 345.3h.9v.9h-.9zM397.1 342.6h.9v.9h-.9zM381.8 341.1h.9v.9h-.9zM382.7 341.2h.9v.9h-.9zM382.2 337.0h.9v.9h-.9zM387.0 327.9h.9v.9h-.9zM388.1 324.6h.9v.9h-.9zM398.7 338.7h.9v.9h-.9zM384.1 330.6h.9v.9h-.9zM383.0 336.2h.9v.9h-.9zM385.1 345.2h.9v.9h-.9zM395.0 328.4h.9v.9h-.9zM397.8 339.1h.9v.9h-.9zM383.7 343.4h.9v.9h-.9zM391.4 324.7h.9v.9h-.9zM382.9 339.2h.9v.9h-.9zM393.4 345.3h.9v.9h-.9zM397.4 341.9h.9v.9h-.9zM385.0 330.9h.9v.9h-.9zM396.6 343.9h.9v.9h-.9zM397.4 342.7h.9v.9h-.9zM382.2 337.5h.9v.9h-.9zM385.6 344.0h.9v.9h-.9zM386.4 327.3h.9v.9h-.9zM398.6 336.8h.9v.9h-.9zM382.7 341.1h.9v.9h-.9zM394.0 327.4h.9v.9h-.9zM396.2 332.6h.9v.9h-.9zM382.2 335.6h.9v.9h-.9zM398.5 339.0h.9v.9h-.9zM382.7 342.0h.9v.9h-.9zM382.6 340.9h.9v.9h-.9zM396.0 344.7h.9v.9h-.9zM393.7 346.0h.9v.9h-.9zM383.3 343.4h.9v.9h-.9zM397.7 335.7h.9v.9h-.9zM396.0 344.9h.9v.9h-.9zM386.9 345.8h.9v.9h-.9zM392.0 325.9h.9v.9h-.9zM398.9 338.9h.9v.9h-.9zM383.9 330.0h.9v.9h-.9zM390.2 322.4h.9v.9h-.9zM387.8 345.4h.9v.9h-.9zM382.4 339.3h.9v.9h-.9zM398.6 336.9h.9v.9h-.9zM383.0 336.0h.9v.9h-.9zM386.3 328.8h.9v.9h-.9zM391.7 346.6h.9v.9h-.9zM388.2 325.7h.9v.9h-.9zM383.6 343.7h.9v.9h-.9zM382.8 339.4h.9v.9h-.9zM382.3 340.8h.9v.9h-.9zM396.7 332.4h.9v.9h-.9zM382.3 341.0h.9v.9h-.9zM392.0 346.9h.9v.9h-.9zM396.6 331.9h.9v.9h-.9zM391.0 323.6h.9v.9h-.9zM387.4 327.8h.9v.9h-.9zM382.6 335.9h.9v.9h-.9zM388.9 324.5h.9v.9h-.9zM396.8 343.8h.9v.9h-.9zM385.8 328.9h.9v.9h-.9zM382.0 339.7h.9v.9h-.9zM398.4 338.3h.9v.9h-.9zM395.0 345.0h.9v.9h-.9zM396.9 330.3h.9v.9h-.9zM398.0 334.7h.9v.9h-.9zM397.5 335.2h.9v.9h-.9zM397.7 339.8h.9v.9h-.9zM387.7 327.6h.9v.9h-.9zM382.4 338.6h.9v.9h-.9zM397.5 335.4h.9v.9h-.9zM397.6 341.6h.9v.9h-.9zM391.5 346.6h.9v.9h-.9zM384.4 330.2h.9v.9h-.9zM397.3 339.6h.9v.9h-.9zM384.5 343.7h.9v.9h-.9zM394.6 344.9h.9v.9h-.9zM386.9 345.4h.9v.9h-.9zM391.4 346.2h.9v.9h-.9zM394.8 328.9h.9v.9h-.9zM383.1 342.6h.9v.9h-.9zM386.3 345.0h.9v.9h-.9zM388.3 346.2h.9v.9h-.9zM382.6 340.6h.9v.9h-.9zM396.8 331.9h.9v.9h-.9zM397.3 333.7h.9v.9h-.9zM390.7 346.3h.9v.9h-.9zM383.9 343.2h.9v.9h-.9zM382.8 338.9h.9v.9h-.9zM381.8 341.1h.9v.9h-.9zM388.3 324.0h.9v.9h-.9zM398.9 336.3h.9v.9h-.9zM397.6 342.8h.9v.9h-.9zM393.6 345.4h.9v.9h-.9zM392.6 312.5h.9v.9h-.9zM391.4 310.9h.9v.9h-.9zM389.5 308.7h.9v.9h-.9zM389.9 308.8h.9v.9h-.9zM386.6 326.8h.9v.9h-.9zM390.0 322.2h.9v.9h-.9zM386.5 327.1h.9v.9h-.9zM388.1 324.6h.9v.9h-.9zM392.8 326.8h.9v.9h-.9zM394.3 328.9h.9v.9h-.9zM389.4 318.4h.9v.9h-.9zM391.2 311.5h.9v.9h-.9zM390.0 309.8h.9v.9h-.9zM391.8 311.7h.9v.9h-.9zM389.6 309.9h.9v.9h-.9zM385.4 327.8h.9v.9h-.9zM391.2 309.3h.9v.9h-.9zM389.5 324.4h.9v.9h-.9zM391.7 311.6h.9v.9h-.9zM388.5 324.1h.9v.9h-.9zM388.9 308.1h.9v.9h-.9zM390.1 324.7h.9v.9h-.9zM389.1 318.4h.9v.9h-.9zM388.4 308.1h.9v.9h-.9zM396.7 332.8h.9v.9h-.9zM390.6 309.3h.9v.9h-.9zM390.4 311.7h.9v.9h-.9zM388.8 324.3h.9v.9h-.9zM388.4 308.4h.9v.9h-.9zM388.7 308.6h.9v.9h-.9zM390.2 309.0h.9v.9h-.9zM387.3 325.5h.9v.9h-.9zM390.0 309.1h.9v.9h-.9zM392.8 324.9h.9v.9h-.9zM392.9 313.0h.9v.9h-.9zM387.5 308.1h.9v.9h-.9zM388.1 309.8h.9v.9h-.9zM390.8 309.6h.9v.9h-.9zM386.5 325.1h.9v.9h-.9zM390.9 307.4h.9v.9h-.9zM390.2 307.4h.9v.9h-.9zM393.4 327.2h.9v.9h-.9zM388.6 310.2h.9v.9h-.9zM392.6 312.9h.9v.9h-.9zM388.1 324.1h.9v.9h-.9zM392.8 326.6h.9v.9h-.9zM389.8 311.5h.9v.9h-.9zM392.6 326.1h.9v.9h-.9zM382.7 336.4h.9v.9h-.9zM389.9 325.0h.9v.9h-.9zM390.6 325.7h.9v.9h-.9zM396.1 332.0h.9v.9h-.9zM387.5 308.9h.9v.9h-.9zM397.2 335.1h.9v.9h-.9zM390.4 312.5h.9v.9h-.9zM392.0 310.4h.9v.9h-.9zM392.7 326.8h.9v.9h-.9zM391.4 326.7h.9v.9h-.9zM388.0 310.5h.9v.9h-.9zM392.6 325.8h.9v.9h-.9zM388.4 307.5h.9v.9h-.9zM390.8 323.6h.9v.9h-.9zM388.1 310.5h.9v.9h-.9zM396.6 330.5h.9v.9h-.9zM391.9 324.5h.9v.9h-.9zM390.5 311.7h.9v.9h-.9zM391.8 309.3h.9v.9h-.9zM390.7 325.4h.9v.9h-.9zM391.9 310.8h.9v.9h-.9zM390.6 309.9h.9v.9h-.9zM389.0 308.2h.9v.9h-.9zM387.9 326.0h.9v.9h-.9zM388.5 324.9h.9v.9h-.9zM388.7 307.4h.9v.9h-.9zM388.7 307.1h.9v.9h-.9zM390.1 324.0h.9v.9h-.9zM391.5 326.3h.9v.9h-.9zM391.3 323.1h.9v.9h-.9zM390.3 308.2h.9v.9h-.9zM390.3 312.1h.9v.9h-.9zM390.8 323.6h.9v.9h-.9zM389.5 310.6h.9v.9h-.9zM391.5 310.7h.9v.9h-.9zM390.8 322.6h.9v.9h-.9zM390.1 324.1h.9v.9h-.9zM391.4 311.8h.9v.9h-.9zM390.2 307.2h.9v.9h-.9zM390.5 311.6h.9v.9h-.9zM396.1 332.4h.9v.9h-.9zM390.0 312.6h.9v.9h-.9zM387.5 308.5h.9v.9h-.9zM389.4 310.8h.9v.9h-.9zM392.1 310.5h.9v.9h-.9zM390.2 310.1h.9v.9h-.9zM386.5 325.0h.9v.9h-.9zM388.3 310.5h.9v.9h-.9zM385.8 328.3h.9v.9h-.9zM391.8 311.0h.9v.9h-.9zM389.1 309.7h.9v.9h-.9zM388.0 325.5h.9v.9h-.9zM391.3 326.0h.9v.9h-.9zM391.8 325.3h.9v.9h-.9zM396.0 329.9h.9v.9h-.9zM390.9 309.7h.9v.9h-.9zM384.5 330.0h.9v.9h-.9zM389.5 311.1h.9v.9h-.9zM390.3 308.4h.9v.9h-.9zM392.7 312.9h.9v.9h-.9zM388.4 310.5h.9v.9h-.9zM392.9 314.0h.9v.9h-.9zM390.2 312.7h.9v.9h-.9zM389.0 323.7h.9v.9h-.9zM390.1 309.6h.9v.9h-.9zM389.8 308.8h.9v.9h-.9zM390.2 324.3h.9v.9h-.9zM388.5 324.4h.9v.9h-.9zM384.0 342.3h.9v.9h-.9zM382.5 339.8h.9v.9h-.9zM382.0 342.6h.9v.9h-.9zM387.5 326.1h.9v.9h-.9zM391.2 323.6h.9v.9h-.9zM397.3 342.5h.9v.9h-.9z" fill="rgb(52, 113, 211)"/>
<path d="M388.1 345.5h.9v.9h-.9zM395.9 342.5h.9v.9h-.9zM394.4 343.9h.9v.9h-.9zM391.4 345.3h.9v.9h-.9zM389.7 345.2h.9v.9h-.9zM383.9 340.4h.9v.9h-.9zM387.5 328.6h.9v.9h-.9zM384.2 342.8h.9v.9h-.9zM390.7 346.0h.9v.9h-.9zM391.9 345.5h.9v.9h-.9zM396.3 342.3h.9v.9h-.9zM385.8 343.6h.9v.9h-.9zM386.6 344.4h.9v.9h-.9zM383.8 340.1h.9v.9h-.9zM395.4 342.9h.9v.9h-.9zM395.2 342.9h.9v.9h-.9zM394.2 329.4h.9v.9h-.9zM393.6 344.3h.9v.9h-.9zM385.3 343.6h.9v.9h-.9zM397.0 340.4h.9v.9h-.9zM389.5 345.6h.9v.9h-.9zM397.5 336.7h.9v.9h-.9zM396.8 333.3h.9v.9h-.9zM396.4 342.0h.9v.9h-.9zM383.5 332.1h.9v.9h-.9zM395.2 331.0h.9v.9h-.9zM395.1 342.6h.9v.9h-.9zM387.3 344.7h.9v.9h-.9zM386.0 329.8h.9v.9h-.9zM386.8 329.2h.9v.9h-.9zM394.2 329.1h.9v.9h-.9zM397.8 337.4h.9v.9h-.9zM389.3 345.9h.9v.9h-.9zM389.6 345.7h.9v.9h-.9zM393.4 328.2h.9v.9h-.9zM395.3 331.8h.9v.9h-.9zM388.9 326.1h.9v.9h-.9zM391.0 345.0h.9v.9h-.9zM385.1 343.4h.9v.9h-.9zM395.2 342.7h.9v.9h-.9zM384.7 342.6h.9v.9h-.9zM385.5 330.9h.9v.9h-.9zM390.1 326.5h.9v.9h-.9zM395.1 342.2h.9v.9h-.9zM384.8 342.4h.9v.9h-.9zM389.7 345.9h.9v.9h-.9zM395.4 331.9h.9v.9h-.9zM391.7 345.2h.9v.9h-.9zM396.6 342.7h.9v.9h-.9zM385.9 343.8h.9v.9h-.9zM384.0 341.9h.9v.9h-.9zM394.5 329.6h.9v.9h-.9zM393.0 344.8h.9v.9h-.9zM387.9 344.1h.9v.9h-.9zM386.7 329.5h.9v.9h-.9zM390.1 346.0h.9v.9h-.9zM394.8 343.5h.9v.9h-.9zM388.9 345.9h.9v.9h-.9zM391.8 345.8h.9v.9h-.9zM387.2 344.4h.9v.9h-.9zM390.3 327.6h.9v.9h-.9zM385.7 343.4h.9v.9h-.9zM392.6 345.5h.9v.9h-.9zM391.2 345.0h.9v.9h-.9zM394.3 329.7h.9v.9h-.9zM397.4 338.2h.9v.9h-.9zM397.2 340.9h.9v.9h-.9zM389.6 326.3h.9v.9h-.9zM387.3 344.1h.9v.9h-.9zM391.4 327.9h.9v.9h-.9zM390.9 345.5h.9v.9h-.9zM386.0 330.8h.9v.9h-.9zM395.3 342.7h.9v.9h-.9zM393.4 344.0h.9v.9h-.9zM397.7 336.3h.9v.9h-.9zM387.8 328.5h.9v.9h-.9zM386.6 329.2h.9v.9h-.9zM397.6 336.6h.9v.9h-.9zM397.9 336.1h.9v.9h-.9zM386.6 329.1h.9v.9h-.9zM388.0 326.6h.9v.9h-.9zM387.3 328.7h.9v.9h-.9zM391.1 327.4h.9v.9h-.9zM389.8 326.1h.9v.9h-.9zM393.6 328.5h.9v.9h-.9zM389.1 326.7h.9v.9h-.9zM389.3 327.6h.9v.9h-.9zM388.3 326.8h.9v.9h-.9zM388.2 327.8h.9v.9h-.9zM392.1 327.1h.9v.9h-.9zM387.7 328.7h.9v.9h-.9zM394.0 328.6h.9v.9h-.9zM383.0 332.6h.9v.9h-.9zM388.0 327.5h.9v.9h-.9zM390.0 326.1h.9v.9h-.9zM393.6 328.2h.9v.9h-.9zM392.7 327.3h.9v.9h-.9zM385.5 329.5h.9v.9h-.9zM385.7 329.9h.9v.9h-.9zM390.9 327.6h.9v.9h-.9zM388.5 326.8h.9v.9h-.9zM383.7 332.2h.9v.9h-.9zM396.4 341.6h.9v.9h-.9zM385.3 330.8h.9v.9h-.9z" fill="rgb(51, 125, 213)"/>
<path d="M383.5 339.2h.9v.9h-.9zM395.3 341.5h.9v.9h-.9zM396.6 335.0h.9v.9h-.9zM383.3 337.2h.9v.9h-.9zM383.8 333.3h.9v.9h-.9zM395.2 341.1h.9v.9h-.9zM390.8 328.6h.9v.9h-.9zM393.5 329.2h.9v.9h-.9zM388.3 344.5h.9v.9h-.9zM383.7 335.9h.9v.9h-.9zM383.3 337.7h.9v.9h-.9zM395.7 341.9h.9v.9h-.9zM383.2 335.3h.9v.9h-.9zM384.5 340.1h.9v.9h-.9zM384.6 341.4h.9v.9h-.9zM386.4 343.5h.9v.9h-.9zM384.5 332.4h.9v.9h-.9zM383.4 334.7h.9v.9h-.9zM396.2 340.9h.9v.9h-.9zM383.5 334.7h.9v.9h-.9zM390.1 328.2h.9v.9h-.9zM388.9 344.1h.9v.9h-.9zM389.2 328.7h.9v.9h-.9zM383.8 338.7h.9v.9h-.9zM386.5 343.8h.9v.9h-.9zM387.4 330.0h.9v.9h-.9zM384.7 342.0h.9v.9h-.9zM395.2 332.5h.9v.9h-.9zM384.5 332.1h.9v.9h-.9zM385.0 331.8h.9v.9h-.9zM396.6 335.4h.9v.9h-.9zM394.1 342.3h.9v.9h-.9zM396.8 340.5h.9v.9h-.9zM383.9 335.5h.9v.9h-.9zM384.8 340.3h.9v.9h-.9zM383.2 334.7h.9v.9h-.9zM390.5 328.9h.9v.9h-.9zM396.5 334.2h.9v.9h-.9zM394.2 330.9h.9v.9h-.9zM383.7 334.9h.9v.9h-.9zM396.4 335.8h.9v.9h-.9zM383.8 337.4h.9v.9h-.9zM384.1 340.7h.9v.9h-.9zM391.6 328.0h.9v.9h-.9zM392.7 344.2h.9v.9h-.9zM396.8 335.7h.9v.9h-.9zM394.7 330.4h.9v.9h-.9zM384.4 331.8h.9v.9h-.9zM383.2 335.4h.9v.9h-.9zM384.1 341.5h.9v.9h-.9zM385.3 341.0h.9v.9h-.9zM383.9 335.7h.9v.9h-.9zM388.4 328.5h.9v.9h-.9zM395.1 332.4h.9v.9h-.9zM393.7 329.4h.9v.9h-.9zM384.2 332.6h.9v.9h-.9zM396.0 339.1h.9v.9h-.9zM392.6 344.1h.9v.9h-.9zM383.0 337.2h.9v.9h-.9zM389.4 328.7h.9v.9h-.9zM392.7 344.5h.9v.9h-.9zM383.9 334.7h.9v.9h-.9zM388.7 344.6h.9v.9h-.9zM393.9 329.2h.9v.9h-.9zM383.0 339.3h.9v.9h-.9zM396.3 334.7h.9v.9h-.9zM394.7 342.3h.9v.9h-.9zM396.0 340.4h.9v.9h-.9zM385.5 341.2h.9v.9h-.9zM396.9 339.8h.9v.9h-.9zM383.5 336.5h.9v.9h-.9zM384.1 331.3h.9v.9h-.9zM384.8 341.8h.9v.9h-.9zM385.9 341.0h.9v.9h-.9zM383.9 338.8h.9v.9h-.9zM393.2 329.9h.9v.9h-.9zM394.0 330.8h.9v.9h-.9zM391.0 328.5h.9v.9h-.9zM387.9 329.6h.9v.9h-.9zM392.6 328.2h.9v.9h-.9zM389.4 328.4h.9v.9h-.9zM383.7 336.7h.9v.9h-.9zM391.5 328.6h.9v.9h-.9zM388.3 328.9h.9v.9h-.9zM391.4 328.9h.9v.9h-.9zM395.4 333.0h.9v.9h-.9zM391.8 329.0h.9v.9h-.9zM395.0 330.9h.9v.9h-.9zM383.1 334.2h.9v.9h-.9zM388.7 328.8h.9v.9h-.9zM390.6 328.6h.9v.9h-.9zM390.4 328.7h.9v.9h-.9zM385.4 342.5h.9v.9h-.9z" fill="rgb(54, 144, 210)"/>
<path d="M392.1 329.0h.9v.9h-.9zM395.3 333.6h.9v.9h-.9zM390.8 344.9h.9v.9h-.9zM393.8 343.4h.9v.9h-.9zM384.9 339.6h.9v.9h-.9zM396.9 338.1h.9v.9h-.9zM393.4 330.1h.9v.9h-.9zM385.0 331.4h.9v.9h-.9zM384.1 333.5h.9v.9h-.9zM386.5 342.7h.9v.9h-.9zM394.8 332.2h.9v.9h-.9zM385.5 340.1h.9v.9h-.9zM393.7 343.3h.9v.9h-.9zM390.5 344.3h.9v.9h-.9zM385.2 340.1h.9v.9h-.9zM385.7 340.0h.9v.9h-.9zM393.5 330.3h.9v.9h-.9zM384.4 333.7h.9v.9h-.9zM396.4 338.8h.9v.9h-.9zM387.8 343.7h.9v.9h-.9zM395.7 333.2h.9v.9h-.9zM384.7 333.5h.9v.9h-.9zM391.4 344.1h.9v.9h-.9zM394.9 341.2h.9v.9h-.9zM395.2 341.0h.9v.9h-.9zM391.0 345.0h.9v.9h-.9zM396.7 337.2h.9v.9h-.9zM388.8 329.9h.9v.9h-.9zM396.8 336.3h.9v.9h-.9zM385.7 340.6h.9v.9h-.9zM394.4 341.0h.9v.9h-.9zM387.6 343.2h.9v.9h-.9zM391.5 344.1h.9v.9h-.9zM395.3 340.6h.9v.9h-.9zM390.6 344.4h.9v.9h-.9zM390.8 345.0h.9v.9h-.9zM393.6 343.2h.9v.9h-.9zM391.2 344.5h.9v.9h-.9zM396.5 338.9h.9v.9h-.9zM387.4 343.4h.9v.9h-.9zM385.7 340.0h.9v.9h-.9zM385.6 340.9h.9v.9h-.9zM388.7 330.0h.9v.9h-.9zM389.8 344.4h.9v.9h-.9zM384.6 339.8h.9v.9h-.9zM386.5 342.1h.9v.9h-.9zM394.5 331.1h.9v.9h-.9zM385.4 340.1h.9v.9h-.9zM396.2 338.7h.9v.9h-.9zM389.4 344.6h.9v.9h-.9zM386.9 330.4h.9v.9h-.9zM396.7 337.2h.9v.9h-.9zM396.8 337.0h.9v.9h-.9zM390.6 344.2h.9v.9h-.9zM385.5 331.7h.9v.9h-.9zM396.9 338.5h.9v.9h-.9zM394.2 341.7h.9v.9h-.9zM393.3 343.1h.9v.9h-.9zM386.1 342.9h.9v.9h-.9zM396.3 338.8h.9v.9h-.9zM391.5 344.7h.9v.9h-.9zM385.7 331.3h.9v.9h-.9zM393.7 330.4h.9v.9h-.9zM393.2 330.7h.9v.9h-.9zM390.3 344.7h.9v.9h-.9zM393.0 343.5h.9v.9h-.9zM384.7 339.2h.9v.9h-.9zM392.8 329.5h.9v.9h-.9zM387.4 343.3h.9v.9h-.9zM391.0 344.5h.9v.9h-.9zM396.3 337.6h.9v.9h-.9zM394.9 332.6h.9v.9h-.9zM396.2 338.7h.9v.9h-.9zM394.8 331.4h.9v.9h-.9zM392.4 329.3h.9v.9h-.9zM388.9 329.6h.9v.9h-.9zM392.0 329.7h.9v.9h-.9zM394.1 332.2h.9v.9h-.9zM393.9 330.4h.9v.9h-.9zM392.1 329.2h.9v.9h-.9zM388.0 329.6h.9v.9h-.9zM393.1 331.0h.9v.9h-.9zM385.5 331.8h.9v.9h-.9zM396.7 336.3h.9v.9h-.9zM392.1 329.7h.9v.9h-.9zM394.2 332.6h.9v.9h-.9zM393.8 343.7h.9v.9h-.9zM396.5 338.2h.9v.9h-.9zM390.1 344.2h.9v.9h-.9zM390.1 344.6h.9v.9h-.9z" fill="rgb(57, 163, 207)"/>
<path d="M385.8 333.0h.9v.9h-.9zM388.4 343.7h.9v.9h-.9zM386.7 341.2h.9v.9h-.9zM389.2 329.7h.9v.9h-.9zM395.6 338.2h.9v.9h-.9zM384.5 338.6h.9v.9h-.9zM395.9 339.5h.9v.9h-.9zM385.7 339.5h.9v.9h-.9zM385.9 339.4h.9v.9h-.9zM396.0 336.1h.9v.9h-.9zM394.5 340.6h.9v.9h-.9zM392.1 343.3h.9v.9h-.9zM385.6 339.2h.9v.9h-.9zM385.5 339.2h.9v.9h-.9zM395.9 334.8h.9v.9h-.9zM395.2 339.8h.9v.9h-.9zM388.5 343.5h.9v.9h-.9zM385.0 333.0h.9v.9h-.9zM393.2 331.7h.9v.9h-.9zM395.1 338.5h.9v.9h-.9zM392.8 343.7h.9v.9h-.9zM395.7 339.1h.9v.9h-.9zM386.0 331.7h.9v.9h-.9zM395.5 334.4h.9v.9h-.9zM385.5 332.7h.9v.9h-.9zM393.5 332.0h.9v.9h-.9zM395.6 338.7h.9v.9h-.9zM395.7 338.7h.9v.9h-.9zM394.9 340.2h.9v.9h-.9zM385.4 332.9h.9v.9h-.9zM395.2 339.8h.9v.9h-.9zM395.8 336.0h.9v.9h-.9zM384.8 337.3h.9v.9h-.9zM391.0 329.6h.9v.9h-.9zM394.6 340.7h.9v.9h-.9zM384.3 338.7h.9v.9h-.9zM393.2 331.1h.9v.9h-.9zM395.0 339.4h.9v.9h-.9zM391.9 329.8h.9v.9h-.9zM384.7 337.9h.9v.9h-.9zM391.6 329.9h.9v.9h-.9zM395.0 340.1h.9v.9h-.9zM391.2 329.9h.9v.9h-.9zM388.6 343.1h.9v.9h-.9zM394.5 340.5h.9v.9h-.9zM384.8 337.7h.9v.9h-.9zM395.1 338.9h.9v.9h-.9zM395.7 335.0h.9v.9h-.9zM386.5 331.8h.9v.9h-.9zM391.8 329.8h.9v.9h-.9zM386.6 331.8h.9v.9h-.9zM392.3 343.2h.9v.9h-.9zM388.8 343.7h.9v.9h-.9zM394.0 342.5h.9v.9h-.9zM394.0 340.1h.9v.9h-.9zM388.1 343.3h.9v.9h-.9zM389.4 329.5h.9v.9h-.9zM394.9 333.5h.9v.9h-.9zM394.0 333.5h.9v.9h-.9zM395.1 335.3h.9v.9h-.9zM395.5 336.3h.9v.9h-.9zM392.3 343.0h.9v.9h-.9zM393.9 331.2h.9v.9h-.9zM387.7 330.5h.9v.9h-.9zM395.1 338.2h.9v.9h-.9zM391.1 329.2h.9v.9h-.9zM392.2 344.0h.9v.9h-.9zM390.8 329.7h.9v.9h-.9zM386.9 341.3h.9v.9h-.9zM395.1 335.6h.9v.9h-.9zM386.7 341.8h.9v.9h-.9zM395.4 334.7h.9v.9h-.9zM384.9 337.4h.9v.9h-.9zM393.0 331.5h.9v.9h-.9zM387.6 330.8h.9v.9h-.9zM395.5 339.9h.9v.9h-.9zM395.5 339.3h.9v.9h-.9zM385.0 338.9h.9v.9h-.9zM386.1 331.0h.9v.9h-.9zM392.6 343.7h.9v.9h-.9zM385.5 339.5h.9v.9h-.9zM384.7 338.3h.9v.9h-.9zM386.9 331.6h.9v.9h-.9zM387.5 330.1h.9v.9h-.9zM384.4 338.2h.9v.9h-.9zM384.5 337.4h.9v.9h-.9zM394.1 340.0h.9v.9h-.9zM394.1 333.5h.9v.9h-.9zM395.4 336.8h.9v.9h-.9zM385.9 339.8h.9v.9h-.9zM394.9 340.1h.9v.9h-.9zM389.2 329.7h.9v.9h-.9zM385.2 339.8h.9v.9h-.9zM386.8 341.9h.9v.9h-.9zM395.5 336.3h.9v.9h-.9zM394.9 333.3h.9v.9h-.9zM395.2 335.4h.9v.9h-.9zM394.8 333.3h.9v.9h-.9zM393.6 331.7h.9v.9h-.9zM389.0 329.9h.9v.9h-.9zM391.8 329.9h.9v.9h-.9zM390.4 329.2h.9v.9h-.9zM395.7 337.0h.9v.9h-.9zM386.6 331.1h.9v.9h-.9zM386.1 331.4h.9v.9h-.9zM390.6 330.0h.9v.9h-.9zM390.8 329.6h.9v.9h-.9zM390.9 329.2h.9v.9h-.9zM391.6 329.9h.9v.9h-.9zM395.7 339.3h.9v.9h-.9zM394.0 340.2h.9v.9h-.9zM394.5 340.6h.9v.9h-.9zM395.4 335.3h.9v.9h-.9zM385.3 332.2h.9v.9h-.9zM384.6 337.9h.9v.9h-.9z" fill="rgb(61, 176, 187)"/>
<path d="M384.9 335.8h.9v.9h-.9zM393.2 341.2h.9v.9h-.9zM395.9 337.3h.9v.9h-.9zM388.7 330.9h.9v.9h-.9zM392.5 342.6h.9v.9h-.9zM393.9 341.5h.9v.9h-.9zM384.6 335.6h.9v.9h-.9zM387.9 342.7h.9v.9h-.9zM393.4 332.3h.9v.9h-.9zM394.3 334.9h.9v.9h-.9zM395.9 337.3h.9v.9h-.9zM393.4 341.7h.9v.9h-.9zM394.3 335.7h.9v.9h-.9zM394.6 335.7h.9v.9h-.9zM391.9 343.0h.9v.9h-.9zM392.1 342.7h.9v.9h-.9zM394.4 335.6h.9v.9h-.9zM386.7 340.7h.9v.9h-.9zM387.8 341.5h.9v.9h-.9zM394.9 335.3h.9v.9h-.9zM386.6 340.7h.9v.9h-.9zM392.0 342.8h.9v.9h-.9zM391.5 343.8h.9v.9h-.9zM391.0 344.0h.9v.9h-.9zM393.2 342.0h.9v.9h-.9zM384.0 335.5h.9v.9h-.9zM389.8 343.2h.9v.9h-.9zM384.8 335.6h.9v.9h-.9zM390.6 343.1h.9v.9h-.9zM393.6 341.6h.9v.9h-.9zM387.1 342.3h.9v.9h-.9zM391.7 343.7h.9v.9h-.9zM389.3 343.4h.9v.9h-.9zM391.7 343.6h.9v.9h-.9zM387.5 341.9h.9v.9h-.9zM387.6 342.1h.9v.9h-.9zM387.7 342.0h.9v.9h-.9zM395.6 337.5h.9v.9h-.9zM387.1 342.1h.9v.9h-.9zM394.1 335.5h.9v.9h-.9zM394.3 339.9h.9v.9h-.9zM392.9 331.0h.9v.9h-.9zM386.1 340.7h.9v.9h-.9zM394.7 339.2h.9v.9h-.9zM389.9 344.0h.9v.9h-.9zM393.4 332.8h.9v.9h-.9zM384.4 334.3h.9v.9h-.9zM393.9 332.2h.9v.9h-.9zM386.4 340.8h.9v.9h-.9zM384.9 336.2h.9v.9h-.9zM394.8 339.9h.9v.9h-.9zM392.0 342.9h.9v.9h-.9zM384.9 334.5h.9v.9h-.9zM386.1 340.0h.9v.9h-.9zM393.5 341.0h.9v.9h-.9zM394.6 335.5h.9v.9h-.9zM391.2 343.6h.9v.9h-.9zM394.8 334.0h.9v.9h-.9zM384.9 334.8h.9v.9h-.9zM386.2 340.2h.9v.9h-.9zM393.3 332.8h.9v.9h-.9zM393.7 341.6h.9v.9h-.9zM387.5 341.2h.9v.9h-.9zM394.4 339.7h.9v.9h-.9zM387.9 341.6h.9v.9h-.9zM387.8 342.9h.9v.9h-.9zM384.9 335.2h.9v.9h-.9zM384.8 336.1h.9v.9h-.9zM394.1 340.0h.9v.9h-.9zM392.5 330.8h.9v.9h-.9zM394.9 339.2h.9v.9h-.9zM392.0 342.7h.9v.9h-.9zM394.9 334.7h.9v.9h-.9zM389.0 343.6h.9v.9h-.9zM395.2 337.7h.9v.9h-.9zM395.3 337.0h.9v.9h-.9zM391.2 343.1h.9v.9h-.9zM384.2 334.6h.9v.9h-.9zM392.1 342.9h.9v.9h-.9zM389.6 343.2h.9v.9h-.9zM392.1 342.4h.9v.9h-.9zM395.3 337.2h.9v.9h-.9zM384.1 335.7h.9v.9h-.9zM386.6 340.5h.9v.9h-.9zM395.4 337.8h.9v.9h-.9zM394.2 334.9h.9v.9h-.9zM386.6 340.2h.9v.9h-.9zM391.0 343.4h.9v.9h-.9zM392.1 342.8h.9v.9h-.9zM393.4 332.9h.9v.9h-.9zM387.4 342.7h.9v.9h-.9zM384.4 335.6h.9v.9h-.9zM392.6 330.4h.9v.9h-.9zM391.6 343.2h.9v.9h-.9zM385.0 334.4h.9v.9h-.9zM393.1 332.9h.9v.9h-.9zM388.9 330.7h.9v.9h-.9zM393.2 332.2h.9v.9h-.9zM394.3 334.7h.9v.9h-.9zM394.9 335.9h.9v.9h-.9zM394.4 335.5h.9v.9h-.9zM392.7 330.9h.9v.9h-.9zM388.0 330.4h.9v.9h-.9zM388.7 330.2h.9v.9h-.9z" fill="rgb(66, 181, 144)"/>
<path d="M388.0 341.8h.9v.9h-.9zM385.6 333.7h.9v.9h-.9zM387.5 331.9h.9v.9h-.9zM386.3 332.3h.9v.9h-.9zM385.9 333.4h.9v.9h-.9zM394.9 336.9h.9v.9h-.9zM389.6 330.8h.9v.9h-.9zM386.3 332.9h.9v.9h-.9zM394.7 336.4h.9v.9h-.9zM391.4 342.9h.9v.9h-.9zM394.6 337.4h.9v.9h-.9zM394.8 337.7h.9v.9h-.9zM393.9 341.0h.9v.9h-.9zM385.7 333.9h.9v.9h-.9zM386.3 332.7h.9v.9h-.9zM387.9 331.7h.9v.9h-.9zM385.8 333.5h.9v.9h-.9zM388.3 341.4h.9v.9h-.9zM393.4 340.2h.9v.9h-.9zM385.2 338.5h.9v.9h-.9zM387.4 340.8h.9v.9h-.9zM393.5 340.7h.9v.9h-.9zM388.8 342.2h.9v.9h-.9zM393.8 333.3h.9v.9h-.9zM391.2 343.0h.9v.9h-.9zM393.2 333.0h.9v.9h-.9zM385.5 337.2h.9v.9h-.9zM392.9 331.3h.9v.9h-.9zM389.8 330.9h.9v.9h-.9zM394.2 338.7h.9v.9h-.9zM389.5 330.4h.9v.9h-.9zM385.4 338.8h.9v.9h-.9zM389.0 342.9h.9v.9h-.9zM385.6 333.8h.9v.9h-.9zM385.8 338.0h.9v.9h-.9zM387.8 340.5h.9v.9h-.9zM394.1 336.9h.9v.9h-.9zM391.1 330.7h.9v.9h-.9zM394.1 337.7h.9v.9h-.9zM387.5 340.7h.9v.9h-.9zM394.6 338.1h.9v.9h-.9zM392.0 342.0h.9v.9h-.9zM391.8 342.9h.9v.9h-.9zM385.4 333.1h.9v.9h-.9zM388.9 341.5h.9v.9h-.9zM391.7 342.5h.9v.9h-.9zM385.1 333.6h.9v.9h-.9zM389.0 342.8h.9v.9h-.9zM388.9 341.8h.9v.9h-.9zM393.4 340.9h.9v.9h-.9zM391.4 342.2h.9v.9h-.9zM387.7 340.1h.9v.9h-.9zM387.7 331.3h.9v.9h-.9zM389.2 330.9h.9v.9h-.9zM387.4 340.3h.9v.9h-.9zM391.2 330.4h.9v.9h-.9zM388.3 341.3h.9v.9h-.9zM391.7 330.7h.9v.9h-.9zM388.9 342.3h.9v.9h-.9zM394.0 338.2h.9v.9h-.9zM390.5 330.3h.9v.9h-.9zM387.5 331.2h.9v.9h-.9zM387.6 340.3h.9v.9h-.9zM394.7 336.1h.9v.9h-.9zM385.5 337.7h.9v.9h-.9zM387.4 331.6h.9v.9h-.9zM391.3 342.0h.9v.9h-.9zM386.0 333.7h.9v.9h-.9zM393.7 333.9h.9v.9h-.9zM388.9 341.1h.9v.9h-.9zM385.7 333.7h.9v.9h-.9zM385.1 337.8h.9v.9h-.9zM387.3 340.9h.9v.9h-.9zM394.0 337.1h.9v.9h-.9zM387.2 340.3h.9v.9h-.9zM385.1 338.4h.9v.9h-.9zM385.7 337.3h.9v.9h-.9zM390.3 330.3h.9v.9h-.9zM385.1 333.9h.9v.9h-.9zM387.8 331.6h.9v.9h-.9zM388.1 341.2h.9v.9h-.9zM388.5 341.1h.9v.9h-.9zM393.4 333.5h.9v.9h-.9zM385.8 333.9h.9v.9h-.9zM394.2 337.9h.9v.9h-.9zM394.4 338.0h.9v.9h-.9zM387.9 340.4h.9v.9h-.9zM388.5 341.3h.9v.9h-.9zM388.2 341.4h.9v.9h-.9zM394.7 338.9h.9v.9h-.9zM394.5 336.8h.9v.9h-.9zM389.5 330.4h.9v.9h-.9zM388.9 341.6h.9v.9h-.9zM391.8 330.9h.9v.9h-.9zM386.9 332.2h.9v.9h-.9zM388.3 341.4h.9v.9h-.9zM394.5 337.4h.9v.9h-.9zM388.7 341.7h.9v.9h-.9zM388.9 341.2h.9v.9h-.9zM390.8 330.5h.9v.9h-.9zM394.6 337.2h.9v.9h-.9zM387.9 340.7h.9v.9h-.9zM390.5 330.6h.9v.9h-.9zM385.8 337.6h.9v.9h-.9zM385.2 338.9h.9v.9h-.9zM385.2 338.0h.9v.9h-.9zM389.0 341.3h.9v.9h-.9zM385.4 338.1h.9v.9h-.9zM394.8 337.7h.9v.9h-.9zM395.0 337.4h.9v.9h-.9zM388.3 342.7h.9v.9h-.9zM388.6 342.3h.9v.9h-.9zM389.8 331.0h.9v.9h-.9zM391.3 342.8h.9v.9h-.9zM387.2 332.0h.9v.9h-.9zM391.1 342.5h.9v.9h-.9zM390.6 330.0h.9v.9h-.9zM386.1 332.5h.9v.9h-.9zM385.3 338.3h.9v.9h-.9zM387.3 331.7h.9v.9h-.9zM391.1 330.8h.9v.9h-.9zM387.0 331.1h.9v.9h-.9zM385.6 333.5h.9v.9h-.9zM390.5 330.3h.9v.9h-.9zM394.8 336.4h.9v.9h-.9zM386.1 332.8h.9v.9h-.9zM394.2 336.5h.9v.9h-.9zM392.9 331.3h.9v.9h-.9zM393.4 333.7h.9v.9h-.9zM386.2 332.1h.9v.9h-.9zM393.9 333.8h.9v.9h-.9zM390.5 330.2h.9v.9h-.9zM390.6 330.8h.9v.9h-.9zM392.6 331.5h.9v.9h-.9zM391.6 330.4h.9v.9h-.9z" fill="rgb(77, 186, 105)"/>
<path d="M389.3 342.1h.9v.9h-.9zM385.2 336.9h.9v.9h-.9zM387.2 332.1h.9v.9h-.9zM393.8 334.6h.9v.9h-.9zM392.0 341.4h.9v.9h-.9zM391.4 331.1h.9v.9h-.9zM385.3 334.7h.9v.9h-.9zM390.2 342.2h.9v.9h-.9zM391.0 341.1h.9v.9h-.9zM390.5 331.8h.9v.9h-.9zM385.9 336.8h.9v.9h-.9zM391.0 331.4h.9v.9h-.9zM386.0 334.4h.9v.9h-.9zM392.8 332.4h.9v.9h-.9zM389.0 343.0h.9v.9h-.9zM393.2 339.2h.9v.9h-.9zM388.9 331.2h.9v.9h-.9zM392.2 341.7h.9v.9h-.9zM388.0 340.5h.9v.9h-.9zM389.0 340.4h.9v.9h-.9zM391.0 331.8h.9v.9h-.9zM385.8 336.8h.9v.9h-.9zM386.0 334.2h.9v.9h-.9zM390.9 331.7h.9v.9h-.9zM391.3 331.8h.9v.9h-.9zM393.6 339.6h.9v.9h-.9zM391.7 341.3h.9v.9h-.9zM387.6 332.9h.9v.9h-.9zM390.8 331.8h.9v.9h-.9zM386.7 339.2h.9v.9h-.9zM393.9 339.9h.9v.9h-.9zM391.6 341.1h.9v.9h-.9zM392.0 331.3h.9v.9h-.9zM391.2 331.4h.9v.9h-.9zM393.0 339.8h.9v.9h-.9zM386.6 339.8h.9v.9h-.9zM392.9 341.5h.9v.9h-.9zM388.2 340.2h.9v.9h-.9zM389.7 342.5h.9v.9h-.9zM391.3 341.4h.9v.9h-.9zM390.6 331.5h.9v.9h-.9zM391.7 341.5h.9v.9h-.9zM392.8 340.9h.9v.9h-.9zM393.1 339.9h.9v.9h-.9zM391.5 341.7h.9v.9h-.9zM392.1 332.1h.9v.9h-.9zM388.2 331.6h.9v.9h-.9zM393.9 334.8h.9v.9h-.9zM392.6 332.7h.9v.9h-.9zM385.5 337.0h.9v.9h-.9zM386.0 339.2h.9v.9h-.9zM389.9 331.3h.9v.9h-.9zM391.6 331.7h.9v.9h-.9zM388.4 340.0h.9v.9h-.9zM392.2 332.6h.9v.9h-.9zM392.6 340.3h.9v.9h-.9zM392.5 332.6h.9v.9h-.9zM385.1 334.9h.9v.9h-.9zM385.4 336.8h.9v.9h-.9zM394.0 334.3h.9v.9h-.9zM385.5 336.0h.9v.9h-.9zM385.9 336.5h.9v.9h-.9zM393.5 339.7h.9v.9h-.9zM390.4 331.3h.9v.9h-.9zM387.4 332.8h.9v.9h-.9zM389.9 342.6h.9v.9h-.9zM393.9 334.6h.9v.9h-.9zM391.9 331.9h.9v.9h-.9zM390.5 331.9h.9v.9h-.9zM388.1 331.4h.9v.9h-.9zM390.9 342.1h.9v.9h-.9zM388.7 340.5h.9v.9h-.9zM385.6 336.7h.9v.9h-.9zM393.5 340.0h.9v.9h-.9zM390.4 342.8h.9v.9h-.9zM391.5 341.2h.9v.9h-.9zM392.2 340.4h.9v.9h-.9zM392.4 341.7h.9v.9h-.9zM391.7 341.6h.9v.9h-.9zM388.6 340.5h.9v.9h-.9zM390.3 331.2h.9v.9h-.9zM392.0 341.5h.9v.9h-.9zM392.2 341.9h.9v.9h-.9zM388.0 340.3h.9v.9h-.9zM392.4 332.7h.9v.9h-.9zM392.1 341.4h.9v.9h-.9zM389.2 342.7h.9v.9h-.9zM391.3 341.2h.9v.9h-.9zM388.3 331.4h.9v.9h-.9zM389.2 331.9h.9v.9h-.9zM389.5 342.1h.9v.9h-.9zM393.6 334.2h.9v.9h-.9zM393.0 340.8h.9v.9h-.9zM388.1 331.7h.9v.9h-.9zM385.5 336.2h.9v.9h-.9zM393.0 334.7h.9v.9h-.9zM387.1 332.3h.9v.9h-.9zM389.2 331.4h.9v.9h-.9zM391.5 331.6h.9v.9h-.9zM392.0 340.7h.9v.9h-.9zM388.6 340.1h.9v.9h-.9zM391.7 341.2h.9v.9h-.9zM385.3 336.8h.9v.9h-.9zM390.3 342.3h.9v.9h-.9zM393.1 339.3h.9v.9h-.9zM392.9 332.5h.9v.9h-.9zM389.5 331.1h.9v.9h-.9zM393.8 334.4h.9v.9h-.9zM393.2 334.2h.9v.9h-.9zM392.5 332.4h.9v.9h-.9zM390.6 331.3h.9v.9h-.9zM390.9 332.0h.9v.9h-.9zM385.5 334.1h.9v.9h-.9zM388.6 331.5h.9v.9h-.9zM389.3 331.9h.9v.9h-.9zM385.7 334.2h.9v.9h-.9zM393.2 334.7h.9v.9h-.9zM385.6 336.1h.9v.9h-.9zM389.3 331.3h.9v.9h-.9zM390.8 331.8h.9v.9h-.9zM393.2 334.2h.9v.9h-.9zM392.6 341.6h.9v.9h-.9z" fill="rgb(117, 195, 83)"/>
<path d="M393.9 338.3h.9v.9h-.9zM392.6 339.3h.9v.9h-.9zM386.4 333.5h.9v.9h-.9zM386.8 333.4h.9v.9h-.9zM386.4 337.8h.9v.9h-.9zM391.6 340.5h.9v.9h-.9zM386.4 333.7h.9v.9h-.9zM393.8 337.4h.9v.9h-.9zM387.2 339.6h.9v.9h-.9zM389.8 341.6h.9v.9h-.9zM393.9 336.5h.9v.9h-.9zM390.1 341.7h.9v.9h-.9zM392.0 333.0h.9v.9h-.9zM385.0 335.4h.9v.9h-.9zM392.0 340.4h.9v.9h-.9zM391.8 340.5h.9v.9h-.9zM393.9 335.4h.9v.9h-.9zM386.6 338.7h.9v.9h-.9zM386.3 337.7h.9v.9h-.9zM393.4 338.6h.9v.9h-.9zM386.4 338.0h.9v.9h-.9zM386.5 338.3h.9v.9h-.9zM386.2 333.7h.9v.9h-.9zM391.1 340.4h.9v.9h-.9zM390.6 341.3h.9v.9h-.9zM392.4 333.0h.9v.9h-.9zM391.8 340.2h.9v.9h-.9zM386.8 337.9h.9v.9h-.9zM393.3 336.0h.9v.9h-.9zM393.4 336.6h.9v.9h-.9zM391.4 340.9h.9v.9h-.9zM393.9 336.9h.9v.9h-.9zM393.4 335.5h.9v.9h-.9zM386.8 338.6h.9v.9h-.9zM393.9 337.7h.9v.9h-.9zM390.8 341.7h.9v.9h-.9zM390.5 341.1h.9v.9h-.9zM393.2 335.9h.9v.9h-.9zM393.8 336.3h.9v.9h-.9zM386.9 333.6h.9v.9h-.9zM386.2 334.0h.9v.9h-.9zM389.3 341.5h.9v.9h-.9zM392.0 333.9h.9v.9h-.9zM387.2 339.4h.9v.9h-.9zM392.1 334.0h.9v.9h-.9zM391.5 340.5h.9v.9h-.9zM386.1 333.6h.9v.9h-.9zM386.2 338.5h.9v.9h-.9zM386.4 337.3h.9v.9h-.9zM393.3 336.5h.9v.9h-.9zM393.0 338.2h.9v.9h-.9zM393.1 338.4h.9v.9h-.9zM386.2 337.5h.9v.9h-.9zM385.5 335.9h.9v.9h-.9zM390.2 341.8h.9v.9h-.9zM389.6 341.6h.9v.9h-.9zM392.4 339.8h.9v.9h-.9zM391.5 340.5h.9v.9h-.9zM385.0 335.7h.9v.9h-.9zM386.3 337.3h.9v.9h-.9zM386.6 338.5h.9v.9h-.9zM386.7 338.8h.9v.9h-.9zM386.5 337.3h.9v.9h-.9zM392.3 339.9h.9v.9h-.9zM387.8 339.0h.9v.9h-.9zM393.3 335.2h.9v.9h-.9zM386.9 338.1h.9v.9h-.9zM393.2 337.3h.9v.9h-.9zM386.4 337.1h.9v.9h-.9zM385.3 335.7h.9v.9h-.9zM392.9 333.8h.9v.9h-.9zM389.2 341.6h.9v.9h-.9zM393.2 337.3h.9v.9h-.9zM392.3 333.8h.9v.9h-.9zM392.4 333.1h.9v.9h-.9zM385.2 335.4h.9v.9h-.9zM393.0 333.3h.9v.9h-.9zM389.4 341.0h.9v.9h-.9zM392.1 339.6h.9v.9h-.9zM393.4 337.9h.9v.9h-.9zM391.8 340.0h.9v.9h-.9zM393.4 335.1h.9v.9h-.9zM392.3 339.5h.9v.9h-.9zM391.7 340.4h.9v.9h-.9zM393.3 338.6h.9v.9h-.9zM386.0 333.8h.9v.9h-.9zM389.6 341.7h.9v.9h-.9zM386.2 337.3h.9v.9h-.9zM393.6 335.4h.9v.9h-.9zM391.8 340.4h.9v.9h-.9zM393.1 336.1h.9v.9h-.9zM391.7 340.4h.9v.9h-.9zM393.6 335.1h.9v.9h-.9zM393.3 338.6h.9v.9h-.9zM390.6 341.1h.9v.9h-.9zM386.3 338.2h.9v.9h-.9zM393.2 337.0h.9v.9h-.9zM392.4 333.5h.9v.9h-.9zM393.0 333.4h.9v.9h-.9zM393.5 335.3h.9v.9h-.9zM393.0 336.3h.9v.9h-.9zM392.2 333.5h.9v.9h-.9zM386.7 333.3h.9v.9h-.9zM386.5 333.5h.9v.9h-.9zM387.0 337.5h.9v.9h-.9z" fill="rgb(157, 204, 61)"/>
<path d="M389.4 340.7h.9v.9h-.9zM390.8 332.4h.9v.9h-.9zM388.6 332.5h.9v.9h-.9zM388.3 339.8h.9v.9h-.9zM392.5 338.1h.9v.9h-.9zM392.5 337.9h.9v.9h-.9zM390.1 340.7h.9v.9h-.9zM390.4 332.2h.9v.9h-.9zM386.2 334.5h.9v.9h-.9zM388.1 332.8h.9v.9h-.9zM390.3 340.0h.9v.9h-.9zM386.3 334.3h.9v.9h-.9zM392.1 336.7h.9v.9h-.9zM392.5 338.5h.9v.9h-.9zM392.9 338.7h.9v.9h-.9zM389.6 340.6h.9v.9h-.9zM392.8 334.4h.9v.9h-.9zM390.3 340.3h.9v.9h-.9zM390.6 332.2h.9v.9h-.9zM391.0 339.1h.9v.9h-.9zM386.2 335.0h.9v.9h-.9zM388.5 339.7h.9v.9h-.9zM392.5 335.7h.9v.9h-.9zM390.9 340.3h.9v.9h-.9zM392.2 336.8h.9v.9h-.9zM392.8 339.0h.9v.9h-.9zM389.7 332.9h.9v.9h-.9zM390.6 341.0h.9v.9h-.9zM392.2 336.7h.9v.9h-.9zM389.6 332.8h.9v.9h-.9zM390.6 340.6h.9v.9h-.9zM393.0 338.4h.9v.9h-.9zM389.7 340.6h.9v.9h-.9zM389.6 332.9h.9v.9h-.9zM392.8 338.7h.9v.9h-.9zM389.4 332.9h.9v.9h-.9zM392.2 334.6h.9v.9h-.9zM388.3 332.2h.9v.9h-.9zM386.8 334.1h.9v.9h-.9zM391.5 339.2h.9v.9h-.9zM391.8 340.0h.9v.9h-.9zM388.6 332.6h.9v.9h-.9zM388.6 332.1h.9v.9h-.9zM391.2 339.9h.9v.9h-.9zM389.7 332.9h.9v.9h-.9zM390.7 340.0h.9v.9h-.9zM389.2 340.3h.9v.9h-.9zM386.1 334.7h.9v.9h-.9zM389.8 332.4h.9v.9h-.9zM388.1 332.1h.9v.9h-.9zM392.5 335.7h.9v.9h-.9zM392.3 337.0h.9v.9h-.9zM389.6 332.1h.9v.9h-.9zM392.4 335.2h.9v.9h-.9zM389.4 340.7h.9v.9h-.9zM389.8 332.0h.9v.9h-.9zM390.9 333.0h.9v.9h-.9zM389.6 332.5h.9v.9h-.9zM392.8 338.3h.9v.9h-.9zM386.8 334.6h.9v.9h-.9zM392.2 337.8h.9v.9h-.9zM388.7 332.1h.9v.9h-.9zM388.2 332.0h.9v.9h-.9zM389.3 340.3h.9v.9h-.9zM392.1 336.0h.9v.9h-.9zM389.2 340.6h.9v.9h-.9zM392.3 336.4h.9v.9h-.9zM389.6 332.9h.9v.9h-.9zM392.3 336.3h.9v.9h-.9zM389.5 332.3h.9v.9h-.9zM391.8 339.7h.9v.9h-.9zM389.2 340.2h.9v.9h-.9zM390.9 340.6h.9v.9h-.9zM392.4 336.0h.9v.9h-.9zM391.0 332.9h.9v.9h-.9zM389.6 340.5h.9v.9h-.9zM389.1 340.3h.9v.9h-.9zM390.5 340.5h.9v.9h-.9zM392.9 337.9h.9v.9h-.9zM393.0 335.1h.9v.9h-.9zM392.7 337.1h.9v.9h-.9zM392.5 338.5h.9v.9h-.9zM392.3 334.8h.9v.9h-.9zM391.7 339.1h.9v.9h-.9zM393.0 338.5h.9v.9h-.9zM388.3 339.1h.9v.9h-.9zM390.8 340.5h.9v.9h-.9zM392.8 336.1h.9v.9h-.9zM392.0 337.9h.9v.9h-.9zM389.8 340.1h.9v.9h-.9zM392.7 337.0h.9v.9h-.9zM386.8 334.8h.9v.9h-.9zM389.7 340.1h.9v.9h-.9zM390.6 332.6h.9v.9h-.9zM386.2 334.2h.9v.9h-.9zM391.9 339.7h.9v.9h-.9zM389.0 332.4h.9v.9h-.9zM388.2 332.1h.9v.9h-.9zM388.3 332.2h.9v.9h-.9zM390.6 332.2h.9v.9h-.9zM391.2 332.0h.9v.9h-.9zM386.4 334.2h.9v.9h-.9zM392.1 334.6h.9v.9h-.9zM392.1 335.1h.9v.9h-.9zM389.0 333.0h.9v.9h-.9zM390.5 332.8h.9v.9h-.9zM391.0 332.7h.9v.9h-.9zM391.2 332.1h.9v.9h-.9zM391.0 332.4h.9v.9h-.9zM392.0 335.9h.9v.9h-.9zM392.5 335.7h.9v.9h-.9zM392.2 334.4h.9v.9h-.9zM386.1 334.4h.9v.9h-.9zM390.5 340.4h.9v.9h-.9z" fill="rgb(193, 202, 53)"/>
<path d="M387.0 335.9h.9v.9h-.9zM386.9 336.3h.9v.9h-.9zM390.5 339.4h.9v.9h-.9zM390.3 333.5h.9v.9h-.9zM386.2 336.2h.9v.9h-.9zM391.3 337.7h.9v.9h-.9zM391.3 333.9h.9v.9h-.9zM391.3 337.6h.9v.9h-.9zM391.1 333.8h.9v.9h-.9zM390.6 333.9h.9v.9h-.9zM390.2 333.9h.9v.9h-.9zM390.5 339.2h.9v.9h-.9zM387.2 333.5h.9v.9h-.9zM389.9 339.8h.9v.9h-.9zM390.8 333.7h.9v.9h-.9zM386.8 336.3h.9v.9h-.9zM389.4 339.8h.9v.9h-.9zM392.0 338.8h.9v.9h-.9zM391.4 337.5h.9v.9h-.9zM387.4 338.2h.9v.9h-.9zM390.1 339.5h.9v.9h-.9zM391.0 337.1h.9v.9h-.9zM390.2 333.6h.9v.9h-.9zM386.3 336.1h.9v.9h-.9zM386.3 336.9h.9v.9h-.9zM390.7 339.5h.9v.9h-.9zM387.4 333.6h.9v.9h-.9zM386.1 336.6h.9v.9h-.9zM391.6 337.1h.9v.9h-.9zM391.4 338.4h.9v.9h-.9zM391.2 337.1h.9v.9h-.9zM386.7 335.4h.9v.9h-.9zM386.9 336.3h.9v.9h-.9zM390.0 339.6h.9v.9h-.9zM390.6 333.0h.9v.9h-.9zM391.6 337.5h.9v.9h-.9zM391.8 337.2h.9v.9h-.9zM389.5 339.7h.9v.9h-.9zM386.5 335.6h.9v.9h-.9zM391.0 339.2h.9v.9h-.9zM390.7 339.2h.9v.9h-.9zM389.4 339.6h.9v.9h-.9zM386.0 335.5h.9v.9h-.9zM390.9 333.4h.9v.9h-.9zM390.1 339.8h.9v.9h-.9zM390.4 339.7h.9v.9h-.9zM391.0 333.6h.9v.9h-.9zM391.7 338.8h.9v.9h-.9zM390.2 339.4h.9v.9h-.9zM387.0 335.6h.9v.9h-.9zM390.2 339.4h.9v.9h-.9zM387.8 338.6h.9v.9h-.9zM387.8 333.4h.9v.9h-.9zM390.8 333.4h.9v.9h-.9zM386.5 336.3h.9v.9h-.9zM387.4 333.9h.9v.9h-.9zM387.6 333.8h.9v.9h-.9zM387.8 338.3h.9v.9h-.9zM386.4 336.2h.9v.9h-.9zM387.3 333.2h.9v.9h-.9zM390.7 333.5h.9v.9h-.9zM390.4 333.0h.9v.9h-.9zM387.5 333.6h.9v.9h-.9zM391.8 337.5h.9v.9h-.9zM392.0 338.6h.9v.9h-.9zM391.7 338.0h.9v.9h-.9zM389.7 339.8h.9v.9h-.9zM391.0 339.9h.9v.9h-.9zM390.8 339.5h.9v.9h-.9zM391.4 337.8h.9v.9h-.9zM387.4 338.4h.9v.9h-.9zM389.9 339.0h.9v.9h-.9zM387.7 338.9h.9v.9h-.9zM386.5 337.0h.9v.9h-.9zM389.6 339.4h.9v.9h-.9zM391.5 337.5h.9v.9h-.9zM391.8 338.6h.9v.9h-.9zM391.7 333.4h.9v.9h-.9zM386.7 336.5h.9v.9h-.9zM389.6 339.9h.9v.9h-.9zM391.2 338.1h.9v.9h-.9zM387.0 336.7h.9v.9h-.9zM391.7 338.3h.9v.9h-.9zM386.8 336.3h.9v.9h-.9zM387.9 334.0h.9v.9h-.9zM386.4 337.0h.9v.9h-.9zM391.2 338.9h.9v.9h-.9zM390.6 333.1h.9v.9h-.9zM391.3 333.7h.9v.9h-.9zM390.5 333.7h.9v.9h-.9zM387.1 333.1h.9v.9h-.9zM386.6 335.1h.9v.9h-.9zM386.7 336.1h.9v.9h-.9z" fill="rgb(229, 200, 47)"/>
<path d="M390.8 338.4h.9v.9h-.9zM387.3 337.1h.9v.9h-.9zM388.5 338.9h.9v.9h-.9zM392.0 335.5h.9v.9h-.9zM387.8 337.8h.9v.9h-.9zM387.2 337.3h.9v.9h-.9zM390.8 338.3h.9v.9h-.9zM388.1 339.0h.9v.9h-.9zM388.5 333.5h.9v.9h-.9zM387.5 337.3h.9v.9h-.9zM389.5 333.8h.9v.9h-.9zM391.8 335.3h.9v.9h-.9zM390.6 338.3h.9v.9h-.9zM391.5 336.8h.9v.9h-.9zM390.5 338.7h.9v.9h-.9zM389.7 333.3h.9v.9h-.9zM390.1 338.3h.9v.9h-.9zM388.5 333.0h.9v.9h-.9zM388.5 338.5h.9v.9h-.9zM391.7 334.8h.9v.9h-.9zM387.8 338.0h.9v.9h-.9zM391.6 336.5h.9v.9h-.9zM391.3 336.9h.9v.9h-.9zM391.6 335.9h.9v.9h-.9zM391.6 335.8h.9v.9h-.9zM390.9 337.6h.9v.9h-.9zM390.6 338.8h.9v.9h-.9zM389.0 333.1h.9v.9h-.9zM391.9 334.3h.9v.9h-.9zM390.0 337.4h.9v.9h-.9zM390.2 337.1h.9v.9h-.9zM391.7 336.2h.9v.9h-.9zM391.1 335.0h.9v.9h-.9zM391.0 334.6h.9v.9h-.9zM392.0 336.7h.9v.9h-.9zM388.5 338.4h.9v.9h-.9zM391.9 334.7h.9v.9h-.9zM387.7 337.4h.9v.9h-.9zM388.7 339.0h.9v.9h-.9zM390.8 337.3h.9v.9h-.9zM388.1 333.3h.9v.9h-.9zM391.1 336.3h.9v.9h-.9zM387.8 337.3h.9v.9h-.9zM390.6 337.2h.9v.9h-.9zM390.7 337.9h.9v.9h-.9zM391.5 334.2h.9v.9h-.9zM389.3 333.4h.9v.9h-.9zM391.0 336.8h.9v.9h-.9zM388.6 334.0h.9v.9h-.9zM391.8 334.4h.9v.9h-.9zM388.6 338.9h.9v.9h-.9zM388.7 338.1h.9v.9h-.9zM388.4 333.1h.9v.9h-.9zM391.5 334.1h.9v.9h-.9zM387.2 337.1h.9v.9h-.9zM387.8 337.4h.9v.9h-.9zM390.1 338.4h.9v.9h-.9zM391.1 334.3h.9v.9h-.9zM390.9 337.8h.9v.9h-.9zM388.4 333.2h.9v.9h-.9zM391.1 336.8h.9v.9h-.9zM391.5 336.4h.9v.9h-.9zM391.6 335.6h.9v.9h-.9zM387.7 337.8h.9v.9h-.9zM388.3 338.0h.9v.9h-.9zM391.0 334.4h.9v.9h-.9zM391.7 336.7h.9v.9h-.9zM391.3 334.6h.9v.9h-.9zM391.3 334.2h.9v.9h-.9zM391.2 334.6h.9v.9h-.9zM390.2 337.5h.9v.9h-.9zM391.3 336.0h.9v.9h-.9zM391.5 334.7h.9v.9h-.9zM391.3 334.9h.9v.9h-.9zM389.2 333.0h.9v.9h-.9zM391.5 336.5h.9v.9h-.9z" fill="rgb(240, 171, 42)"/>
<path d="M387.7 334.1h.9v.9h-.9zM389.3 334.1h.9v.9h-.9zM387.2 334.8h.9v.9h-.9zM389.3 334.6h.9v.9h-.9zM389.7 334.7h.9v.9h-.9zM387.7 334.0h.9v.9h-.9zM389.5 338.0h.9v.9h-.9zM389.6 334.7h.9v.9h-.9zM389.5 337.1h.9v.9h-.9zM390.0 334.6h.9v.9h-.9zM389.3 334.6h.9v.9h-.9zM389.0 334.3h.9v.9h-.9zM390.1 334.5h.9v.9h-.9zM388.6 338.0h.9v.9h-.9zM389.3 339.0h.9v.9h-.9zM389.7 338.1h.9v.9h-.9zM388.1 337.1h.9v.9h-.9zM389.2 337.7h.9v.9h-.9zM388.3 337.3h.9v.9h-.9zM389.7 337.3h.9v.9h-.9zM389.6 338.0h.9v.9h-.9zM388.0 337.1h.9v.9h-.9zM387.9 334.9h.9v.9h-.9zM389.3 338.9h.9v.9h-.9zM389.7 337.7h.9v.9h-.9zM388.4 337.7h.9v.9h-.9zM389.1 334.2h.9v.9h-.9zM387.2 334.2h.9v.9h-.9zM389.7 334.2h.9v.9h-.9zM389.1 337.4h.9v.9h-.9zM388.8 337.3h.9v.9h-.9zM389.0 337.0h.9v.9h-.9zM390.3 334.2h.9v.9h-.9zM389.4 337.4h.9v.9h-.9zM389.6 338.3h.9v.9h-.9zM389.5 337.9h.9v.9h-.9zM390.6 334.9h.9v.9h-.9zM389.6 335.0h.9v.9h-.9zM390.0 334.6h.9v.9h-.9zM388.4 337.4h.9v.9h-.9zM389.3 334.2h.9v.9h-.9zM388.8 337.5h.9v.9h-.9zM389.1 337.3h.9v.9h-.9zM387.6 334.7h.9v.9h-.9zM389.0 337.9h.9v.9h-.9zM388.6 337.2h.9v.9h-.9zM389.5 338.1h.9v.9h-.9zM389.1 334.7h.9v.9h-.9zM390.0 334.4h.9v.9h-.9zM388.9 337.4h.9v.9h-.9zM389.7 338.3h.9v.9h-.9zM389.2 338.2h.9v.9h-.9zM390.7 334.8h.9v.9h-.9zM389.9 337.6h.9v.9h-.9zM388.2 337.4h.9v.9h-.9zM390.4 334.2h.9v.9h-.9zM390.2 334.3h.9v.9h-.9zM388.2 337.8h.9v.9h-.9zM390.4 334.2h.9v.9h-.9zM387.8 334.3h.9v.9h-.9zM388.2 337.2h.9v.9h-.9zM390.9 334.0h.9v.9h-.9zM389.5 334.8h.9v.9h-.9z" fill="rgb(239, 130, 39)"/>
<path d="M387.0 335.6h.9v.9h-.9zM387.4 335.2h.9v.9h-.9zM387.1 335.2h.9v.9h-.9zM387.2 335.2h.9v.9h-.9zM388.3 336.4h.9v.9h-.9zM390.3 335.2h.9v.9h-.9zM388.4 335.7h.9v.9h-.9zM389.2 336.2h.9v.9h-.9zM390.1 335.7h.9v.9h-.9zM388.2 334.4h.9v.9h-.9zM389.3 336.1h.9v.9h-.9zM388.8 334.7h.9v.9h-.9zM388.5 336.5h.9v.9h-.9zM389.9 335.6h.9v.9h-.9zM389.0 335.6h.9v.9h-.9zM387.5 336.8h.9v.9h-.9zM389.1 335.4h.9v.9h-.9zM389.9 336.4h.9v.9h-.9zM389.3 335.6h.9v.9h-.9zM389.7 335.1h.9v.9h-.9zM389.9 336.8h.9v.9h-.9zM388.2 336.7h.9v.9h-.9zM390.3 335.8h.9v.9h-.9zM388.3 335.7h.9v.9h-.9zM387.5 336.3h.9v.9h-.9zM390.0 335.0h.9v.9h-.9zM387.8 335.3h.9v.9h-.9zM387.0 336.7h.9v.9h-.9zM389.5 336.0h.9v.9h-.9zM388.6 335.9h.9v.9h-.9zM387.4 335.3h.9v.9h-.9zM389.1 336.2h.9v.9h-.9zM389.6 335.4h.9v.9h-.9zM389.4 335.1h.9v.9h-.9zM388.3 335.7h.9v.9h-.9zM389.6 335.5h.9v.9h-.9zM389.0 336.6h.9v.9h-.9zM389.4 336.6h.9v.9h-.9zM387.4 336.7h.9v.9h-.9zM390.6 335.5h.9v.9h-.9zM389.7 335.4h.9v.9h-.9zM388.5 335.9h.9v.9h-.9zM389.3 336.5h.9v.9h-.9zM390.5 336.9h.9v.9h-.9zM390.3 336.9h.9v.9h-.9zM390.9 336.8h.9v.9h-.9zM390.5 336.9h.9v.9h-.9zM390.3 336.2h.9v.9h-.9zM390.3 336.5h.9v.9h-.9zM387.4 336.9h.9v.9h-.9zM388.9 335.6h.9v.9h-.9zM388.3 335.1h.9v.9h-.9zM388.2 334.8h.9v.9h-.9zM388.6 335.7h.9v.9h-.9zM388.6 334.2h.9v.9h-.9zM388.1 335.9h.9v.9h-.9zM391.0 336.2h.9v.9h-.9zM390.1 336.1h.9v.9h-.9zM389.1 336.5h.9v.9h-.9zM388.5 335.4h.9v.9h-.9zM388.8 336.1h.9v.9h-.9zM387.0 335.2h.9v.9h-.9zM388.1 334.3h.9v.9h-.9zM390.0 335.2h.9v.9h-.9zM389.3 336.5h.9v.9h-.9zM387.2 336.9h.9v.9h-.9zM388.7 336.4h.9v.9h-.9zM389.0 335.1h.9v.9h-.9zM389.9 336.0h.9v.9h-.9zM387.7 335.0h.9v.9h-.9zM388.6 336.6h.9v.9h-.9zM389.0 335.3h.9v.9h-.9zM389.9 337.0h.9v.9h-.9zM387.7 336.9h.9v.9h-.9zM388.3 336.6h.9v.9h-.9zM388.7 334.9h.9v.9h-.9zM388.1 335.6h.9v.9h-.9zM387.8 336.4h.9v.9h-.9zM387.4 336.1h.9v.9h-.9zM390.7 335.4h.9v.9h-.9zM390.4 337.0h.9v.9h-.9zM389.1 335.4h.9v.9h-.9zM388.6 336.0h.9v.9h-.9zM388.8 334.0h.9v.9h-.9zM388.4 336.8h.9v.9h-.9zM388.4 336.9h.9v.9h-.9zM389.7 336.6h.9v.9h-.9zM389.4 336.4h.9v.9h-.9zM389.3 335.6h.9v.9h-.9zM390.2 336.5h.9v.9h-.9zM389.4 335.8h.9v.9h-.9zM387.5 335.7h.9v.9h-.9zM389.4 336.6h.9v.9h-.9zM387.9 336.3h.9v.9h-.9zM388.2 334.4h.9v.9h-.9zM388.0 334.6h.9v.9h-.9zM389.2 335.0h.9v.9h-.9zM389.4 335.9h.9v.9h-.9zM390.5 336.6h.9v.9h-.9zM389.1 336.0h.9v.9h-.9zM388.4 334.7h.9v.9h-.9zM388.1 335.8h.9v.9h-.9zM387.4 335.6h.9v.9h-.9zM388.4 336.2h.9v.9h-.9zM389.4 335.1h.9v.9h-.9zM387.6 336.3h.9v.9h-.9zM388.4 334.0h.9v.9h-.9zM388.3 334.3h.9v.9h-.9zM387.7 335.5h.9v.9h-.9zM387.4 336.8h.9v.9h-.9zM389.9 335.4h.9v.9h-.9z" fill="rgb(229, 80, 36)"/>
<rect x="377.1" y="297.1" width="40.299999999999955" height="32.099999999999966" fill="none" stroke="#2a2a2a" stroke-width="0.7"/>
<text x="397.25" y="298.40" font-size="4.4" text-anchor="middle" fill="#111" style="" >Ki67+ LSC</text>
<text x="397.25" y="304.50" font-size="4.8" text-anchor="middle" fill="#111" style="" >23.4</text>
<text x="345.40" y="263.50" font-size="13.8" text-anchor="start" fill="#231f20" style="font-weight:bold;" >Day 10</text>
<line x1="342.10" y1="280.00" x2="344.10" y2="280.00" stroke="#555" stroke-width="0.6" />
<text x="340.5" y="281.5" font-size="3.8" text-anchor="end" fill="#333">10<tspan dy="-1.6" font-size="2.7">7</tspan></text>
<line x1="342.10" y1="300.90" x2="344.10" y2="300.90" stroke="#555" stroke-width="0.6" />
<text x="340.5" y="302.4" font-size="3.8" text-anchor="end" fill="#333">10<tspan dy="-1.6" font-size="2.7">6</tspan></text>
<line x1="342.10" y1="322.40" x2="344.10" y2="322.40" stroke="#555" stroke-width="0.6" />
<text x="340.5" y="323.9" font-size="3.8" text-anchor="end" fill="#333">10<tspan dy="-1.6" font-size="2.7">5</tspan></text>
<line x1="342.10" y1="344.10" x2="344.10" y2="344.10" stroke="#555" stroke-width="0.6" />
<text x="340.5" y="345.6" font-size="3.8" text-anchor="end" fill="#333">10<tspan dy="-1.6" font-size="2.7">4</tspan></text>
<line x1="342.10" y1="363.50" x2="344.10" y2="363.50" stroke="#555" stroke-width="0.6" />
<text x="340.5" y="365.0" font-size="3.8" text-anchor="end" fill="#333">10<tspan dy="-1.6" font-size="2.7">3</tspan></text>
<line x1="348.70" y1="365.90" x2="348.70" y2="367.90" stroke="#555" stroke-width="0.6" />
<text x="348.70000000000005" y="373.5" font-size="3.8" text-anchor="middle" fill="#333">10<tspan dy="-1.6" font-size="2.7">2</tspan></text>
<line x1="369.60" y1="365.90" x2="369.60" y2="367.90" stroke="#555" stroke-width="0.6" />
<text x="369.6" y="373.5" font-size="3.8" text-anchor="middle" fill="#333">10<tspan dy="-1.6" font-size="2.7">3</tspan></text>
<line x1="395.10" y1="365.90" x2="395.10" y2="367.90" stroke="#555" stroke-width="0.6" />
<text x="395.1" y="373.5" font-size="3.8" text-anchor="middle" fill="#333">10<tspan dy="-1.6" font-size="2.7">4</tspan></text>
<line x1="419.30" y1="365.90" x2="419.30" y2="367.90" stroke="#555" stroke-width="0.6" />
<text x="419.3" y="373.5" font-size="3.8" text-anchor="middle" fill="#333">10<tspan dy="-1.6" font-size="2.7">5</tspan></text>
<line x1="439.60" y1="365.90" x2="439.60" y2="367.90" stroke="#555" stroke-width="0.6" />
<text x="439.6" y="373.5" font-size="3.8" text-anchor="middle" fill="#333">10<tspan dy="-1.6" font-size="2.7">6</tspan></text>
<line x1="354.99" y1="365.90" x2="354.99" y2="367.10" stroke="#888" stroke-width="0.4" />
<line x1="358.67" y1="365.90" x2="358.67" y2="367.10" stroke="#888" stroke-width="0.4" />
<line x1="361.28" y1="365.90" x2="361.28" y2="367.10" stroke="#888" stroke-width="0.4" />
<line x1="363.31" y1="365.90" x2="363.31" y2="367.10" stroke="#888" stroke-width="0.4" />
<line x1="364.96" y1="365.90" x2="364.96" y2="367.10" stroke="#888" stroke-width="0.4" />
<line x1="366.36" y1="365.90" x2="366.36" y2="367.10" stroke="#888" stroke-width="0.4" />
<line x1="367.57" y1="365.90" x2="367.57" y2="367.10" stroke="#888" stroke-width="0.4" />
<line x1="368.64" y1="365.90" x2="368.64" y2="367.10" stroke="#888" stroke-width="0.4" />
<line x1="377.28" y1="365.90" x2="377.28" y2="367.10" stroke="#888" stroke-width="0.4" />
<line x1="381.77" y1="365.90" x2="381.77" y2="367.10" stroke="#888" stroke-width="0.4" />
<line x1="384.95" y1="365.90" x2="384.95" y2="367.10" stroke="#888" stroke-width="0.4" />
<line x1="387.42" y1="365.90" x2="387.42" y2="367.10" stroke="#888" stroke-width="0.4" />
<line x1="389.44" y1="365.90" x2="389.44" y2="367.10" stroke="#888" stroke-width="0.4" />
<line x1="391.15" y1="365.90" x2="391.15" y2="367.10" stroke="#888" stroke-width="0.4" />
<line x1="392.63" y1="365.90" x2="392.63" y2="367.10" stroke="#888" stroke-width="0.4" />
<line x1="393.93" y1="365.90" x2="393.93" y2="367.10" stroke="#888" stroke-width="0.4" />
<line x1="402.38" y1="365.90" x2="402.38" y2="367.10" stroke="#888" stroke-width="0.4" />
<line x1="406.65" y1="365.90" x2="406.65" y2="367.10" stroke="#888" stroke-width="0.4" />
<line x1="409.67" y1="365.90" x2="409.67" y2="367.10" stroke="#888" stroke-width="0.4" />
<line x1="412.02" y1="365.90" x2="412.02" y2="367.10" stroke="#888" stroke-width="0.4" />
<line x1="413.93" y1="365.90" x2="413.93" y2="367.10" stroke="#888" stroke-width="0.4" />
<line x1="415.55" y1="365.90" x2="415.55" y2="367.10" stroke="#888" stroke-width="0.4" />
<line x1="416.95" y1="365.90" x2="416.95" y2="367.10" stroke="#888" stroke-width="0.4" />
<line x1="418.19" y1="365.90" x2="418.19" y2="367.10" stroke="#888" stroke-width="0.4" />
<line x1="425.41" y1="365.90" x2="425.41" y2="367.10" stroke="#888" stroke-width="0.4" />
<line x1="428.99" y1="365.90" x2="428.99" y2="367.10" stroke="#888" stroke-width="0.4" />
<line x1="431.52" y1="365.90" x2="431.52" y2="367.10" stroke="#888" stroke-width="0.4" />
<line x1="433.49" y1="365.90" x2="433.49" y2="367.10" stroke="#888" stroke-width="0.4" />
<line x1="435.10" y1="365.90" x2="435.10" y2="367.10" stroke="#888" stroke-width="0.4" />
<line x1="436.46" y1="365.90" x2="436.46" y2="367.10" stroke="#888" stroke-width="0.4" />
<line x1="437.63" y1="365.90" x2="437.63" y2="367.10" stroke="#888" stroke-width="0.4" />
<line x1="438.67" y1="365.90" x2="438.67" y2="367.10" stroke="#888" stroke-width="0.4" />
<line x1="342.90" y1="357.66" x2="344.10" y2="357.66" stroke="#888" stroke-width="0.4" />
<line x1="342.90" y1="354.24" x2="344.10" y2="354.24" stroke="#888" stroke-width="0.4" />
<line x1="342.90" y1="351.82" x2="344.10" y2="351.82" stroke="#888" stroke-width="0.4" />
<line x1="342.90" y1="349.94" x2="344.10" y2="349.94" stroke="#888" stroke-width="0.4" />
<line x1="342.90" y1="348.40" x2="344.10" y2="348.40" stroke="#888" stroke-width="0.4" />
<line x1="342.90" y1="347.11" x2="344.10" y2="347.11" stroke="#888" stroke-width="0.4" />
<line x1="342.90" y1="345.98" x2="344.10" y2="345.98" stroke="#888" stroke-width="0.4" />
<line x1="342.90" y1="344.99" x2="344.10" y2="344.99" stroke="#888" stroke-width="0.4" />
<line x1="342.90" y1="337.57" x2="344.10" y2="337.57" stroke="#888" stroke-width="0.4" />
<line x1="342.90" y1="333.75" x2="344.10" y2="333.75" stroke="#888" stroke-width="0.4" />
<line x1="342.90" y1="331.04" x2="344.10" y2="331.04" stroke="#888" stroke-width="0.4" />
<line x1="342.90" y1="328.93" x2="344.10" y2="328.93" stroke="#888" stroke-width="0.4" />
<line x1="342.90" y1="327.21" x2="344.10" y2="327.21" stroke="#888" stroke-width="0.4" />
<line x1="342.90" y1="325.76" x2="344.10" y2="325.76" stroke="#888" stroke-width="0.4" />
<line x1="342.90" y1="324.50" x2="344.10" y2="324.50" stroke="#888" stroke-width="0.4" />
<line x1="342.90" y1="323.39" x2="344.10" y2="323.39" stroke="#888" stroke-width="0.4" />
<line x1="342.90" y1="315.93" x2="344.10" y2="315.93" stroke="#888" stroke-width="0.4" />
<line x1="342.90" y1="312.14" x2="344.10" y2="312.14" stroke="#888" stroke-width="0.4" />
<line x1="342.90" y1="309.46" x2="344.10" y2="309.46" stroke="#888" stroke-width="0.4" />
<line x1="342.90" y1="307.37" x2="344.10" y2="307.37" stroke="#888" stroke-width="0.4" />
<line x1="342.90" y1="305.67" x2="344.10" y2="305.67" stroke="#888" stroke-width="0.4" />
<line x1="342.90" y1="304.23" x2="344.10" y2="304.23" stroke="#888" stroke-width="0.4" />
<line x1="342.90" y1="302.98" x2="344.10" y2="302.98" stroke="#888" stroke-width="0.4" />
<line x1="342.90" y1="301.88" x2="344.10" y2="301.88" stroke="#888" stroke-width="0.4" />
<line x1="342.90" y1="294.61" x2="344.10" y2="294.61" stroke="#888" stroke-width="0.4" />
<line x1="342.90" y1="290.93" x2="344.10" y2="290.93" stroke="#888" stroke-width="0.4" />
<line x1="342.90" y1="288.32" x2="344.10" y2="288.32" stroke="#888" stroke-width="0.4" />
<line x1="342.90" y1="286.29" x2="344.10" y2="286.29" stroke="#888" stroke-width="0.4" />
<line x1="342.90" y1="284.64" x2="344.10" y2="284.64" stroke="#888" stroke-width="0.4" />
<line x1="342.90" y1="283.24" x2="344.10" y2="283.24" stroke="#888" stroke-width="0.4" />
<line x1="342.90" y1="282.03" x2="344.10" y2="282.03" stroke="#888" stroke-width="0.4" />
<line x1="342.90" y1="280.96" x2="344.10" y2="280.96" stroke="#888" stroke-width="0.4" />
<text x="392.4" y="384.9" font-size="4.3" text-anchor="middle" fill="#333">Comp-FL5-A :: hCD45-APC</text>
<text transform="translate(325.2,317) rotate(-90)" font-size="4.3" text-anchor="middle" fill="#333">Comp-FL5-A :: Ki67-PC7</text>
<path d="M195.8,384.3 L195.8,340 M192.6,348.2 L195.8,339.3 L199,348.2" fill="none" stroke="#2a2a2a" stroke-width="1.25"/>
<path d="M195.2,384.1 L241.8,384.1 M233.5,380.8 L242.5,384.1 L233.5,387.4" fill="none" stroke="#2a2a2a" stroke-width="1.25"/>
<text transform="translate(188.7,363.8) rotate(-90)" font-size="14.5" text-anchor="middle" fill="#231f20" style="font-weight:bold">Ki67</text>
<text x="200.80" y="401.40" font-size="13.2" text-anchor="start" fill="#231f20" style="font-weight:bold;" >CD45</text>
<text x="110.55" y="437.70" font-size="14" text-anchor="middle" fill="#231f20" style="" >Pt. 1</text>
<line x1="89.10" y1="444.90" x2="135.40" y2="444.90" stroke="#231f20" stroke-width="1.4" />
<text transform="translate(66.8,460.7) scale(0.86,1)" font-size="10.2" text-anchor="middle" fill="#231f20" style="font-weight:bold">Val</text>
<rect x="97.90" y="456.00" width="3.10" height="2.00" fill="#111" />
<text x="125.40" y="461.00" font-size="10" text-anchor="middle" fill="#231f20" style="font-weight:bold;" >+</text>
<rect x="87.4" y="466.1" width="49.2" height="24.299999999999955" fill="#f9f9f9" stroke="#1a1a1a" stroke-width="0.9"/>
<rect x="90.9" y="477.2" width="18.0" height="2.0" rx="1.0" fill="#3a3a3a" style="filter:blur(0.5px)"/>
<rect x="115.5" y="475.7" width="18.400000000000006" height="4.0" rx="2.0" fill="#111" style="filter:blur(0.5px)"/>
<text x="36.90" y="482.60" font-size="14.2" text-anchor="start" fill="#231f20" style="" >c-MYC</text>
<text x="91.60" y="500.70" font-size="10.4" text-anchor="start" fill="#4a4a4a" style="" >1.0</text>
<text x="111.90" y="500.70" font-size="10.4" text-anchor="start" fill="#4a4a4a" style="" >1.69</text>
<rect x="87.4" y="509.1" width="49.2" height="26.0" fill="#f9f9f9" stroke="#1a1a1a" stroke-width="0.9"/>
<rect x="90.9" y="521.5" width="8.099999999999994" height="1.4" rx="0.7" fill="#666" style="filter:blur(0.5px)"/>
<rect x="98" y="521.8" width="9.799999999999997" height="1.2" rx="0.6" fill="#aaa" style="filter:blur(0.5px)"/>
<rect x="115.3" y="522.35" width="16.299999999999997" height="2.5" rx="1.25" fill="#151515" style="filter:blur(0.5px)"/>
<text x="39.30" y="528.00" font-size="14.2" text-anchor="start" fill="#231f20" style="" >CDK4</text>
<text x="92.80" y="546.30" font-size="10.4" text-anchor="start" fill="#4a4a4a" style="" >1.0</text>
<text x="113.40" y="546.30" font-size="10.4" text-anchor="start" fill="#4a4a4a" style="" >1.52</text>
<rect x="87.4" y="553.1" width="49.2" height="26.100000000000023" fill="#f9f9f9" stroke="#1a1a1a" stroke-width="0.9"/>
<rect x="91.8" y="567.15" width="17.900000000000006" height="2.3" rx="1.15" fill="#5a5a5a" style="filter:blur(0.5px)"/>
<rect x="116.8" y="567.1" width="17.299999999999997" height="3.6" rx="1.8" fill="#151515" style="filter:blur(0.5px)"/>
<text x="39.40" y="571.20" font-size="14.2" text-anchor="start" fill="#231f20" style="" >CDK6</text>
<text x="94.30" y="589.40" font-size="10.4" text-anchor="start" fill="#4a4a4a" style="" >1.0</text>
<text x="115.50" y="589.40" font-size="10.4" text-anchor="start" fill="#4a4a4a" style="" >1.64</text>
<rect x="87.4" y="596.7" width="49.2" height="24.699999999999932" fill="#f9f9f9" stroke="#1a1a1a" stroke-width="0.9"/>
<path d="M89,607.8000000000001 Q99.7,606.7 110.4,607.8000000000001 L109.80000000000001,612.8000000000001 Q99.7,612.2 89.6,613.2 Z" fill="#0c0c0c" style="filter:blur(0.35px)"/>
<path d="M114,607.8000000000001 Q124.5,606.7 135,607.8000000000001 L134.4,612.8000000000001 Q124.5,612.2 114.6,613.2 Z" fill="#0c0c0c" style="filter:blur(0.35px)"/>
<text x="39.60" y="613.60" font-size="14.2" text-anchor="start" fill="#231f20" style="" >&#946;-actin</text>
</svg></body></html>
